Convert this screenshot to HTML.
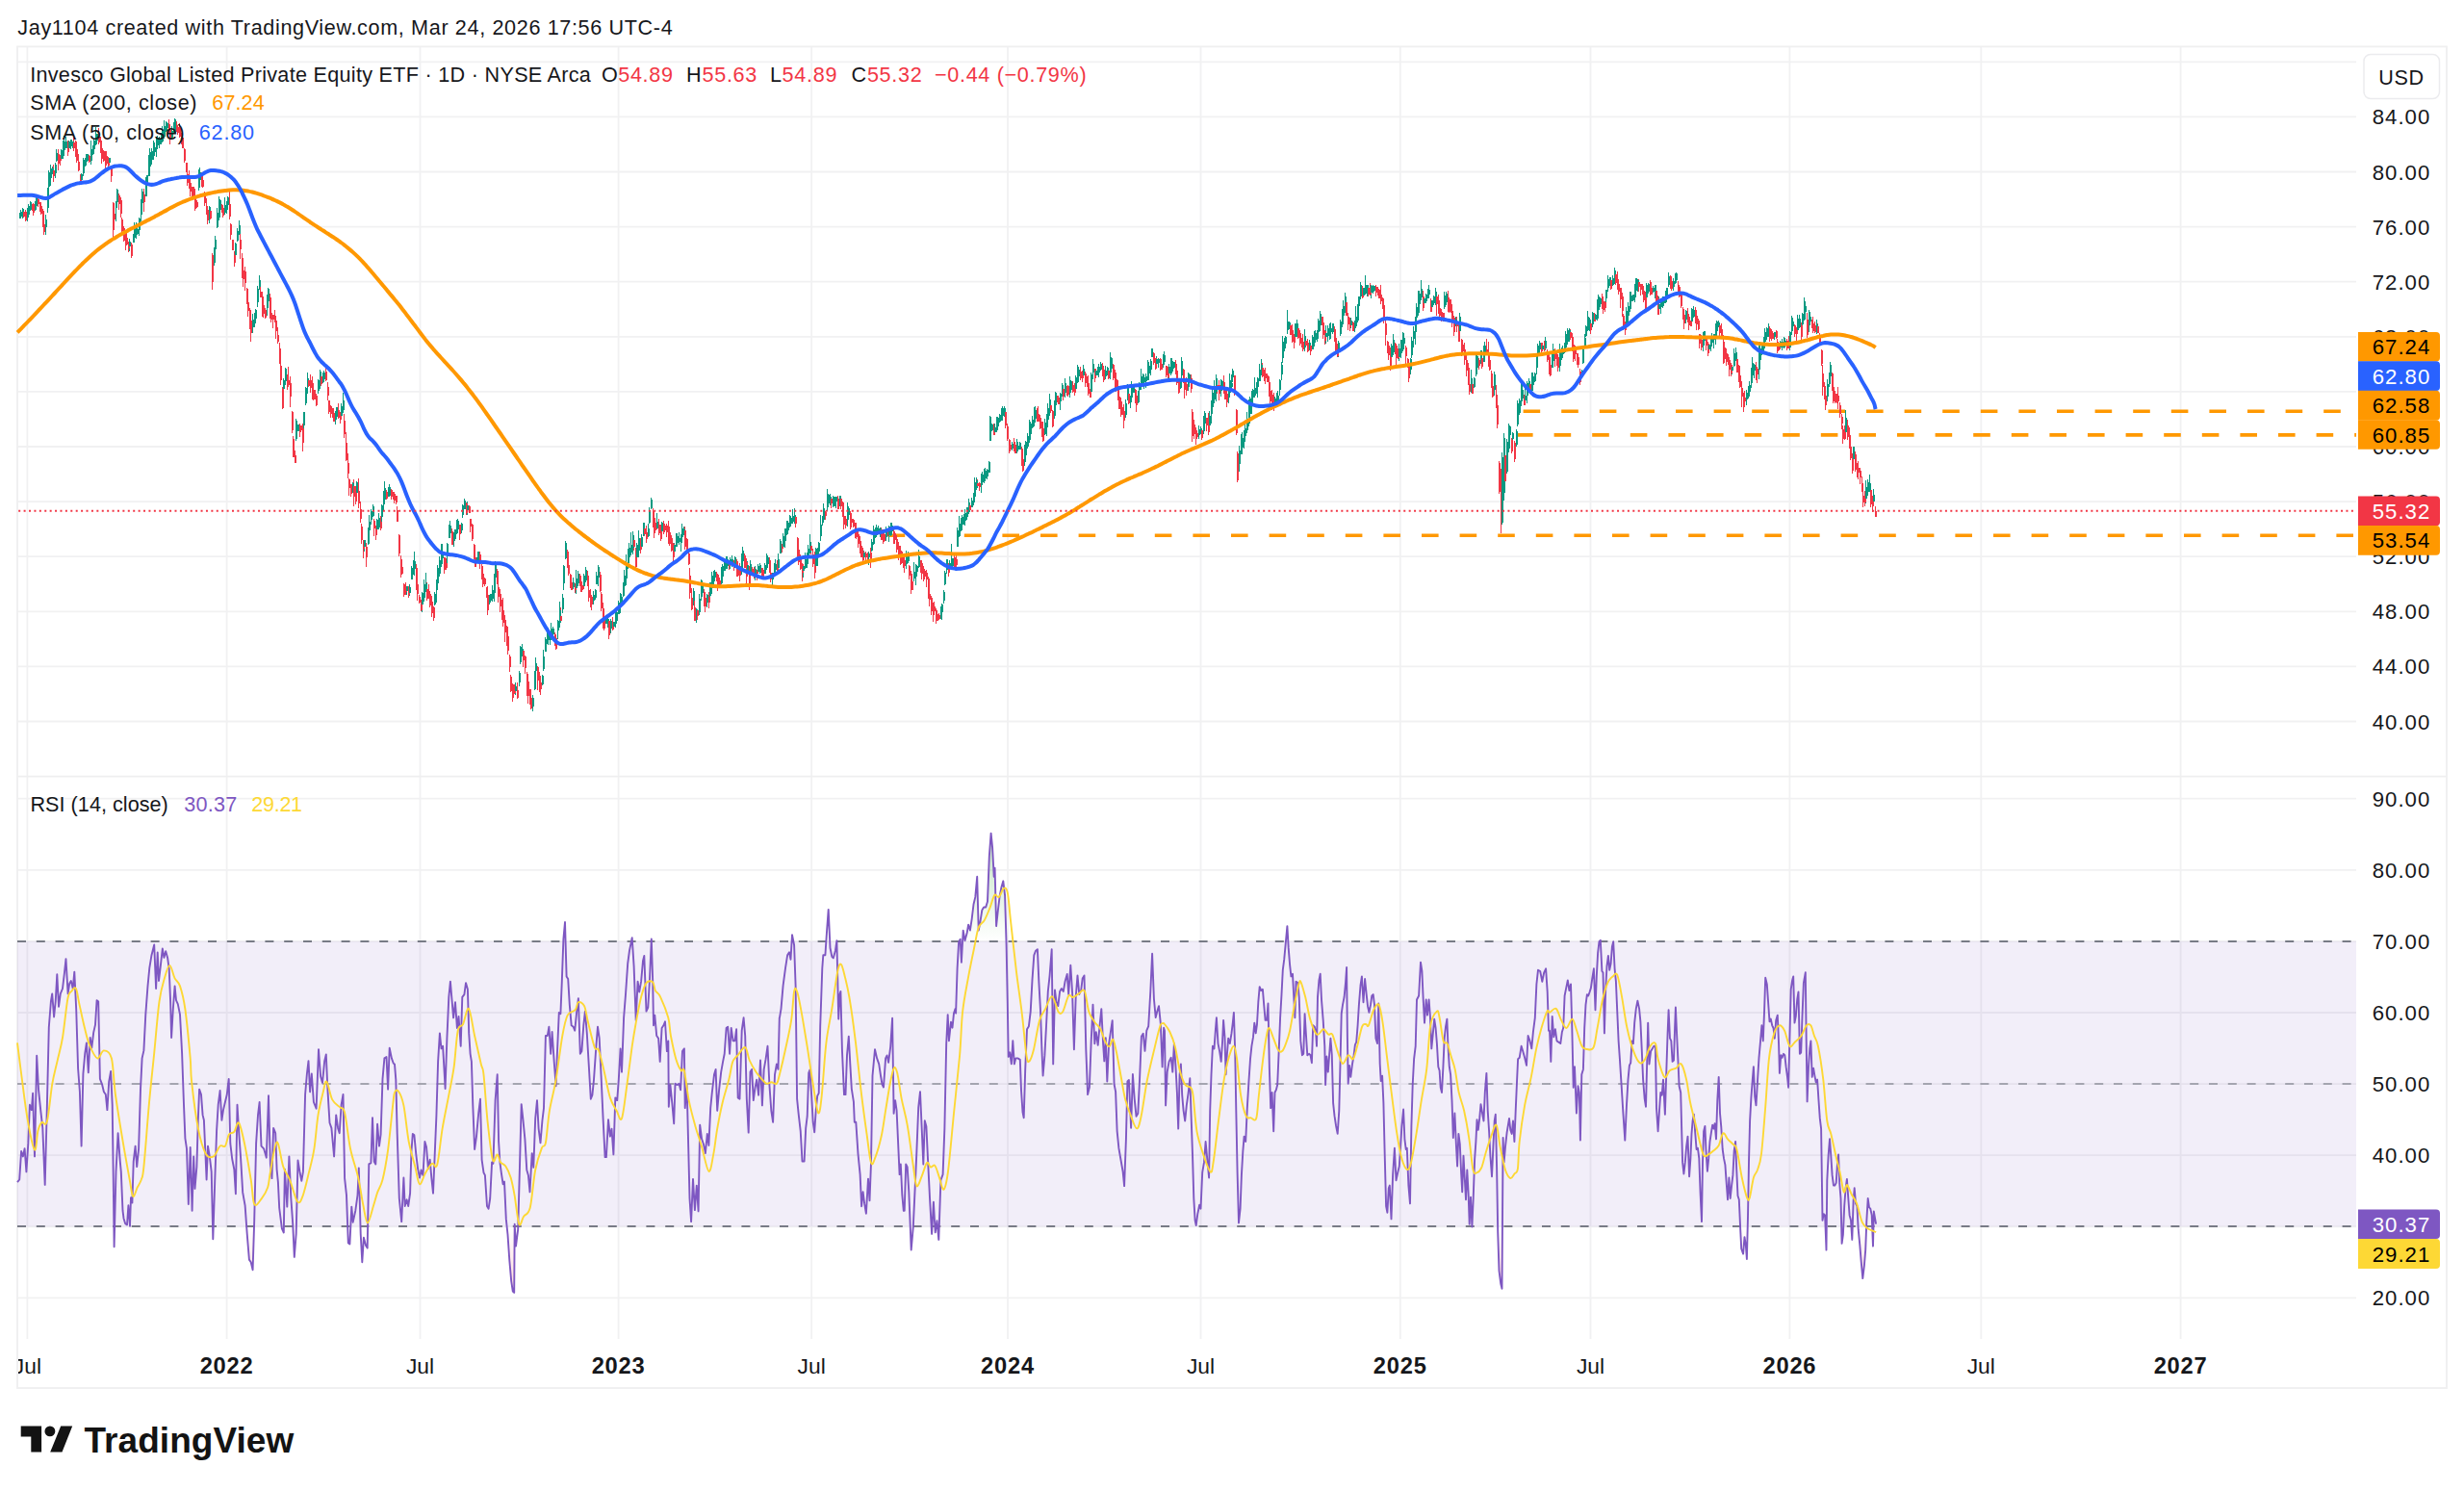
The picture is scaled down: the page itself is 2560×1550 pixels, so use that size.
<!DOCTYPE html>
<html lang="en"><head><meta charset="utf-8"><title>PSP chart</title>
<style>html,body{margin:0;padding:0;background:#fff}body{width:2560px;height:1550px;overflow:hidden}</style></head>
<body>
<svg width="2560" height="1550" viewBox="0 0 2560 1550" style="display:block">
<rect width="2560" height="1550" fill="#fff"/>
<path d="M28.4 48 V1391M235.6 48 V1391M436.5 48 V1391M642.6 48 V1391M843.2 48 V1391M1047 48 V1391M1247.5 48 V1391M1454.8 48 V1391M1652.5 48 V1391M1859.4 48 V1391M2058.3 48 V1391M2265.6 48 V1391M18 749.5 H2448M18 692.4 H2448M18 635.3 H2448M18 578.2 H2448M18 521.1 H2448M18 464 H2448M18 406.9 H2448M18 349.8 H2448M18 292.7 H2448M18 235.6 H2448M18 178.5 H2448M18 121.4 H2448M18 64.3 H2448M18 1348.4 H2448M18 1274.3 H2448M18 1200.2 H2448M18 1126.1 H2448M18 1052 H2448M18 977.9 H2448M18 903.8 H2448M18 829.7 H2448" stroke="#f1f1f2" stroke-width="1.8" fill="none"/>
<path d="M18 806.7 H2542" stroke="#efeff0" stroke-width="1.8" fill="none"/>
<rect x="18" y="48.4" width="2524" height="1393.6" fill="none" stroke="#efeff0" stroke-width="1.8"/>
<rect x="18" y="977.9" width="2430" height="296.4" fill="#7e57c2" fill-opacity="0.1"/>
<path d="M18 978 H2448 M18 1274 H2448" stroke="#787b86" stroke-width="2" stroke-dasharray="9 10.8" fill="none"/>
<path d="M18 1126 H2448" stroke="#787b86" stroke-opacity="0.6" stroke-width="2" stroke-dasharray="9 10.8" fill="none"/>
<text x="2495" y="757.5" text-anchor="middle" font-family="Liberation Sans, Arial, sans-serif" font-size="22.2" letter-spacing="1.0" fill="#16171b">40.00</text>
<text x="2495" y="700.4" text-anchor="middle" font-family="Liberation Sans, Arial, sans-serif" font-size="22.2" letter-spacing="1.0" fill="#16171b">44.00</text>
<text x="2495" y="643.3" text-anchor="middle" font-family="Liberation Sans, Arial, sans-serif" font-size="22.2" letter-spacing="1.0" fill="#16171b">48.00</text>
<text x="2495" y="586.2" text-anchor="middle" font-family="Liberation Sans, Arial, sans-serif" font-size="22.2" letter-spacing="1.0" fill="#16171b">52.00</text>
<text x="2495" y="529.1" text-anchor="middle" font-family="Liberation Sans, Arial, sans-serif" font-size="22.2" letter-spacing="1.0" fill="#16171b">56.00</text>
<text x="2495" y="472" text-anchor="middle" font-family="Liberation Sans, Arial, sans-serif" font-size="22.2" letter-spacing="1.0" fill="#16171b">60.00</text>
<text x="2495" y="414.9" text-anchor="middle" font-family="Liberation Sans, Arial, sans-serif" font-size="22.2" letter-spacing="1.0" fill="#16171b">64.00</text>
<text x="2495" y="357.8" text-anchor="middle" font-family="Liberation Sans, Arial, sans-serif" font-size="22.2" letter-spacing="1.0" fill="#16171b">68.00</text>
<text x="2495" y="300.7" text-anchor="middle" font-family="Liberation Sans, Arial, sans-serif" font-size="22.2" letter-spacing="1.0" fill="#16171b">72.00</text>
<text x="2495" y="243.6" text-anchor="middle" font-family="Liberation Sans, Arial, sans-serif" font-size="22.2" letter-spacing="1.0" fill="#16171b">76.00</text>
<text x="2495" y="186.5" text-anchor="middle" font-family="Liberation Sans, Arial, sans-serif" font-size="22.2" letter-spacing="1.0" fill="#16171b">80.00</text>
<text x="2495" y="129.4" text-anchor="middle" font-family="Liberation Sans, Arial, sans-serif" font-size="22.2" letter-spacing="1.0" fill="#16171b">84.00</text>
<text x="2495" y="1356.4" text-anchor="middle" font-family="Liberation Sans, Arial, sans-serif" font-size="22.2" letter-spacing="1.0" fill="#16171b">20.00</text>
<text x="2495" y="1282.3" text-anchor="middle" font-family="Liberation Sans, Arial, sans-serif" font-size="22.2" letter-spacing="1.0" fill="#16171b">30.00</text>
<text x="2495" y="1208.2" text-anchor="middle" font-family="Liberation Sans, Arial, sans-serif" font-size="22.2" letter-spacing="1.0" fill="#16171b">40.00</text>
<text x="2495" y="1134.1" text-anchor="middle" font-family="Liberation Sans, Arial, sans-serif" font-size="22.2" letter-spacing="1.0" fill="#16171b">50.00</text>
<text x="2495" y="1060" text-anchor="middle" font-family="Liberation Sans, Arial, sans-serif" font-size="22.2" letter-spacing="1.0" fill="#16171b">60.00</text>
<text x="2495" y="985.9" text-anchor="middle" font-family="Liberation Sans, Arial, sans-serif" font-size="22.2" letter-spacing="1.0" fill="#16171b">70.00</text>
<text x="2495" y="911.8" text-anchor="middle" font-family="Liberation Sans, Arial, sans-serif" font-size="22.2" letter-spacing="1.0" fill="#16171b">80.00</text>
<text x="2495" y="837.7" text-anchor="middle" font-family="Liberation Sans, Arial, sans-serif" font-size="22.2" letter-spacing="1.0" fill="#16171b">90.00</text>
<path d="M1582.6 427.2 H2448" stroke="#ff9800" stroke-width="3.6" stroke-dasharray="17.6 22" fill="none"/>
<path d="M1575 451.9 H2448" stroke="#ff9800" stroke-width="3.6" stroke-dasharray="17.6 22" fill="none"/>
<path d="M922.6 556.2 H2448" stroke="#ff9800" stroke-width="3.6" stroke-dasharray="17.6 22" fill="none"/>
<g fill="none" shape-rendering="crispEdges">
<path d="M20.5 221V227M21.5 218V226M23.5 216V227M28.5 216V230M29.5 212V224M31.5 209V219M36.5 209V219M37.5 204V215M47.5 223V244M49.5 195V221M50.5 177V202M52.5 171V193M54.5 173V181M57.5 169V185M58.5 155V168M63.5 155V167M65.5 146V165M66.5 141V158M68.5 142V154M71.5 146V155M73.5 145V155M75.5 147V154M84.5 180V189M86.5 164V183M88.5 164V173M89.5 160V169M91.5 160V167M94.5 146V171M96.5 151V161M97.5 144V156M99.5 132V151M100.5 139V147M113.5 164V172M120.5 209V230M121.5 196V210M134.5 248V261M138.5 243V252M139.5 231V252M141.5 231V248M142.5 235V243M144.5 226V245M146.5 207V230M147.5 196V215M151.5 184V204M152.5 182V193M154.5 161V183M155.5 154V173M157.5 154V171M159.5 146V166M160.5 152V159M162.5 142V163M163.5 141V152M165.5 142V154M167.5 138V150M168.5 131V147M170.5 125V144M172.5 126V137M173.5 128V134M178.5 131V145M180.5 127V139M181.5 123V139M206.5 176V198M207.5 174V190M217.5 214V232M222.5 257V276M223.5 245V267M225.5 216V237M227.5 204V229M228.5 207V219M233.5 205V223M235.5 209V222M236.5 204V217M244.5 252V266M246.5 237V251M248.5 229V244M262.5 326V346M264.5 325V340M265.5 321V333M267.5 297V319M269.5 286V301M277.5 306V328M278.5 299V317M294.5 393V410M296.5 382V400M307.5 435V458M309.5 441V448M315.5 428V450M317.5 402V421M319.5 387V409M330.5 394V409M332.5 384V404M335.5 387V398M336.5 385V396M348.5 427V441M349.5 423V436M354.5 419V436M356.5 408V429M366.5 501V512M370.5 500V513M378.5 561V573M382.5 548V566M383.5 535V555M385.5 529V545M387.5 524V537M391.5 539V552M393.5 533V550M396.5 524V546M398.5 510V531M399.5 500V520M403.5 506V516M404.5 503V516M422.5 609V618M425.5 607V619M427.5 588V602M429.5 582V597M430.5 573V598M438.5 615V636M440.5 602V625M442.5 595V615M451.5 615V629M453.5 602V626M454.5 587V607M456.5 578V599M458.5 565V589M459.5 565V581M464.5 564V587M466.5 545V559M467.5 541V555M471.5 553V568M472.5 550V562M474.5 540V555M475.5 539V553M479.5 543V554M480.5 524V538M482.5 518V529M485.5 521V535M495.5 579V585M496.5 573V585M508.5 618V628M509.5 617V626M511.5 608V625M513.5 596V625M514.5 583V603M535.5 709V722M539.5 697V713M540.5 671V690M542.5 669V682M553.5 722V739M555.5 697V717M556.5 683V703M563.5 701V712M564.5 675V697M566.5 662V677M568.5 651V669M569.5 652V670M571.5 659V670M572.5 647V665M574.5 651V661M579.5 644V664M581.5 625V652M584.5 617V637M585.5 587V613M587.5 562V581M595.5 600V612M598.5 592V617M600.5 593V609M606.5 596V610M608.5 589V605M616.5 614V628M618.5 612V623M619.5 594V607M621.5 587V609M629.5 639V648M631.5 641V652M634.5 643V658M637.5 646V653M639.5 636V652M640.5 633V648M642.5 624V638M644.5 616V637M645.5 617V625M647.5 605V620M648.5 592V616M650.5 576V608M652.5 570V591M653.5 564V579M655.5 553V577M657.5 552V576M661.5 564V582M663.5 551V579M666.5 555V570M668.5 543V557M673.5 544V558M674.5 527V544M676.5 517V529M682.5 533V549M687.5 542V553M700.5 564V576M702.5 554V568M703.5 554V568M705.5 553V566M707.5 555V573M708.5 544V560M710.5 547V556M720.5 611V629M723.5 632V647M726.5 617V639M728.5 602V624M729.5 603V620M734.5 617V631M737.5 605V622M739.5 594V617M741.5 593V611M742.5 592V601M749.5 589V607M750.5 586V599M752.5 580V593M754.5 578V591M755.5 581V591M758.5 579V591M760.5 577V589M763.5 578V590M770.5 575V597M771.5 568V589M776.5 583V595M779.5 582V599M784.5 588V603M787.5 586V596M789.5 585V596M794.5 585V596M796.5 575V592M797.5 577V586M802.5 595V610M804.5 585V599M805.5 581V593M808.5 575V593M810.5 560V575M813.5 554V569M815.5 549V569M817.5 541V556M818.5 541V553M820.5 535V548M821.5 536V547M823.5 529V544M825.5 528V544M834.5 587V600M836.5 574V591M838.5 574V590M839.5 566V585M841.5 555V575M847.5 569V590M849.5 569V588M850.5 563V579M852.5 535V562M854.5 536V546M855.5 523V543M859.5 508V531M860.5 513V527M862.5 513V525M865.5 515V527M867.5 516V526M868.5 516V528M872.5 515V526M880.5 522V547M881.5 526V537M897.5 572V581M902.5 573V587M905.5 560V573M907.5 546V566M909.5 548V559M910.5 545V556M912.5 546V555M914.5 548V558M920.5 547V562M923.5 546V563M925.5 543V557M926.5 544V556M941.5 572V591M943.5 573V585M949.5 584V604M951.5 586V608M952.5 587V599M954.5 571V590M977.5 630V643M978.5 627V644M980.5 613V627M981.5 593V608M983.5 581V596M986.5 582V592M988.5 565V589M990.5 580V588M994.5 548V568M996.5 536V558M998.5 538V552M999.5 535V547M1001.5 534V545M1002.5 529V546M1004.5 527V540M1006.5 518V534M1009.5 517V527M1011.5 512V525M1012.5 496V516M1014.5 496V509M1019.5 492V512M1020.5 490V503M1022.5 487V502M1023.5 486V500M1025.5 487V498M1027.5 479V491M1028.5 432V458M1030.5 440V448M1033.5 440V451M1035.5 433V449M1036.5 433V447M1038.5 430V439M1040.5 424V437M1041.5 422V437M1043.5 422V433M1051.5 459V468M1056.5 456V471M1057.5 459V469M1059.5 459V467M1064.5 462V484M1065.5 458V474M1067.5 450V466M1069.5 436V460M1070.5 438V455M1072.5 432V445M1074.5 423V443M1075.5 422V436M1085.5 435V452M1087.5 430V453M1088.5 419V436M1090.5 409V432M1095.5 416V435M1096.5 407V427M1101.5 408V426M1103.5 398V412M1106.5 393V413M1111.5 391V413M1112.5 396V408M1117.5 390V406M1119.5 379V398M1120.5 381V392M1125.5 379V392M1133.5 387V412M1135.5 373V394M1138.5 385V391M1140.5 381V390M1141.5 378V392M1143.5 376V385M1148.5 380V394M1150.5 381V390M1153.5 366V394M1154.5 371V387M1169.5 415V434M1171.5 399V416M1174.5 411V424M1175.5 396V418M1177.5 402V408M1182.5 406V419M1183.5 397V412M1185.5 383V405M1187.5 388V398M1188.5 389V404M1190.5 388V403M1192.5 374V395M1193.5 376V388M1195.5 373V390M1196.5 362V371M1201.5 370V379M1203.5 372V382M1208.5 368V382M1209.5 365V378M1214.5 378V393M1216.5 372V390M1217.5 372V387M1219.5 376V383M1226.5 394V404M1227.5 371V394M1234.5 387V406M1235.5 388V397M1245.5 442V456M1247.5 443V451M1250.5 432V451M1251.5 427V440M1256.5 427V442M1258.5 416V440M1259.5 403V427M1261.5 395V419M1263.5 389V417M1268.5 394V412M1269.5 395V406M1276.5 403V419M1277.5 388V411M1279.5 389V405M1280.5 383V397M1287.5 463V490M1289.5 451V472M1290.5 449V466M1292.5 447V466M1293.5 438V457M1295.5 428V450M1297.5 415V443M1298.5 412V436M1300.5 406V430M1301.5 404V416M1303.5 392V413M1305.5 397V409M1306.5 392V413M1308.5 378V396M1310.5 373V390M1324.5 412V424M1326.5 408V422M1327.5 406V423M1329.5 394V411M1331.5 376V395M1332.5 349V377M1334.5 351V365M1335.5 349V358M1337.5 322V347M1339.5 334V342M1345.5 336V353M1347.5 332V350M1355.5 342V365M1360.5 353V364M1363.5 348V363M1365.5 344V360M1366.5 343V356M1368.5 343V355M1369.5 331V347M1371.5 323V344M1377.5 338V357M1379.5 338V355M1381.5 336V353M1382.5 335V352M1384.5 336V347M1390.5 354V371M1392.5 332V349M1394.5 321V340M1395.5 312V333M1397.5 304V325M1403.5 330V341M1407.5 333V345M1408.5 318V340M1410.5 316V335M1411.5 308V320M1413.5 293V311M1416.5 299V308M1418.5 286V306M1420.5 296V308M1424.5 296V310M1426.5 296V305M1428.5 297V302M1445.5 357V373M1447.5 347V369M1453.5 357V375M1455.5 353V372M1457.5 345V365M1458.5 346V361M1465.5 372V389M1466.5 350V372M1468.5 339V361M1470.5 329V358M1471.5 315V335M1473.5 302V328M1474.5 302V318M1476.5 291V312M1479.5 308V316M1481.5 305V315M1483.5 300V310M1484.5 296V309M1487.5 312V323M1489.5 307V317M1491.5 299V317M1500.5 303V321M1502.5 303V317M1512.5 329V339M1516.5 325V355M1528.5 384V408M1531.5 392V403M1533.5 367V391M1534.5 369V386M1538.5 364V378M1541.5 359V376M1542.5 355V376M1552.5 386V411M1560.5 470V545M1562.5 450V520M1565.5 456V492M1567.5 440V470M1568.5 442V453M1571.5 449V457M1575.5 446V464M1576.5 416V443M1578.5 414V431M1580.5 396V422M1581.5 396V414M1584.5 401V417M1586.5 396V419M1588.5 393V407M1591.5 387V406M1592.5 387V403M1594.5 387V397M1596.5 370V389M1597.5 357V378M1599.5 354V368M1602.5 358V364M1605.5 350V364M1612.5 366V382M1613.5 357V381M1620.5 357V386M1622.5 361V374M1623.5 359V369M1625.5 356V367M1626.5 344V366M1628.5 341V358M1630.5 341V355M1643.5 384V393M1644.5 360V378M1646.5 347V362M1647.5 338V350M1649.5 323V344M1651.5 330V344M1654.5 324V340M1657.5 326V334M1659.5 311V333M1660.5 306V323M1662.5 309V319M1668.5 301V314M1670.5 286V303M1672.5 288V297M1675.5 286V297M1677.5 278V295M1689.5 319V338M1691.5 314V336M1693.5 303V324M1694.5 303V318M1696.5 306V313M1698.5 295V314M1699.5 289V304M1701.5 290V303M1710.5 294V310M1712.5 294V305M1717.5 297V304M1719.5 296V310M1723.5 308V324M1725.5 310V326M1727.5 308V320M1728.5 308V318M1730.5 302V315M1731.5 299V314M1733.5 283V298M1738.5 289V302M1740.5 284V295M1741.5 283V292M1751.5 322V336M1757.5 320V336M1759.5 318V330M1769.5 345V365M1770.5 344V358M1775.5 357V363M1777.5 351V365M1778.5 346V357M1780.5 347V362M1782.5 336V358M1783.5 333V348M1785.5 333V340M1799.5 379V389M1801.5 362V381M1803.5 361V375M1814.5 405V421M1816.5 401V414M1817.5 396V412M1819.5 382V403M1820.5 371V398M1822.5 378V393M1827.5 359V394M1828.5 355V381M1830.5 356V369M1832.5 350V366M1833.5 341V359M1835.5 340V353M1837.5 336V350M1843.5 345V353M1849.5 354V362M1851.5 352V364M1853.5 350V362M1854.5 352V361M1859.5 344V364M1861.5 328V348M1862.5 334V343M1867.5 327V343M1869.5 327V341M1872.5 325V340M1874.5 309V333M1875.5 315V332M1879.5 322V345M1880.5 324V338M1887.5 332V347M1898.5 394V417M1900.5 387V402M1901.5 376V392M1917.5 426V450M1925.5 464V480M1938.5 499V523M1940.5 498V515M1942.5 493V511M1946.5 508V524" stroke="#089981" stroke-width="1"/>
<path d="M24.5 219V226M26.5 218V230M33.5 212V219M34.5 211V224M39.5 204V215M41.5 210V220M42.5 213V223M44.5 217V236M45.5 232V244M55.5 171V189M60.5 155V177M62.5 161V172M70.5 146V162M76.5 140V157M78.5 146V163M79.5 147V169M81.5 160V178M83.5 181V192M92.5 161V169M102.5 133V150M104.5 142V159M105.5 151V170M107.5 156V168M109.5 157V177M110.5 157V172M112.5 163V177M115.5 174V189M117.5 210V250M118.5 220V229M123.5 201V218M125.5 205V226M126.5 226V244M128.5 235V251M130.5 239V260M131.5 245V255M133.5 251V262M136.5 252V268M149.5 196V220M175.5 124V138M176.5 134V150M183.5 126V137M184.5 130V140M186.5 128V143M188.5 138V150M189.5 141V154M191.5 154V169M193.5 169V179M194.5 178V193M196.5 177V196M197.5 187V204M199.5 194V206M201.5 194V206M202.5 199V219M204.5 208V216M209.5 179V194M210.5 185V195M212.5 199V214M214.5 206V223M215.5 216V233M218.5 216V228M220.5 263V301M230.5 212V221M231.5 215V226M238.5 199V228M239.5 232V249M241.5 249V260M243.5 261V277M249.5 241V269M251.5 263V289M252.5 277V298M254.5 277V302M256.5 299V316M257.5 308V329M259.5 320V342M260.5 328V355M270.5 294V309M272.5 303V329M273.5 308V330M275.5 320V331M280.5 305V331M281.5 320V335M283.5 327V341M285.5 322V335M286.5 333V352M288.5 340V357M290.5 356V378M291.5 373V400M293.5 402V425M298.5 389V405M299.5 381V402M301.5 391V423M303.5 427V450M304.5 453V475M306.5 468V481M311.5 440V454M312.5 442V449M314.5 440V469M320.5 394V402M322.5 389V408M324.5 391V415M325.5 405V416M327.5 405V415M328.5 410V422M333.5 391V401M338.5 381V396M340.5 397V416M341.5 416V430M343.5 421V434M345.5 424V434M346.5 426V438M351.5 419V435M353.5 428V440M357.5 430V455M359.5 449V479M361.5 471V497M362.5 497V515M364.5 503V516M367.5 498V526M369.5 505V524M372.5 497V528M374.5 521V543M375.5 544V565M377.5 561V580M380.5 564V589M388.5 539V557M390.5 546V561M395.5 536V551M401.5 509V519M406.5 508V519M408.5 511V519M409.5 511V523M411.5 515V524M412.5 526V542M414.5 555V578M416.5 577V600M417.5 585V596M419.5 606V620M421.5 605V618M424.5 609V621M432.5 586V613M433.5 600V624M435.5 618V627M437.5 623V635M443.5 605V624M445.5 607V622M446.5 614V631M448.5 619V641M450.5 630V645M461.5 579V596M463.5 580V592M469.5 549V566M477.5 545V561M484.5 522V535M487.5 525V533M488.5 539V553M490.5 544V562M492.5 565V581M493.5 573V589M498.5 573V591M500.5 586V602M501.5 595V610M503.5 600V609M505.5 610V621M506.5 609V639M516.5 591V607M517.5 602V626M519.5 612V636M521.5 623V644M522.5 621V651M524.5 639V667M526.5 650V671M527.5 654V680M529.5 680V698M530.5 701V719M532.5 710V729M534.5 711V721M537.5 709V726M543.5 674V693M545.5 681V700M547.5 698V723M548.5 701V731M550.5 716V732M551.5 719V737M558.5 692V717M560.5 698V719M561.5 708V722M576.5 657V671M577.5 660V675M582.5 631V646M589.5 571V590M590.5 584V598M592.5 596V611M593.5 597V613M597.5 606V616M602.5 596V609M603.5 604V615M605.5 608V613M610.5 593V609M611.5 609V625M613.5 612V631M614.5 620V634M623.5 594V615M624.5 615V635M626.5 626V653M627.5 632V655M632.5 644V664M636.5 641V655M658.5 557V572M660.5 569V591M665.5 559V575M669.5 548V557M671.5 546V564M678.5 528V548M679.5 537V559M681.5 543V551M684.5 539V556M686.5 545V562M689.5 541V555M690.5 544V553M692.5 544V558M694.5 541V565M695.5 550V567M697.5 556V573M699.5 564V583M711.5 547V571M713.5 559V575M715.5 572V587M716.5 590V622M718.5 611V634M721.5 618V645M724.5 634V644M731.5 612V630M732.5 620V636M736.5 615V632M744.5 594V604M745.5 596V614M747.5 600V611M757.5 582V592M762.5 582V593M765.5 581V599M766.5 587V599M768.5 585V604M773.5 575V590M775.5 580V609M778.5 588V613M781.5 589V597M783.5 589V601M786.5 592V603M791.5 590V600M792.5 590V602M799.5 579V595M800.5 593V605M807.5 582V593M812.5 565V574M826.5 536V548M828.5 558V581M829.5 570V587M831.5 576V592M833.5 585V604M842.5 563V576M844.5 570V589M846.5 573V601M857.5 531V540M863.5 518V528M870.5 515V529M873.5 516V529M875.5 521V537M876.5 536V550M878.5 536V549M883.5 531V550M884.5 537V543M886.5 539V548M888.5 543V559M889.5 544V560M891.5 551V569M893.5 557V575M894.5 565V579M896.5 569V585M899.5 573V584M901.5 574V583M904.5 569V590M915.5 548V561M917.5 550V565M918.5 554V562M922.5 549V557M928.5 548V565M930.5 554V561M931.5 558V574M933.5 563V582M935.5 567V587M936.5 572V586M938.5 578V590M939.5 577V595M944.5 587V602M946.5 593V617M947.5 602V613M956.5 582V595M957.5 582V602M959.5 588V604M960.5 591V602M962.5 592V610M964.5 599V622M965.5 613V630M967.5 619V639M969.5 626V646M970.5 625V639M972.5 632V648M973.5 636V645M975.5 637V644M985.5 585V599M991.5 574V591M993.5 577V591M1007.5 524V531M1015.5 498V506M1017.5 501V510M1032.5 440V452M1044.5 425V445M1046.5 440V458M1048.5 456V471M1049.5 457V469M1053.5 455V469M1054.5 459V471M1061.5 464V484M1062.5 470V490M1077.5 424V438M1078.5 422V438M1080.5 431V446M1082.5 438V454M1083.5 443V459M1091.5 418V429M1093.5 426V444M1098.5 411V418M1099.5 411V420M1104.5 402V416M1108.5 401V411M1109.5 400V412M1114.5 396V408M1116.5 398V411M1122.5 381V395M1124.5 385V397M1127.5 386V402M1129.5 391V402M1130.5 390V411M1132.5 404V413M1137.5 383V397M1145.5 377V391M1146.5 380V397M1151.5 383V394M1156.5 378V395M1158.5 384V404M1159.5 389V407M1161.5 395V416M1162.5 404V425M1164.5 413V433M1166.5 423V431M1167.5 420V445M1172.5 404V420M1179.5 404V419M1180.5 409V428M1198.5 366V379M1200.5 372V384M1205.5 372V385M1206.5 375V384M1211.5 380V392M1213.5 381V393M1221.5 374V389M1222.5 383V400M1224.5 393V409M1229.5 383V398M1230.5 389V414M1232.5 392V411M1237.5 389V408M1238.5 425V459M1240.5 436V456M1242.5 444V462M1243.5 449V455M1248.5 445V457M1253.5 434V448M1255.5 429V452M1264.5 399V409M1266.5 395V416M1271.5 390V409M1272.5 398V415M1274.5 404V423M1282.5 390V411M1284.5 425V452M1285.5 469V501M1311.5 377V392M1313.5 384V396M1314.5 382V399M1316.5 388V397M1318.5 391V412M1319.5 404V419M1321.5 405V426M1323.5 408V427M1340.5 338V348M1342.5 337V356M1344.5 347V362M1348.5 340V352M1350.5 343V359M1352.5 351V361M1353.5 347V365M1356.5 353V360M1358.5 352V366M1361.5 356V369M1373.5 329V338M1374.5 334V352M1376.5 343V358M1386.5 339V355M1387.5 351V368M1389.5 357V371M1398.5 314V328M1400.5 325V343M1402.5 330V344M1405.5 334V344M1415.5 297V310M1421.5 296V308M1423.5 294V307M1429.5 296V308M1431.5 298V307M1432.5 301V310M1434.5 296V316M1436.5 309V321M1437.5 316V336M1439.5 330V359M1441.5 354V367M1442.5 356V374M1444.5 361V385M1449.5 356V368M1450.5 359V380M1452.5 362V373M1460.5 359V381M1462.5 372V382M1463.5 373V397M1478.5 302V323M1486.5 310V324M1492.5 306V328M1494.5 306V326M1495.5 318V333M1497.5 321V334M1499.5 325V334M1504.5 302V324M1505.5 309V325M1507.5 311V325M1508.5 319V340M1510.5 328V349M1513.5 329V345M1515.5 337V355M1518.5 352V370M1520.5 358V365M1521.5 356V379M1523.5 368V391M1525.5 377V400M1526.5 393V410M1529.5 396V409M1536.5 372V384M1539.5 369V383M1544.5 352V369M1546.5 355V381M1547.5 373V385M1549.5 385V403M1550.5 397V413M1554.5 400V424M1555.5 417V445M1557.5 479V513M1559.5 487V554M1563.5 471V503M1570.5 455V471M1573.5 458V480M1583.5 410V421M1589.5 398V409M1601.5 356V366M1604.5 354V365M1607.5 363V376M1609.5 367V389M1610.5 372V391M1615.5 362V381M1617.5 367V380M1618.5 368V386M1631.5 342V353M1633.5 346V365M1634.5 357V376M1636.5 359V375M1638.5 367V379M1639.5 367V382M1641.5 383V400M1652.5 335V347M1656.5 325V334M1664.5 305V321M1665.5 308V326M1667.5 313V324M1673.5 288V301M1678.5 284V296M1680.5 282V301M1681.5 291V306M1683.5 299V320M1685.5 304V329M1686.5 326V343M1688.5 334V348M1702.5 290V303M1704.5 295V307M1706.5 295V306M1707.5 301V314M1709.5 303V323M1714.5 291V307M1715.5 293V306M1720.5 302V315M1722.5 307V327M1735.5 286V300M1736.5 291V302M1743.5 292V305M1744.5 297V309M1746.5 306V320M1748.5 319V332M1749.5 323V342M1753.5 320V335M1754.5 327V343M1756.5 333V339M1761.5 319V336M1762.5 322V343M1764.5 331V343M1765.5 347V362M1767.5 348V364M1772.5 349V364M1774.5 355V370M1786.5 336V352M1788.5 336V352M1790.5 348V378M1791.5 358V377M1793.5 362V380M1795.5 368V379M1796.5 371V391M1798.5 377V391M1804.5 372V387M1806.5 379V397M1807.5 388V403M1809.5 396V423M1811.5 408V428M1812.5 406V421M1824.5 376V395M1825.5 381V398M1838.5 339V355M1840.5 342V354M1841.5 346V352M1845.5 343V352M1846.5 352V367M1848.5 356V364M1856.5 352V364M1858.5 349V362M1864.5 337V350M1866.5 340V355M1871.5 335V353M1877.5 325V351M1882.5 332V341M1883.5 329V346M1885.5 334V346M1888.5 336V346M1890.5 346V359M1892.5 363V380M1893.5 379V411M1895.5 397V415M1896.5 401V426M1903.5 387V406M1904.5 399V419M1906.5 406V419M1908.5 409V419M1909.5 402V425M1911.5 418V434M1913.5 430V446M1914.5 442V461M1916.5 442V457M1919.5 436V457M1921.5 444V466M1922.5 455V478M1924.5 471V492M1927.5 469V490M1929.5 481V496M1930.5 479V498M1932.5 486V503M1934.5 495V511M1935.5 509V527M1937.5 510V526M1943.5 505V527M1945.5 515V532M1948.5 526V537" stroke="#f23645" stroke-width="1"/>
<path d="M21 222V227M22 220V225M24 217V224" stroke="#089981" stroke-width="2"/>
<path d="M25 220V225M27 220V229" stroke="#f23645" stroke-width="2"/>
<path d="M29 220V226M30 214V223M32 210V218" stroke="#089981" stroke-width="2"/>
<path d="M34 213V218M35 212V221" stroke="#f23645" stroke-width="2"/>
<path d="M37 212V218M38 206V214" stroke="#089981" stroke-width="2"/>
<path d="M40 207V212M42 210V218M43 214V222M45 219V232M46 233V241" stroke="#f23645" stroke-width="2"/>
<path d="M48 228V236M50 201V216M51 179V194M53 175V185M55 175V180" stroke="#089981" stroke-width="2"/>
<path d="M56 177V183" stroke="#f23645" stroke-width="2"/>
<path d="M58 171V180M59 159V167" stroke="#089981" stroke-width="2"/>
<path d="M61 160V170M63 163V167" stroke="#f23645" stroke-width="2"/>
<path d="M64 156V165M66 150V162M67 147V156M69 147V154" stroke="#089981" stroke-width="2"/>
<path d="M71 149V158" stroke="#f23645" stroke-width="2"/>
<path d="M72 147V154M74 145V152M76 147V151" stroke="#089981" stroke-width="2"/>
<path d="M77 148V154M79 151V159M80 155V167M82 168V177M84 183V190" stroke="#f23645" stroke-width="2"/>
<path d="M85 181V187M87 166V180M89 164V172M90 160V168M92 162V167" stroke="#089981" stroke-width="2"/>
<path d="M93 162V168" stroke="#f23645" stroke-width="2"/>
<path d="M95 155V167M97 152V160M98 146V155M100 141V150M101 139V146" stroke="#089981" stroke-width="2"/>
<path d="M103 142V148M105 146V159M106 154V165M108 157V167M110 161V168M111 162V170M113 164V172" stroke="#f23645" stroke-width="2"/>
<path d="M114 164V169" stroke="#089981" stroke-width="2"/>
<path d="M116 174V183M118 211V239M119 222V228" stroke="#f23645" stroke-width="2"/>
<path d="M121 209V216M122 197V210" stroke="#089981" stroke-width="2"/>
<path d="M124 203V212M126 208V222M127 228V240M129 237V250M131 242V253M132 247V254M134 251V258" stroke="#f23645" stroke-width="2"/>
<path d="M135 251V256" stroke="#089981" stroke-width="2"/>
<path d="M137 254V266" stroke="#f23645" stroke-width="2"/>
<path d="M139 244V252M140 237V247M142 238V244M143 238V243M145 227V239M147 212V223M148 199V211" stroke="#089981" stroke-width="2"/>
<path d="M150 202V210" stroke="#f23645" stroke-width="2"/>
<path d="M152 190V204M153 182V190M155 169V183M156 158V173M158 157V166M160 148V162M161 153V158M163 145V155M164 144V151M166 145V150M168 143V148M169 136V147M171 131V142M173 127V136M174 128V133" stroke="#089981" stroke-width="2"/>
<path d="M176 129V137M177 135V145" stroke="#f23645" stroke-width="2"/>
<path d="M179 136V143M181 130V138M182 124V138" stroke="#089981" stroke-width="2"/>
<path d="M184 130V135M185 132V138M187 133V142M189 139V147M190 143V154M192 155V167M194 169V178M195 181V190M197 184V192M198 190V199M200 194V204M202 196V204M203 204V217M205 210V215" stroke="#f23645" stroke-width="2"/>
<path d="M207 179V195M208 179V187" stroke="#089981" stroke-width="2"/>
<path d="M210 183V190M211 187V194M213 200V211M215 214V222M216 218V229" stroke="#f23645" stroke-width="2"/>
<path d="M218 215V223" stroke="#089981" stroke-width="2"/>
<path d="M219 219V227M221 265V293" stroke="#f23645" stroke-width="2"/>
<path d="M223 262V273M224 249V259M226 221V236M228 211V226M229 208V218" stroke="#089981" stroke-width="2"/>
<path d="M231 213V220M232 216V224" stroke="#f23645" stroke-width="2"/>
<path d="M234 213V221M236 209V218M237 205V213" stroke="#089981" stroke-width="2"/>
<path d="M239 212V225M240 233V244M242 249V260M244 265V273" stroke="#f23645" stroke-width="2"/>
<path d="M245 253V265M247 240V250M249 234V243" stroke="#089981" stroke-width="2"/>
<path d="M250 249V259M252 268V281M253 281V290M255 282V294M257 300V311M258 314V323M260 322V336M261 333V346" stroke="#f23645" stroke-width="2"/>
<path d="M263 332V340M265 326V336M266 322V331M268 300V314M270 291V298" stroke="#089981" stroke-width="2"/>
<path d="M271 303V309M273 310V322M274 317V326M276 322V330" stroke="#f23645" stroke-width="2"/>
<path d="M278 308V320M279 300V313" stroke="#089981" stroke-width="2"/>
<path d="M281 309V323M282 325V332M284 327V332M286 328V333M287 333V344M289 348V355M291 362V377M292 380V395M294 403V424" stroke="#f23645" stroke-width="2"/>
<path d="M295 395V404M297 383V396" stroke="#089981" stroke-width="2"/>
<path d="M299 391V402M300 395V400M302 398V412M304 428V447M305 456V475M307 473V481" stroke="#f23645" stroke-width="2"/>
<path d="M308 437V456M310 441V448" stroke="#089981" stroke-width="2"/>
<path d="M312 442V447M313 442V447M315 445V460" stroke="#f23645" stroke-width="2"/>
<path d="M316 428V442M318 403V419M320 393V401" stroke="#089981" stroke-width="2"/>
<path d="M321 395V401M323 395V403M325 398V410M326 405V415M328 409V415M329 411V421" stroke="#f23645" stroke-width="2"/>
<path d="M331 395V406M333 386V398" stroke="#089981" stroke-width="2"/>
<path d="M334 391V399" stroke="#f23645" stroke-width="2"/>
<path d="M336 391V397M337 387V394" stroke="#089981" stroke-width="2"/>
<path d="M339 386V395M341 402V411M342 416V428M344 422V430M346 424V433M347 429V438" stroke="#f23645" stroke-width="2"/>
<path d="M349 428V435M350 423V433" stroke="#089981" stroke-width="2"/>
<path d="M352 426V434M354 430V436" stroke="#f23645" stroke-width="2"/>
<path d="M355 422V432M357 416V426" stroke="#089981" stroke-width="2"/>
<path d="M358 437V451M360 460V478M362 481V492M363 498V507M365 503V513" stroke="#f23645" stroke-width="2"/>
<path d="M367 502V509" stroke="#089981" stroke-width="2"/>
<path d="M368 505V516M370 510V521" stroke="#f23645" stroke-width="2"/>
<path d="M371 501V512" stroke="#089981" stroke-width="2"/>
<path d="M373 510V523M375 529V539M376 547V561M378 562V570" stroke="#f23645" stroke-width="2"/>
<path d="M379 561V568" stroke="#089981" stroke-width="2"/>
<path d="M381 568V579" stroke="#f23645" stroke-width="2"/>
<path d="M383 555V565M384 542V551M386 531V540M388 526V536" stroke="#089981" stroke-width="2"/>
<path d="M389 541V549M391 547V556" stroke="#f23645" stroke-width="2"/>
<path d="M392 540V550M394 538V548" stroke="#089981" stroke-width="2"/>
<path d="M396 542V549" stroke="#f23645" stroke-width="2"/>
<path d="M397 525V537M399 514V524M400 507V519" stroke="#089981" stroke-width="2"/>
<path d="M402 511V518" stroke="#f23645" stroke-width="2"/>
<path d="M404 511V515M405 506V515" stroke="#089981" stroke-width="2"/>
<path d="M407 509V516M409 512V517M410 513V520M412 515V522M413 530V542M415 556V575M417 581V597M418 589V596M420 607V618M422 610V615" stroke="#f23645" stroke-width="2"/>
<path d="M423 609V614" stroke="#089981" stroke-width="2"/>
<path d="M425 611V618" stroke="#f23645" stroke-width="2"/>
<path d="M426 610V616M428 590V602M430 585V594M431 583V591" stroke="#089981" stroke-width="2"/>
<path d="M433 590V603M434 607V617M436 620V626M438 624V634" stroke="#f23645" stroke-width="2"/>
<path d="M439 616V628M441 607V621M443 606V615" stroke="#089981" stroke-width="2"/>
<path d="M444 612V622M446 615V620M447 617V629M449 625V637M451 631V642" stroke="#f23645" stroke-width="2"/>
<path d="M452 617V628M454 604V613M455 590V606M457 582V596M459 574V586M460 574V580" stroke="#089981" stroke-width="2"/>
<path d="M462 579V592M464 585V590" stroke="#f23645" stroke-width="2"/>
<path d="M465 565V578M467 546V559M468 546V554" stroke="#089981" stroke-width="2"/>
<path d="M470 552V566" stroke="#f23645" stroke-width="2"/>
<path d="M472 557V561M473 550V560M475 546V554M476 541V550" stroke="#089981" stroke-width="2"/>
<path d="M478 545V555" stroke="#f23645" stroke-width="2"/>
<path d="M480 544V551M481 525V535M483 520V529" stroke="#089981" stroke-width="2"/>
<path d="M485 523V533" stroke="#f23645" stroke-width="2"/>
<path d="M486 525V530" stroke="#089981" stroke-width="2"/>
<path d="M488 526V533M489 539V547M491 545V560M493 566V578M494 579V589" stroke="#f23645" stroke-width="2"/>
<path d="M496 580V585M497 573V585" stroke="#089981" stroke-width="2"/>
<path d="M499 576V582M501 588V601M502 596V607M504 601V607M506 610V620M507 618V634" stroke="#f23645" stroke-width="2"/>
<path d="M509 621V626M510 617V624M512 613V622M514 599V616M515 586V600" stroke="#089981" stroke-width="2"/>
<path d="M517 593V605M518 610V620M520 617V630M522 625V637M523 634V647M525 644V657M527 651V668M528 661V676M530 682V693M531 703V718M533 711V725M535 715V720" stroke="#f23645" stroke-width="2"/>
<path d="M536 713V718" stroke="#089981" stroke-width="2"/>
<path d="M538 717V725" stroke="#f23645" stroke-width="2"/>
<path d="M540 699V709M541 672V688M543 674V680" stroke="#089981" stroke-width="2"/>
<path d="M544 676V686M546 682V694M548 700V714M549 708V723M551 716V731M552 725V736" stroke="#f23645" stroke-width="2"/>
<path d="M554 725V734M556 699V716M557 689V697" stroke="#089981" stroke-width="2"/>
<path d="M559 693V707M561 702V716M562 709V716" stroke="#f23645" stroke-width="2"/>
<path d="M564 702V711M565 682V695M567 664V677M569 657V668M570 658V665M572 660V664M573 653V662M575 653V659" stroke="#089981" stroke-width="2"/>
<path d="M577 659V670M578 663V674" stroke="#f23645" stroke-width="2"/>
<path d="M580 645V655M582 634V647" stroke="#089981" stroke-width="2"/>
<path d="M583 640V645" stroke="#f23645" stroke-width="2"/>
<path d="M585 621V633M586 588V606M588 564V580" stroke="#089981" stroke-width="2"/>
<path d="M590 573V584M591 587V596M593 599V610M594 605V613" stroke="#f23645" stroke-width="2"/>
<path d="M596 605V610" stroke="#089981" stroke-width="2"/>
<path d="M598 607V613" stroke="#f23645" stroke-width="2"/>
<path d="M599 601V611M601 596V606" stroke="#089981" stroke-width="2"/>
<path d="M603 598V605M604 604V615M606 608V612" stroke="#f23645" stroke-width="2"/>
<path d="M607 598V609M609 592V603" stroke="#089981" stroke-width="2"/>
<path d="M611 598V609M612 613V621M614 618V629M615 620V628" stroke="#f23645" stroke-width="2"/>
<path d="M617 618V624M619 613V621M620 598V607M622 589V600" stroke="#089981" stroke-width="2"/>
<path d="M624 597V614M625 617V632M627 636V647M628 642V653" stroke="#f23645" stroke-width="2"/>
<path d="M630 642V648M632 643V648" stroke="#089981" stroke-width="2"/>
<path d="M633 645V660" stroke="#f23645" stroke-width="2"/>
<path d="M635 645V653" stroke="#089981" stroke-width="2"/>
<path d="M637 646V654" stroke="#f23645" stroke-width="2"/>
<path d="M638 646V651M640 640V648M641 636V645M643 626V638M645 618V630M646 620V625M648 606V619M649 598V609M651 588V601M653 576V585M654 569V579M656 566V574M658 556V569" stroke="#089981" stroke-width="2"/>
<path d="M659 561V568M661 575V589" stroke="#f23645" stroke-width="2"/>
<path d="M662 566V579M664 559V572" stroke="#089981" stroke-width="2"/>
<path d="M666 565V571" stroke="#f23645" stroke-width="2"/>
<path d="M667 558V568M669 543V556" stroke="#089981" stroke-width="2"/>
<path d="M670 549V555M672 553V560" stroke="#f23645" stroke-width="2"/>
<path d="M674 549V557M675 530V543M677 519V528" stroke="#089981" stroke-width="2"/>
<path d="M679 531V540M680 538V554M682 545V550" stroke="#f23645" stroke-width="2"/>
<path d="M683 542V549" stroke="#089981" stroke-width="2"/>
<path d="M685 545V554M687 546V560" stroke="#f23645" stroke-width="2"/>
<path d="M688 543V552" stroke="#089981" stroke-width="2"/>
<path d="M690 544V551M691 546V551M693 546V553M695 547V559M696 553V565M698 559V572M700 565V579" stroke="#f23645" stroke-width="2"/>
<path d="M701 566V573M703 556V567M704 557V564M706 559V563M708 556V564M709 549V558M711 550V555" stroke="#089981" stroke-width="2"/>
<path d="M712 551V568M714 560V573M716 575V586M717 598V616M719 621V633" stroke="#f23645" stroke-width="2"/>
<path d="M721 614V624" stroke="#089981" stroke-width="2"/>
<path d="M722 631V645" stroke="#f23645" stroke-width="2"/>
<path d="M724 633V639" stroke="#089981" stroke-width="2"/>
<path d="M725 634V640" stroke="#f23645" stroke-width="2"/>
<path d="M727 622V636M729 607V620M730 607V616" stroke="#089981" stroke-width="2"/>
<path d="M732 615V627M733 621V630" stroke="#f23645" stroke-width="2"/>
<path d="M735 618V626" stroke="#089981" stroke-width="2"/>
<path d="M737 620V626" stroke="#f23645" stroke-width="2"/>
<path d="M738 605V619M740 598V611M742 595V604M743 594V600" stroke="#089981" stroke-width="2"/>
<path d="M745 597V602M746 597V611M748 603V610" stroke="#f23645" stroke-width="2"/>
<path d="M750 595V606M751 588V599M753 582V593M755 578V590M756 581V588" stroke="#089981" stroke-width="2"/>
<path d="M758 583V588" stroke="#f23645" stroke-width="2"/>
<path d="M759 581V587M761 581V586" stroke="#089981" stroke-width="2"/>
<path d="M763 583V589" stroke="#f23645" stroke-width="2"/>
<path d="M764 579V586" stroke="#089981" stroke-width="2"/>
<path d="M766 583V594M767 588V598M769 588V598" stroke="#f23645" stroke-width="2"/>
<path d="M771 579V591M772 572V583" stroke="#089981" stroke-width="2"/>
<path d="M774 577V590M776 584V599" stroke="#f23645" stroke-width="2"/>
<path d="M777 587V593" stroke="#089981" stroke-width="2"/>
<path d="M779 591V608" stroke="#f23645" stroke-width="2"/>
<path d="M780 586V598" stroke="#089981" stroke-width="2"/>
<path d="M782 591V596M784 592V598" stroke="#f23645" stroke-width="2"/>
<path d="M785 591V597" stroke="#089981" stroke-width="2"/>
<path d="M787 592V596" stroke="#f23645" stroke-width="2"/>
<path d="M788 588V594M790 587V595" stroke="#089981" stroke-width="2"/>
<path d="M792 590V599M793 592V599" stroke="#f23645" stroke-width="2"/>
<path d="M795 587V596M797 578V590M798 579V586" stroke="#089981" stroke-width="2"/>
<path d="M800 582V594M801 595V602" stroke="#f23645" stroke-width="2"/>
<path d="M803 595V602M805 586V597M806 586V592" stroke="#089981" stroke-width="2"/>
<path d="M808 587V592" stroke="#f23645" stroke-width="2"/>
<path d="M809 581V590M811 562V575" stroke="#089981" stroke-width="2"/>
<path d="M813 566V570" stroke="#f23645" stroke-width="2"/>
<path d="M814 557V568M816 549V562M818 547V555M819 543V551M821 539V547M822 538V544M824 536V542M826 535V541" stroke="#089981" stroke-width="2"/>
<path d="M827 537V544M829 559V580M830 571V584M832 578V591M834 586V595" stroke="#f23645" stroke-width="2"/>
<path d="M835 588V593M837 581V590M839 576V586M840 570V580M842 563V574" stroke="#089981" stroke-width="2"/>
<path d="M843 567V572M845 576V586M847 582V595" stroke="#f23645" stroke-width="2"/>
<path d="M848 570V588M850 571V579M851 564V573M853 545V557M855 536V543M856 528V540" stroke="#089981" stroke-width="2"/>
<path d="M858 532V536" stroke="#f23645" stroke-width="2"/>
<path d="M860 518V527M861 514V523M863 516V522" stroke="#089981" stroke-width="2"/>
<path d="M864 518V523" stroke="#f23645" stroke-width="2"/>
<path d="M866 516V526M868 516V523M869 516V521" stroke="#089981" stroke-width="2"/>
<path d="M871 518V529" stroke="#f23645" stroke-width="2"/>
<path d="M873 515V524" stroke="#089981" stroke-width="2"/>
<path d="M874 518V526M876 522V536M877 536V545M879 539V546" stroke="#f23645" stroke-width="2"/>
<path d="M881 527V540M882 528V535" stroke="#089981" stroke-width="2"/>
<path d="M884 533V548M885 539V543M887 540V547M889 543V554M890 550V558M892 555V565M894 562V572M895 567V579M897 573V582" stroke="#f23645" stroke-width="2"/>
<path d="M898 574V579" stroke="#089981" stroke-width="2"/>
<path d="M900 575V579M902 575V579" stroke="#f23645" stroke-width="2"/>
<path d="M903 575V579" stroke="#089981" stroke-width="2"/>
<path d="M905 574V584" stroke="#f23645" stroke-width="2"/>
<path d="M906 563V572M908 550V565M910 548V558M911 548V556M913 549V554M915 549V555" stroke="#089981" stroke-width="2"/>
<path d="M916 550V561M918 555V563M919 555V562" stroke="#f23645" stroke-width="2"/>
<path d="M921 549V558" stroke="#089981" stroke-width="2"/>
<path d="M923 550V556" stroke="#f23645" stroke-width="2"/>
<path d="M924 547V556M926 543V554M927 546V552" stroke="#089981" stroke-width="2"/>
<path d="M929 552V565M931 556V560M932 560V571M934 567V579M936 572V582M937 573V585M939 579V589M940 582V588" stroke="#f23645" stroke-width="2"/>
<path d="M942 577V586M944 576V583" stroke="#089981" stroke-width="2"/>
<path d="M945 588V598M947 596V610M948 604V613" stroke="#f23645" stroke-width="2"/>
<path d="M950 594V601M952 588V598M953 588V594M955 578V589" stroke="#089981" stroke-width="2"/>
<path d="M957 582V586M958 585V596M960 591V602M961 593V599M963 595V602M965 601V616M966 617V623M968 621V635M970 627V637M971 630V635M973 634V643M974 638V645M976 639V643" stroke="#f23645" stroke-width="2"/>
<path d="M978 633V641M979 628V636M981 615V624M982 595V607M984 581V592" stroke="#089981" stroke-width="2"/>
<path d="M986 586V595" stroke="#f23645" stroke-width="2"/>
<path d="M987 585V591M989 580V589M991 580V586" stroke="#089981" stroke-width="2"/>
<path d="M992 579V589M994 581V587" stroke="#f23645" stroke-width="2"/>
<path d="M995 551V568M997 544V557M999 541V551M1000 537V545M1002 535V543M1003 533V541M1005 527V537M1007 522V532" stroke="#089981" stroke-width="2"/>
<path d="M1008 525V530" stroke="#f23645" stroke-width="2"/>
<path d="M1010 520V527M1012 513V522M1013 501V516M1015 499V507" stroke="#089981" stroke-width="2"/>
<path d="M1016 502V505M1018 502V506" stroke="#f23645" stroke-width="2"/>
<path d="M1020 495V504M1021 493V501M1023 493V498M1024 489V497M1026 488V495M1028 480V491M1029 433V458M1031 441V447" stroke="#089981" stroke-width="2"/>
<path d="M1033 444V452" stroke="#f23645" stroke-width="2"/>
<path d="M1034 444V449M1036 439V446M1037 434V443M1039 431V438M1041 429V436M1042 424V432M1044 424V431" stroke="#089981" stroke-width="2"/>
<path d="M1045 428V442M1047 443V456M1049 459V468M1050 462V467" stroke="#f23645" stroke-width="2"/>
<path d="M1052 461V466" stroke="#089981" stroke-width="2"/>
<path d="M1054 462V468M1055 462V471" stroke="#f23645" stroke-width="2"/>
<path d="M1057 464V468M1058 463V467M1060 460V467" stroke="#089981" stroke-width="2"/>
<path d="M1062 466V482M1063 477V489" stroke="#f23645" stroke-width="2"/>
<path d="M1065 464V480M1066 459V473M1068 453V464M1070 446V457M1071 440V451M1073 436V444M1075 429V439M1076 426V435" stroke="#089981" stroke-width="2"/>
<path d="M1078 427V434M1079 430V438M1081 434V445M1083 438V450M1084 445V458" stroke="#f23645" stroke-width="2"/>
<path d="M1086 439V451M1088 433V444M1089 424V436M1091 415V427" stroke="#089981" stroke-width="2"/>
<path d="M1092 421V427M1094 427V443" stroke="#f23645" stroke-width="2"/>
<path d="M1096 419V432M1097 408V421" stroke="#089981" stroke-width="2"/>
<path d="M1099 413V418M1100 413V420" stroke="#f23645" stroke-width="2"/>
<path d="M1102 409V417M1104 400V411" stroke="#089981" stroke-width="2"/>
<path d="M1105 404V412" stroke="#f23645" stroke-width="2"/>
<path d="M1107 398V408" stroke="#089981" stroke-width="2"/>
<path d="M1109 402V406M1110 401V410" stroke="#f23645" stroke-width="2"/>
<path d="M1112 395V408M1113 396V405" stroke="#089981" stroke-width="2"/>
<path d="M1115 400V407M1117 400V408" stroke="#f23645" stroke-width="2"/>
<path d="M1118 392V404M1120 381V397M1121 384V391" stroke="#089981" stroke-width="2"/>
<path d="M1123 386V393M1125 387V393" stroke="#f23645" stroke-width="2"/>
<path d="M1126 383V390" stroke="#089981" stroke-width="2"/>
<path d="M1128 388V398M1130 392V402M1131 398V409M1133 404V413" stroke="#f23645" stroke-width="2"/>
<path d="M1134 389V407M1136 378V387" stroke="#089981" stroke-width="2"/>
<path d="M1138 383V393" stroke="#f23645" stroke-width="2"/>
<path d="M1139 385V390M1141 383V389M1142 381V387M1144 378V384" stroke="#089981" stroke-width="2"/>
<path d="M1146 380V387M1147 384V395" stroke="#f23645" stroke-width="2"/>
<path d="M1149 385V391M1151 382V389" stroke="#089981" stroke-width="2"/>
<path d="M1152 385V393" stroke="#f23645" stroke-width="2"/>
<path d="M1154 371V386M1155 372V383" stroke="#089981" stroke-width="2"/>
<path d="M1157 379V393M1159 387V399M1160 394V404M1162 401V415M1163 412V425M1165 417V431M1167 424V431M1168 427V437" stroke="#f23645" stroke-width="2"/>
<path d="M1170 419V431M1172 401V414" stroke="#089981" stroke-width="2"/>
<path d="M1173 409V419" stroke="#f23645" stroke-width="2"/>
<path d="M1175 412V417M1176 402V413M1178 402V408" stroke="#089981" stroke-width="2"/>
<path d="M1180 405V415M1181 411V421" stroke="#f23645" stroke-width="2"/>
<path d="M1183 409V418M1184 398V405M1186 391V401M1188 389V398M1189 392V397M1191 391V396M1193 384V395M1194 380V388M1196 375V384M1197 362V371" stroke="#089981" stroke-width="2"/>
<path d="M1199 367V377M1201 372V383" stroke="#f23645" stroke-width="2"/>
<path d="M1202 373V378M1204 373V377" stroke="#089981" stroke-width="2"/>
<path d="M1206 373V382M1207 378V384" stroke="#f23645" stroke-width="2"/>
<path d="M1209 369V379M1210 369V376" stroke="#089981" stroke-width="2"/>
<path d="M1212 380V390M1214 383V392" stroke="#f23645" stroke-width="2"/>
<path d="M1215 381V388M1217 379V388M1218 375V386M1220 376V382" stroke="#089981" stroke-width="2"/>
<path d="M1222 378V386M1223 385V398M1225 394V408" stroke="#f23645" stroke-width="2"/>
<path d="M1227 395V403M1228 375V390" stroke="#089981" stroke-width="2"/>
<path d="M1230 384V397M1231 393V405M1233 399V406" stroke="#f23645" stroke-width="2"/>
<path d="M1235 390V402M1236 389V396" stroke="#089981" stroke-width="2"/>
<path d="M1238 393V404M1239 428V453M1241 441V451M1243 447V456M1244 450V454" stroke="#f23645" stroke-width="2"/>
<path d="M1246 446V452M1248 445V450" stroke="#089981" stroke-width="2"/>
<path d="M1249 447V455" stroke="#f23645" stroke-width="2"/>
<path d="M1251 434V448M1252 429V440" stroke="#089981" stroke-width="2"/>
<path d="M1254 434V442M1256 437V449" stroke="#f23645" stroke-width="2"/>
<path d="M1257 432V442M1259 419V430M1260 408V423M1262 402V415M1264 393V407" stroke="#089981" stroke-width="2"/>
<path d="M1265 400V405M1267 400V409" stroke="#f23645" stroke-width="2"/>
<path d="M1269 397V406M1270 396V402" stroke="#089981" stroke-width="2"/>
<path d="M1272 397V406M1273 404V415M1275 409V418" stroke="#f23645" stroke-width="2"/>
<path d="M1277 405V413M1278 395V408M1280 398V402M1281 385V392" stroke="#089981" stroke-width="2"/>
<path d="M1283 390V407M1285 426V450M1286 471V499" stroke="#f23645" stroke-width="2"/>
<path d="M1288 468V482M1290 459V472M1291 455V465M1293 449V459M1294 445V453M1296 435V447M1298 426V440M1299 414V430M1301 407V421M1302 405V413M1304 403V411M1306 400V408M1307 393V402M1309 384V396M1311 379V389" stroke="#089981" stroke-width="2"/>
<path d="M1312 382V391M1314 387V395M1315 388V393M1317 390V397M1319 397V411M1320 406V417M1322 410V419M1324 414V424" stroke="#f23645" stroke-width="2"/>
<path d="M1325 414V422M1327 412V418M1328 411V417M1330 395V405M1332 379V389M1333 355V372M1335 353V362M1336 350V357M1338 334V343M1340 335V340" stroke="#089981" stroke-width="2"/>
<path d="M1341 338V348M1343 343V355M1345 348V356" stroke="#f23645" stroke-width="2"/>
<path d="M1346 336V350M1348 336V344" stroke="#089981" stroke-width="2"/>
<path d="M1349 341V351M1351 346V357M1353 352V359M1354 355V363" stroke="#f23645" stroke-width="2"/>
<path d="M1356 349V361" stroke="#089981" stroke-width="2"/>
<path d="M1357 354V359M1359 356V365" stroke="#f23645" stroke-width="2"/>
<path d="M1361 356V363" stroke="#089981" stroke-width="2"/>
<path d="M1362 359V365" stroke="#f23645" stroke-width="2"/>
<path d="M1364 350V363M1366 347V356M1367 346V353M1369 345V352M1370 333V345M1372 326V338" stroke="#089981" stroke-width="2"/>
<path d="M1374 329V336M1375 335V348M1377 344V354" stroke="#f23645" stroke-width="2"/>
<path d="M1378 346V350M1380 341V349M1382 340V346M1383 341V345M1385 336V345" stroke="#089981" stroke-width="2"/>
<path d="M1387 342V355M1388 351V364M1390 358V370" stroke="#f23645" stroke-width="2"/>
<path d="M1391 356V366M1393 334V347M1395 323V337M1396 318V328M1398 308V321" stroke="#089981" stroke-width="2"/>
<path d="M1399 314V328M1401 329V337M1403 333V340" stroke="#f23645" stroke-width="2"/>
<path d="M1404 333V338" stroke="#089981" stroke-width="2"/>
<path d="M1406 335V344" stroke="#f23645" stroke-width="2"/>
<path d="M1408 334V341M1409 329V339M1411 319V333M1412 308V318M1414 296V308" stroke="#089981" stroke-width="2"/>
<path d="M1416 299V309" stroke="#f23645" stroke-width="2"/>
<path d="M1417 299V307M1419 296V305M1421 296V303" stroke="#089981" stroke-width="2"/>
<path d="M1422 299V306M1424 299V306" stroke="#f23645" stroke-width="2"/>
<path d="M1425 297V304M1427 297V303M1429 298V302" stroke="#089981" stroke-width="2"/>
<path d="M1430 298V304M1432 300V305M1433 301V310M1435 306V313M1437 310V319M1438 317V331M1440 336V348M1442 355V367M1443 359V369M1445 365V380" stroke="#f23645" stroke-width="2"/>
<path d="M1446 359V371M1448 353V366" stroke="#089981" stroke-width="2"/>
<path d="M1450 357V363M1451 359V372M1453 366V372" stroke="#f23645" stroke-width="2"/>
<path d="M1454 362V371M1456 353V367M1458 347V363M1459 351V357" stroke="#089981" stroke-width="2"/>
<path d="M1461 361V370M1463 374V381M1464 380V393" stroke="#f23645" stroke-width="2"/>
<path d="M1466 373V384M1467 354V369M1469 344V352M1471 332V345M1472 319V330M1474 311V325M1475 305V316M1477 300V309" stroke="#089981" stroke-width="2"/>
<path d="M1479 308V320" stroke="#f23645" stroke-width="2"/>
<path d="M1480 310V315M1482 306V313M1484 300V310M1485 301V306" stroke="#089981" stroke-width="2"/>
<path d="M1487 313V324" stroke="#f23645" stroke-width="2"/>
<path d="M1488 312V319M1490 308V315M1492 303V313" stroke="#089981" stroke-width="2"/>
<path d="M1493 308V316M1495 312V326M1496 320V328M1498 324V333M1500 325V334" stroke="#f23645" stroke-width="2"/>
<path d="M1501 307V319M1503 305V314" stroke="#089981" stroke-width="2"/>
<path d="M1505 309V318M1506 311V324M1508 316V324M1509 323V335M1511 330V345" stroke="#f23645" stroke-width="2"/>
<path d="M1513 332V338" stroke="#089981" stroke-width="2"/>
<path d="M1514 335V339M1516 339V355" stroke="#f23645" stroke-width="2"/>
<path d="M1517 329V344" stroke="#089981" stroke-width="2"/>
<path d="M1519 353V369M1521 359V364M1522 363V374M1524 374V385M1526 382V399M1527 399V407" stroke="#f23645" stroke-width="2"/>
<path d="M1529 393V402" stroke="#089981" stroke-width="2"/>
<path d="M1530 399V409" stroke="#f23645" stroke-width="2"/>
<path d="M1532 393V402M1534 377V389M1535 370V382" stroke="#089981" stroke-width="2"/>
<path d="M1537 374V380" stroke="#f23645" stroke-width="2"/>
<path d="M1539 364V377" stroke="#089981" stroke-width="2"/>
<path d="M1540 372V381" stroke="#f23645" stroke-width="2"/>
<path d="M1542 362V374M1543 359V368" stroke="#089981" stroke-width="2"/>
<path d="M1545 363V368M1547 367V378M1548 374V384M1550 388V400M1551 401V412" stroke="#f23645" stroke-width="2"/>
<path d="M1553 389V405" stroke="#089981" stroke-width="2"/>
<path d="M1555 410V421M1556 421V441M1558 481V511M1560 501V543" stroke="#f23645" stroke-width="2"/>
<path d="M1561 475V543M1563 455V512" stroke="#089981" stroke-width="2"/>
<path d="M1564 473V500" stroke="#f23645" stroke-width="2"/>
<path d="M1566 459V490M1568 444V466M1569 443V452" stroke="#089981" stroke-width="2"/>
<path d="M1571 457V469" stroke="#f23645" stroke-width="2"/>
<path d="M1572 450V456" stroke="#089981" stroke-width="2"/>
<path d="M1574 460V477" stroke="#f23645" stroke-width="2"/>
<path d="M1576 448V462M1577 419V441M1579 416V429M1581 406V417M1582 405V414" stroke="#089981" stroke-width="2"/>
<path d="M1584 411V421" stroke="#f23645" stroke-width="2"/>
<path d="M1585 411V416M1587 398V411M1589 396V403" stroke="#089981" stroke-width="2"/>
<path d="M1590 399V405" stroke="#f23645" stroke-width="2"/>
<path d="M1592 394V406M1593 391V400M1595 388V396M1597 372V382M1598 359V368M1600 356V363" stroke="#089981" stroke-width="2"/>
<path d="M1602 356V365" stroke="#f23645" stroke-width="2"/>
<path d="M1603 359V363" stroke="#089981" stroke-width="2"/>
<path d="M1605 358V363" stroke="#f23645" stroke-width="2"/>
<path d="M1606 354V362" stroke="#089981" stroke-width="2"/>
<path d="M1608 367V374M1610 371V385M1611 379V390" stroke="#f23645" stroke-width="2"/>
<path d="M1613 369V382M1614 363V375" stroke="#089981" stroke-width="2"/>
<path d="M1616 367V373M1618 370V376M1619 371V382" stroke="#f23645" stroke-width="2"/>
<path d="M1621 364V380M1623 363V372M1624 362V368M1626 357V365M1627 347V361M1629 343V355M1631 343V350" stroke="#089981" stroke-width="2"/>
<path d="M1632 345V351M1634 350V363M1635 358V373M1637 363V368M1639 367V376M1640 371V379M1642 386V397" stroke="#f23645" stroke-width="2"/>
<path d="M1644 385V391M1645 363V377M1647 351V360M1648 339V349M1650 329V343M1652 332V338" stroke="#089981" stroke-width="2"/>
<path d="M1653 336V343" stroke="#f23645" stroke-width="2"/>
<path d="M1655 325V337" stroke="#089981" stroke-width="2"/>
<path d="M1657 327V334" stroke="#f23645" stroke-width="2"/>
<path d="M1658 327V332M1660 317V331M1661 308V322M1663 310V316" stroke="#089981" stroke-width="2"/>
<path d="M1665 312V317M1666 313V322M1668 314V320" stroke="#f23645" stroke-width="2"/>
<path d="M1669 301V310M1671 290V299M1673 288V296" stroke="#089981" stroke-width="2"/>
<path d="M1674 291V300" stroke="#f23645" stroke-width="2"/>
<path d="M1676 289V296M1678 281V290" stroke="#089981" stroke-width="2"/>
<path d="M1679 285V294M1681 290V299M1682 295V303M1684 299V311M1686 308V323M1687 328V341M1689 334V343" stroke="#f23645" stroke-width="2"/>
<path d="M1690 323V336M1692 318V328M1694 305V321M1695 307V313M1697 306V312M1699 300V309M1700 289V302M1702 291V298" stroke="#089981" stroke-width="2"/>
<path d="M1703 293V298M1705 295V301M1707 297V305M1708 302V312M1710 305V321" stroke="#f23645" stroke-width="2"/>
<path d="M1711 296V309M1713 295V303" stroke="#089981" stroke-width="2"/>
<path d="M1715 297V306M1716 299V306" stroke="#f23645" stroke-width="2"/>
<path d="M1718 299V303M1720 296V304" stroke="#089981" stroke-width="2"/>
<path d="M1721 302V315M1723 310V327" stroke="#f23645" stroke-width="2"/>
<path d="M1724 316V321M1726 310V319M1728 310V315M1729 310V315M1731 309V313M1732 299V311M1734 287V296" stroke="#089981" stroke-width="2"/>
<path d="M1736 287V298M1737 292V300" stroke="#f23645" stroke-width="2"/>
<path d="M1739 292V298M1741 286V294M1742 284V291" stroke="#089981" stroke-width="2"/>
<path d="M1744 296V304M1745 298V308M1747 306V318M1749 321V330M1750 327V336" stroke="#f23645" stroke-width="2"/>
<path d="M1752 323V332" stroke="#089981" stroke-width="2"/>
<path d="M1754 326V331M1755 329V338M1757 333V339" stroke="#f23645" stroke-width="2"/>
<path d="M1758 321V334M1760 322V329" stroke="#089981" stroke-width="2"/>
<path d="M1762 324V331M1763 328V337M1765 333V342M1766 347V357M1768 353V361" stroke="#f23645" stroke-width="2"/>
<path d="M1770 349V359M1771 344V354" stroke="#089981" stroke-width="2"/>
<path d="M1773 350V359M1775 357V367" stroke="#f23645" stroke-width="2"/>
<path d="M1776 358V363M1778 352V360M1779 349V356M1781 347V353M1783 341V349M1784 334V344M1786 335V339" stroke="#089981" stroke-width="2"/>
<path d="M1787 338V346M1789 342V350M1791 355V366M1792 361V373M1794 367V376M1796 371V378M1797 374V384M1799 379V388" stroke="#f23645" stroke-width="2"/>
<path d="M1800 381V385M1802 367V380M1804 366V373" stroke="#089981" stroke-width="2"/>
<path d="M1805 373V387M1807 380V395M1808 390V402M1810 403V412M1812 408V423M1813 413V417" stroke="#f23645" stroke-width="2"/>
<path d="M1815 408V415M1817 402V412M1818 400V407M1820 385V398M1821 377V390M1823 379V385" stroke="#089981" stroke-width="2"/>
<path d="M1825 381V388M1826 383V389" stroke="#f23645" stroke-width="2"/>
<path d="M1828 370V384M1829 362V374M1831 358V367M1833 351V362M1834 345V355M1836 341V350M1838 341V347" stroke="#089981" stroke-width="2"/>
<path d="M1839 341V352M1841 344V352M1842 346V352" stroke="#f23645" stroke-width="2"/>
<path d="M1844 345V350" stroke="#089981" stroke-width="2"/>
<path d="M1846 344V351M1847 355V365M1849 358V363" stroke="#f23645" stroke-width="2"/>
<path d="M1850 355V361M1852 355V361M1854 351V361M1855 354V359" stroke="#089981" stroke-width="2"/>
<path d="M1857 354V362M1859 356V362" stroke="#f23645" stroke-width="2"/>
<path d="M1860 345V361M1862 330V344M1863 334V339" stroke="#089981" stroke-width="2"/>
<path d="M1865 338V347M1867 341V347" stroke="#f23645" stroke-width="2"/>
<path d="M1868 331V343M1870 331V340" stroke="#089981" stroke-width="2"/>
<path d="M1872 338V350" stroke="#f23645" stroke-width="2"/>
<path d="M1873 326V337M1875 313V329M1876 318V324" stroke="#089981" stroke-width="2"/>
<path d="M1878 332V348" stroke="#f23645" stroke-width="2"/>
<path d="M1880 327V338M1881 329V334" stroke="#089981" stroke-width="2"/>
<path d="M1883 333V340M1884 336V344M1886 338V345" stroke="#f23645" stroke-width="2"/>
<path d="M1888 337V342" stroke="#089981" stroke-width="2"/>
<path d="M1889 339V346M1891 351V358M1893 364V378M1894 388V402M1896 405V414M1897 411V421" stroke="#f23645" stroke-width="2"/>
<path d="M1899 399V412M1901 389V399M1902 379V391" stroke="#089981" stroke-width="2"/>
<path d="M1904 388V402M1905 402V417M1907 409V418M1909 411V417M1910 411V417M1912 421V430M1914 433V440M1915 446V456M1917 448V456" stroke="#f23645" stroke-width="2"/>
<path d="M1918 434V449" stroke="#089981" stroke-width="2"/>
<path d="M1920 442V454M1922 452V465M1923 464V476M1925 473V489" stroke="#f23645" stroke-width="2"/>
<path d="M1926 464V477" stroke="#089981" stroke-width="2"/>
<path d="M1928 472V488M1930 481V494M1931 486V491M1933 489V496M1935 502V511M1936 515V522M1938 515V522" stroke="#f23645" stroke-width="2"/>
<path d="M1939 506V518M1941 501V511M1943 502V511" stroke="#089981" stroke-width="2"/>
<path d="M1944 509V524M1946 516V526" stroke="#f23645" stroke-width="2"/>
<path d="M1947 514V521" stroke="#089981" stroke-width="2"/>
<path d="M1949 531V537" stroke="#f23645" stroke-width="2"/>
</g>
<path d="M18.1 345.4C18.8 344.7 20.8 342.6 22.1 341.3C23.5 339.9 24.8 338.5 26.1 337.2C27.5 335.8 28.8 334.4 30.1 333C31.5 331.6 32.8 330.2 34.1 328.8C35.5 327.4 36.8 326 38.1 324.6C39.5 323.2 40.8 321.7 42.1 320.3C43.5 318.9 44.8 317.5 46.1 316C47.5 314.6 48.8 313.2 50.1 311.8C51.5 310.3 52.8 308.9 54.1 307.5C55.5 306 56.8 304.6 58.1 303.1C59.5 301.7 60.8 300.3 62.1 298.8C63.5 297.4 64.8 295.9 66.1 294.5C67.5 293 68.8 291.6 70.1 290.2C71.5 288.7 72.8 287.3 74.1 285.9C75.5 284.5 76.8 283.1 78.1 281.7C79.5 280.3 80.8 278.9 82.1 277.5C83.5 276.2 84.8 274.8 86.1 273.5C87.5 272.2 88.8 270.9 90.1 269.7C91.5 268.4 92.8 267.2 94.1 266C95.5 264.8 96.8 263.6 98.1 262.5C99.5 261.3 100.8 260.2 102.1 259.2C103.5 258.1 104.8 257.1 106.1 256.1C107.5 255.1 108.8 254.1 110.1 253.2C111.5 252.3 112.8 251.3 114.1 250.5C115.5 249.6 116.8 248.7 118.1 247.9C119.5 247.1 120.8 246.3 122.1 245.5C123.5 244.7 124.8 243.9 126.1 243.2C127.5 242.4 128.8 241.7 130.1 241C131.5 240.3 132.8 239.5 134.1 238.8C135.5 238.1 136.8 237.4 138.1 236.8C139.5 236.1 140.8 235.4 142.1 234.7C143.5 234 144.8 233.4 146.1 232.7C147.5 232 148.8 231.3 150.1 230.6C151.5 229.9 152.8 229.3 154.1 228.6C155.5 227.9 156.8 227.2 158.1 226.5C159.5 225.8 160.8 225 162.1 224.3C163.5 223.6 164.8 222.9 166.1 222.1C167.5 221.4 168.8 220.7 170.1 219.9C171.5 219.2 172.8 218.5 174.1 217.7C175.5 217 176.8 216.3 178.1 215.6C179.5 214.9 180.8 214.2 182.1 213.5C183.5 212.8 184.8 212.2 186.1 211.5C187.5 210.9 188.8 210.3 190.1 209.7C191.5 209.1 192.8 208.6 194.1 208.1C195.5 207.5 196.8 207 198.1 206.5C199.5 206.1 200.8 205.6 202.1 205.2C203.5 204.7 204.8 204.3 206.1 203.9C207.5 203.5 208.8 203.1 210.1 202.8C211.5 202.4 212.8 202 214.1 201.7C215.5 201.4 216.8 201.1 218.1 200.8C219.5 200.5 220.8 200.2 222.1 199.9C223.5 199.6 224.8 199.4 226.1 199.1C227.5 198.9 228.8 198.7 230.1 198.5C231.5 198.3 232.8 198.1 234.1 197.9C235.5 197.8 236.8 197.6 238.1 197.5C239.5 197.4 240.8 197.3 242.1 197.3C243.5 197.3 244.8 197.2 246.1 197.3C247.5 197.3 248.8 197.4 250.1 197.5C251.5 197.6 252.8 197.7 254.1 197.9C255.5 198.1 256.8 198.4 258.1 198.6C259.5 198.9 260.8 199.2 262.1 199.5C263.5 199.9 264.8 200.3 266.1 200.6C267.5 201 268.8 201.5 270.1 201.9C271.5 202.3 272.8 202.8 274.1 203.3C275.5 203.8 276.8 204.3 278.1 204.8C279.5 205.4 280.8 205.9 282.1 206.5C283.5 207 284.8 207.6 286.1 208.2C287.5 208.9 288.8 209.5 290.1 210.2C291.5 210.8 292.8 211.5 294.1 212.3C295.5 213 296.8 213.8 298.1 214.6C299.5 215.4 300.8 216.2 302.1 217C303.5 217.9 304.8 218.7 306.1 219.6C307.5 220.5 308.8 221.4 310.1 222.4C311.5 223.3 312.8 224.2 314.1 225.1C315.5 226.1 316.8 227 318.1 227.9C319.5 228.8 320.8 229.8 322.1 230.7C323.5 231.6 324.8 232.5 326.1 233.4C327.5 234.3 328.8 235.1 330.1 236C331.5 236.9 332.8 237.7 334.1 238.6C335.5 239.5 336.8 240.3 338.1 241.2C339.5 242 340.8 242.9 342.1 243.7C343.5 244.6 344.8 245.5 346.1 246.3C347.5 247.2 348.8 248.1 350.1 249C351.5 250 352.8 250.9 354.1 251.9C355.5 252.8 356.8 253.8 358.1 254.9C359.5 255.9 360.8 257 362.1 258.1C363.5 259.2 364.8 260.3 366.1 261.5C367.5 262.7 368.8 263.9 370.1 265.2C371.5 266.4 372.8 267.8 374.1 269.1C375.5 270.5 376.8 271.9 378.1 273.4C379.5 274.8 380.8 276.3 382.1 277.9C383.5 279.4 384.8 280.9 386.1 282.5C387.5 284.1 388.8 285.6 390.1 287.2C391.5 288.8 392.8 290.4 394.1 292C395.5 293.6 396.8 295.2 398.1 296.8C399.5 298.4 400.8 300 402.1 301.6C403.5 303.2 404.8 304.8 406.1 306.4C407.5 308 408.8 309.6 410.1 311.2C411.5 312.8 412.8 314.4 414.1 316.1C415.5 317.8 416.8 319.5 418.1 321.2C419.5 322.9 420.8 324.6 422.1 326.4C423.5 328.1 424.8 329.9 426.1 331.7C427.5 333.5 428.8 335.3 430.1 337.1C431.5 338.9 432.8 340.7 434.1 342.4C435.5 344.2 436.8 346 438.1 347.7C439.5 349.5 440.8 351.2 442.1 352.9C443.5 354.6 444.8 356.2 446.1 357.9C447.5 359.5 448.8 361 450.1 362.6C451.5 364.1 452.8 365.6 454.1 367.1C455.5 368.6 456.8 370.1 458.1 371.5C459.5 373 460.8 374.4 462.1 375.9C463.5 377.3 464.8 378.7 466.1 380.2C467.5 381.6 468.8 383.1 470.1 384.5C471.5 386 472.8 387.5 474.1 389C475.5 390.6 476.8 392.1 478.1 393.6C479.5 395.2 480.8 396.8 482.1 398.4C483.5 400 484.8 401.7 486.1 403.4C487.5 405.1 488.8 406.8 490.1 408.5C491.5 410.3 492.8 412.1 494.1 413.8C495.5 415.6 496.8 417.5 498.1 419.3C499.5 421.1 500.8 423 502.1 424.8C503.5 426.7 504.8 428.6 506.1 430.5C507.5 432.4 508.8 434.3 510.1 436.2C511.5 438.2 512.8 440.1 514.1 442C515.5 443.9 516.8 445.9 518.1 447.8C519.5 449.7 520.8 451.7 522.1 453.6C523.5 455.6 524.8 457.5 526.1 459.4C527.5 461.4 528.8 463.3 530.1 465.2C531.5 467.2 532.8 469.1 534.1 471C535.5 473 536.8 474.9 538.1 476.9C539.5 478.8 540.8 480.7 542.1 482.7C543.5 484.6 544.8 486.5 546.1 488.4C547.5 490.4 548.8 492.3 550.1 494.2C551.5 496.1 552.8 498.1 554.1 500C555.5 501.9 556.8 503.8 558.1 505.6C559.5 507.5 560.8 509.4 562.1 511.2C563.5 513 564.8 514.8 566.1 516.5C567.5 518.3 568.8 520 570.1 521.7C571.5 523.4 572.8 525 574.1 526.6C575.5 528.1 576.8 529.7 578.1 531.1C579.5 532.6 580.8 534 582.1 535.3C583.5 536.7 584.8 538 586.1 539.3C587.5 540.5 588.8 541.7 590.1 542.9C591.5 544.1 592.8 545.2 594.1 546.4C595.5 547.5 596.8 548.6 598.1 549.7C599.5 550.8 600.8 551.8 602.1 552.9C603.5 553.9 604.8 555 606.1 556C607.5 557 608.8 558 610.1 559C611.5 560 612.8 561 614.1 562C615.5 562.9 616.8 563.9 618.1 564.8C619.5 565.8 620.8 566.7 622.1 567.6C623.5 568.6 624.8 569.5 626.1 570.4C627.5 571.3 628.8 572.2 630.1 573C631.5 573.9 632.8 574.8 634.1 575.7C635.5 576.5 636.8 577.4 638.1 578.3C639.5 579.1 640.8 580 642.1 580.8C643.5 581.6 644.8 582.5 646.1 583.3C647.5 584.1 648.8 584.9 650.1 585.7C651.5 586.5 652.8 587.3 654.1 588C655.5 588.7 656.8 589.4 658.1 590.1C659.5 590.8 660.8 591.5 662.1 592.1C663.5 592.7 664.8 593.3 666.1 593.9C667.5 594.4 668.8 595 670.1 595.5C671.5 596 672.8 596.4 674.1 596.8C675.5 597.3 676.8 597.7 678.1 598.1C679.5 598.4 680.8 598.8 682.1 599.1C683.5 599.4 684.8 599.7 686.1 600C687.5 600.2 688.8 600.5 690.1 600.7C691.5 600.9 692.8 601.1 694.1 601.3C695.5 601.5 696.8 601.6 698.1 601.8C699.5 602 700.8 602.1 702.1 602.3C703.5 602.4 704.8 602.6 706.1 602.8C707.5 602.9 708.8 603.1 710.1 603.3C711.5 603.5 712.8 603.7 714.1 603.9C715.5 604.1 716.8 604.4 718.1 604.6C719.5 604.9 720.8 605.2 722.1 605.4C723.5 605.7 724.8 606 726.1 606.3C727.5 606.5 728.8 606.8 730.1 607.1C731.5 607.3 732.8 607.6 734.1 607.8C735.5 608.1 736.8 608.3 738.1 608.5C739.5 608.6 740.8 608.8 742.1 608.9C743.5 609 744.8 609.1 746.1 609.2C747.5 609.2 748.8 609.3 750.1 609.3C751.5 609.3 752.8 609.2 754.1 609.2C755.5 609.1 756.8 609.1 758.1 609C759.5 608.9 760.8 608.8 762.1 608.7C763.5 608.6 764.8 608.5 766.1 608.4C767.5 608.4 768.8 608.3 770.1 608.2C771.5 608.1 772.8 608 774.1 608C775.5 607.9 776.8 607.9 778.1 607.9C779.5 607.9 780.8 607.9 782.1 607.9C783.5 607.9 784.8 607.9 786.1 608C787.5 608.1 788.8 608.1 790.1 608.2C791.5 608.3 792.8 608.4 794.1 608.6C795.5 608.7 796.8 608.8 798.1 609C799.5 609.1 800.8 609.2 802.1 609.3C803.5 609.5 804.8 609.6 806.1 609.7C807.5 609.8 808.8 609.9 810.1 609.9C811.5 610 812.8 610 814.1 610C815.5 610.1 816.8 610.1 818.1 610C819.5 610 820.8 609.9 822.1 609.9C823.5 609.8 824.8 609.7 826.1 609.6C827.5 609.5 828.8 609.3 830.1 609.2C831.5 609 832.8 608.9 834.1 608.7C835.5 608.5 836.8 608.3 838.1 608C839.5 607.8 840.8 607.5 842.1 607.2C843.5 606.9 844.8 606.6 846.1 606.2C847.5 605.9 848.8 605.5 850.1 605C851.5 604.6 852.8 604.1 854.1 603.6C855.5 603.1 856.8 602.5 858.1 602C859.5 601.4 860.8 600.8 862.1 600.1C863.5 599.5 864.8 598.8 866.1 598.1C867.5 597.5 868.8 596.8 870.1 596.1C871.5 595.4 872.8 594.7 874.1 594C875.5 593.4 876.8 592.7 878.1 592C879.5 591.4 880.8 590.8 882.1 590.2C883.5 589.5 884.8 589 886.1 588.4C887.5 587.9 888.8 587.3 890.1 586.9C891.5 586.4 892.8 585.9 894.1 585.5C895.5 585.1 896.8 584.7 898.1 584.3C899.5 583.9 900.8 583.6 902.1 583.3C903.5 582.9 904.8 582.6 906.1 582.3C907.5 582 908.8 581.8 910.1 581.5C911.5 581.2 912.8 581 914.1 580.8C915.5 580.5 916.8 580.3 918.1 580.1C919.5 579.9 920.8 579.6 922.1 579.4C923.5 579.2 924.8 579 926.1 578.8C927.5 578.6 928.8 578.4 930.1 578.2C931.5 578 932.8 577.8 934.1 577.7C935.5 577.5 936.8 577.3 938.1 577.1C939.5 576.9 940.8 576.7 942.1 576.6C943.5 576.4 944.8 576.2 946.1 576C947.5 575.9 948.8 575.7 950.1 575.5C951.5 575.4 952.8 575.2 954.1 575.1C955.5 574.9 956.8 574.8 958.1 574.7C959.5 574.6 960.8 574.5 962.1 574.4C963.5 574.4 964.8 574.3 966.1 574.3C967.5 574.3 968.8 574.3 970.1 574.3C971.5 574.3 972.8 574.4 974.1 574.4C975.5 574.5 976.8 574.5 978.1 574.6C979.5 574.7 980.8 574.8 982.1 574.9C983.5 575 984.8 575 986.1 575.1C987.5 575.2 988.8 575.3 990.1 575.4C991.5 575.4 992.8 575.5 994.1 575.5C995.5 575.6 996.8 575.6 998.1 575.6C999.5 575.6 1000.8 575.5 1002.1 575.5C1003.5 575.4 1004.8 575.3 1006.1 575.2C1007.5 575.1 1008.8 574.9 1010.1 574.8C1011.5 574.6 1012.8 574.4 1014.1 574.2C1015.5 574 1016.8 573.7 1018.1 573.4C1019.5 573.2 1020.8 572.9 1022.1 572.6C1023.5 572.2 1024.8 571.9 1026.1 571.5C1027.5 571.2 1028.8 570.8 1030.1 570.4C1031.5 570 1032.8 569.5 1034.1 569.1C1035.5 568.6 1036.8 568.2 1038.1 567.7C1039.5 567.2 1040.8 566.7 1042.1 566.2C1043.5 565.7 1044.8 565.1 1046.1 564.6C1047.5 564.1 1048.8 563.5 1050.1 562.9C1051.5 562.4 1052.8 561.8 1054.1 561.2C1055.5 560.6 1056.8 560 1058.1 559.4C1059.5 558.8 1060.8 558.2 1062.1 557.6C1063.5 557 1064.8 556.3 1066.1 555.7C1067.5 555.1 1068.8 554.5 1070.1 553.8C1071.5 553.2 1072.8 552.6 1074.1 551.9C1075.5 551.3 1076.8 550.6 1078.1 550C1079.5 549.4 1080.8 548.7 1082.1 548.1C1083.5 547.4 1084.8 546.8 1086.1 546.1C1087.5 545.5 1088.8 544.8 1090.1 544.1C1091.5 543.5 1092.8 542.8 1094.1 542.1C1095.5 541.5 1096.8 540.8 1098.1 540.1C1099.5 539.4 1100.8 538.6 1102.1 537.9C1103.5 537.2 1104.8 536.4 1106.1 535.7C1107.5 534.9 1108.8 534.2 1110.1 533.4C1111.5 532.6 1112.8 531.8 1114.1 531C1115.5 530.2 1116.8 529.4 1118.1 528.6C1119.5 527.8 1120.8 526.9 1122.1 526.1C1123.5 525.3 1124.8 524.4 1126.1 523.6C1127.5 522.7 1128.8 521.9 1130.1 521.1C1131.5 520.2 1132.8 519.4 1134.1 518.5C1135.5 517.7 1136.8 516.9 1138.1 516.1C1139.5 515.2 1140.8 514.4 1142.1 513.6C1143.5 512.8 1144.8 512 1146.1 511.2C1147.5 510.4 1148.8 509.6 1150.1 508.9C1151.5 508.1 1152.8 507.4 1154.1 506.7C1155.5 505.9 1156.8 505.2 1158.1 504.5C1159.5 503.8 1160.8 503.1 1162.1 502.5C1163.5 501.8 1164.8 501.2 1166.1 500.5C1167.5 499.9 1168.8 499.3 1170.1 498.7C1171.5 498.1 1172.8 497.5 1174.1 496.9C1175.5 496.3 1176.8 495.8 1178.1 495.2C1179.5 494.6 1180.8 494 1182.1 493.5C1183.5 492.9 1184.8 492.3 1186.1 491.8C1187.5 491.2 1188.8 490.6 1190.1 490C1191.5 489.4 1192.8 488.8 1194.1 488.2C1195.5 487.6 1196.8 486.9 1198.1 486.3C1199.5 485.7 1200.8 485 1202.1 484.4C1203.5 483.7 1204.8 483 1206.1 482.4C1207.5 481.7 1208.8 481 1210.1 480.3C1211.5 479.6 1212.8 479 1214.1 478.3C1215.5 477.6 1216.8 476.9 1218.1 476.2C1219.5 475.5 1220.8 474.8 1222.1 474.2C1223.5 473.5 1224.8 472.8 1226.1 472.2C1227.5 471.5 1228.8 470.9 1230.1 470.3C1231.5 469.7 1232.8 469.1 1234.1 468.5C1235.5 467.9 1236.8 467.3 1238.1 466.7C1239.5 466.1 1240.8 465.6 1242.1 465C1243.5 464.5 1244.8 463.9 1246.1 463.4C1247.5 462.8 1248.8 462.2 1250.1 461.7C1251.5 461.1 1252.8 460.5 1254.1 459.9C1255.5 459.3 1256.8 458.7 1258.1 458.1C1259.5 457.5 1260.8 456.8 1262.1 456.2C1263.5 455.5 1264.8 454.9 1266.1 454.2C1267.5 453.5 1268.8 452.8 1270.1 452.1C1271.5 451.4 1272.8 450.6 1274.1 449.9C1275.5 449.2 1276.8 448.4 1278.1 447.7C1279.5 446.9 1280.8 446.2 1282.1 445.4C1283.5 444.6 1284.8 443.9 1286.1 443.1C1287.5 442.3 1288.8 441.6 1290.1 440.8C1291.5 440 1292.8 439.2 1294.1 438.4C1295.5 437.7 1296.8 436.9 1298.1 436.1C1299.5 435.3 1300.8 434.6 1302.1 433.8C1303.5 433 1304.8 432.3 1306.1 431.5C1307.5 430.8 1308.8 430.1 1310.1 429.4C1311.5 428.7 1312.8 428 1314.1 427.3C1315.5 426.6 1316.8 425.9 1318.1 425.2C1319.5 424.6 1320.8 423.9 1322.1 423.3C1323.5 422.6 1324.8 422 1326.1 421.4C1327.5 420.8 1328.8 420.2 1330.1 419.6C1331.5 419 1332.8 418.4 1334.1 417.8C1335.5 417.2 1336.8 416.6 1338.1 416C1339.5 415.4 1340.8 414.8 1342.1 414.3C1343.5 413.7 1344.8 413.2 1346.1 412.7C1347.5 412.1 1348.8 411.6 1350.1 411.1C1351.5 410.6 1352.8 410.1 1354.1 409.7C1355.5 409.2 1356.8 408.7 1358.1 408.3C1359.5 407.8 1360.8 407.4 1362.1 407C1363.5 406.5 1364.8 406.1 1366.1 405.7C1367.5 405.2 1368.8 404.8 1370.1 404.3C1371.5 403.9 1372.8 403.5 1374.1 403C1375.5 402.6 1376.8 402.1 1378.1 401.7C1379.5 401.2 1380.8 400.8 1382.1 400.3C1383.5 399.8 1384.8 399.4 1386.1 398.9C1387.5 398.4 1388.8 398 1390.1 397.5C1391.5 397 1392.8 396.5 1394.1 396.1C1395.5 395.6 1396.8 395.1 1398.1 394.7C1399.5 394.2 1400.8 393.7 1402.1 393.3C1403.5 392.8 1404.8 392.3 1406.1 391.9C1407.5 391.4 1408.8 390.9 1410.1 390.5C1411.5 390 1412.8 389.6 1414.1 389.1C1415.5 388.7 1416.8 388.3 1418.1 387.9C1419.5 387.5 1420.8 387.1 1422.1 386.7C1423.5 386.3 1424.8 385.9 1426.1 385.6C1427.5 385.2 1428.8 384.9 1430.1 384.6C1431.5 384.3 1432.8 384 1434.1 383.7C1435.5 383.5 1436.8 383.2 1438.1 383C1439.5 382.7 1440.8 382.5 1442.1 382.3C1443.5 382.1 1444.8 381.9 1446.1 381.7C1447.5 381.5 1448.8 381.3 1450.1 381.1C1451.5 380.9 1452.8 380.7 1454.1 380.5C1455.5 380.3 1456.8 380.1 1458.1 379.9C1459.5 379.7 1460.8 379.5 1462.1 379.3C1463.5 379 1464.8 378.8 1466.1 378.6C1467.5 378.3 1468.8 378 1470.1 377.8C1471.5 377.5 1472.8 377.2 1474.1 376.9C1475.5 376.6 1476.8 376.3 1478.1 375.9C1479.5 375.6 1480.8 375.3 1482.1 374.9C1483.5 374.6 1484.8 374.2 1486.1 373.9C1487.5 373.5 1488.8 373.2 1490.1 372.8C1491.5 372.5 1492.8 372.1 1494.1 371.8C1495.5 371.4 1496.8 371.1 1498.1 370.8C1499.5 370.5 1500.8 370.2 1502.1 369.9C1503.5 369.6 1504.8 369.4 1506.1 369.1C1507.5 368.9 1508.8 368.7 1510.1 368.5C1511.5 368.3 1512.8 368.2 1514.1 368C1515.5 367.9 1516.8 367.8 1518.1 367.7C1519.5 367.6 1520.8 367.5 1522.1 367.5C1523.5 367.4 1524.8 367.4 1526.1 367.3C1527.5 367.3 1528.8 367.3 1530.1 367.3C1531.5 367.3 1532.8 367.3 1534.1 367.3C1535.5 367.3 1536.8 367.3 1538.1 367.3C1539.5 367.4 1540.8 367.4 1542.1 367.4C1543.5 367.5 1544.8 367.5 1546.1 367.6C1547.5 367.7 1548.8 367.8 1550.1 367.8C1551.5 367.9 1552.8 368 1554.1 368.1C1555.5 368.2 1556.8 368.4 1558.1 368.5C1559.5 368.6 1560.8 368.7 1562.1 368.8C1563.5 368.9 1564.8 369 1566.1 369.1C1567.5 369.2 1568.8 369.3 1570.1 369.4C1571.5 369.4 1572.8 369.5 1574.1 369.5C1575.5 369.6 1576.8 369.6 1578.1 369.6C1579.5 369.6 1580.8 369.6 1582.1 369.6C1583.5 369.6 1584.8 369.5 1586.1 369.5C1587.5 369.4 1588.8 369.3 1590.1 369.2C1591.5 369.1 1592.8 369 1594.1 368.9C1595.5 368.8 1596.8 368.6 1598.1 368.5C1599.5 368.3 1600.8 368.1 1602.1 367.9C1603.5 367.7 1604.8 367.5 1606.1 367.3C1607.5 367.1 1608.8 366.9 1610.1 366.6C1611.5 366.4 1612.8 366.2 1614.1 365.9C1615.5 365.7 1616.8 365.4 1618.1 365.2C1619.5 364.9 1620.8 364.7 1622.1 364.4C1623.5 364.2 1624.8 364 1626.1 363.7C1627.5 363.5 1628.8 363.3 1630.1 363.1C1631.5 362.8 1632.8 362.6 1634.1 362.4C1635.5 362.2 1636.8 362 1638.1 361.8C1639.5 361.6 1640.8 361.4 1642.1 361.2C1643.5 361.1 1644.8 360.9 1646.1 360.7C1647.5 360.5 1648.8 360.3 1650.1 360.2C1651.5 360 1652.8 359.8 1654.1 359.6C1655.5 359.5 1656.8 359.3 1658.1 359.1C1659.5 358.9 1660.8 358.7 1662.1 358.5C1663.5 358.3 1664.8 358.1 1666.1 358C1667.5 357.8 1668.8 357.6 1670.1 357.4C1671.5 357.2 1672.8 357 1674.1 356.8C1675.5 356.6 1676.8 356.4 1678.1 356.2C1679.5 356 1680.8 355.8 1682.1 355.6C1683.5 355.4 1684.8 355.2 1686.1 355C1687.5 354.8 1688.8 354.6 1690.1 354.4C1691.5 354.3 1692.8 354.1 1694.1 353.9C1695.5 353.7 1696.8 353.6 1698.1 353.4C1699.5 353.2 1700.8 353.1 1702.1 352.9C1703.5 352.7 1704.8 352.6 1706.1 352.4C1707.5 352.2 1708.8 352.1 1710.1 351.9C1711.5 351.8 1712.8 351.6 1714.1 351.5C1715.5 351.3 1716.8 351.2 1718.1 351.1C1719.5 351 1720.8 350.8 1722.1 350.7C1723.5 350.6 1724.8 350.5 1726.1 350.4C1727.5 350.4 1728.8 350.3 1730.1 350.2C1731.5 350.1 1732.8 350.1 1734.1 350.1C1735.5 350 1736.8 350 1738.1 350C1739.5 350 1740.8 349.9 1742.1 350C1743.5 350 1744.8 350 1746.1 350C1747.5 350 1748.8 350 1750.1 350.1C1751.5 350.1 1752.8 350.1 1754.1 350.2C1755.5 350.2 1756.8 350.2 1758.1 350.3C1759.5 350.3 1760.8 350.3 1762.1 350.4C1763.5 350.4 1764.8 350.4 1766.1 350.4C1767.5 350.4 1768.8 350.4 1770.1 350.4C1771.5 350.4 1772.8 350.4 1774.1 350.4C1775.5 350.4 1776.8 350.4 1778.1 350.4C1779.5 350.4 1780.8 350.4 1782.1 350.4C1783.5 350.4 1784.8 350.5 1786.1 350.5C1787.5 350.5 1788.8 350.6 1790.1 350.7C1791.5 350.8 1792.8 350.9 1794.1 351C1795.5 351.2 1796.8 351.4 1798.1 351.5C1799.5 351.7 1800.8 351.9 1802.1 352.2C1803.5 352.4 1804.8 352.7 1806.1 352.9C1807.5 353.2 1808.8 353.5 1810.1 353.8C1811.5 354.1 1812.8 354.3 1814.1 354.6C1815.5 354.9 1816.8 355.2 1818.1 355.4C1819.5 355.7 1820.8 355.9 1822.1 356.2C1823.5 356.4 1824.8 356.6 1826.1 356.8C1827.5 357 1828.8 357.2 1830.1 357.3C1831.5 357.4 1832.8 357.6 1834.1 357.7C1835.5 357.8 1836.8 357.8 1838.1 357.9C1839.5 357.9 1840.8 358 1842.1 358C1843.5 358 1844.8 358 1846.1 358C1847.5 357.9 1848.8 357.9 1850.1 357.8C1851.5 357.8 1852.8 357.7 1854.1 357.6C1855.5 357.5 1856.8 357.3 1858.1 357.2C1859.5 357 1860.8 356.9 1862.1 356.7C1863.5 356.5 1864.8 356.3 1866.1 356C1867.5 355.8 1868.8 355.5 1870.1 355.2C1871.5 354.9 1872.8 354.6 1874.1 354.2C1875.5 353.9 1876.8 353.5 1878.1 353.2C1879.5 352.8 1880.8 352.4 1882.1 352C1883.5 351.6 1884.8 351.3 1886.1 350.9C1887.5 350.5 1888.8 350.1 1890.1 349.8C1891.5 349.5 1892.8 349.1 1894.1 348.9C1895.5 348.6 1896.8 348.3 1898.1 348.1C1899.5 347.9 1900.8 347.7 1902.1 347.6C1903.5 347.5 1904.8 347.4 1906.1 347.4C1907.5 347.4 1908.8 347.4 1910.1 347.5C1911.5 347.6 1912.8 347.7 1914.1 347.9C1915.5 348.1 1916.8 348.4 1918.1 348.7C1919.5 348.9 1920.8 349.3 1922.1 349.7C1923.5 350 1924.8 350.5 1926.1 350.9C1927.5 351.4 1928.8 351.8 1930.1 352.4C1931.5 352.9 1932.8 353.4 1934.1 353.9C1935.5 354.5 1936.8 355.1 1938.1 355.7C1939.5 356.2 1940.8 356.8 1942.1 357.4C1943.5 358.1 1945 358.7 1946.1 359.3C1947.2 359.9 1948.2 360.8 1948.6 361.1" stroke="#ff9800" stroke-width="4" fill="none" stroke-linejoin="round" stroke-linecap="butt"/>
<path d="M18.1 202.9C18.6 202.9 20.1 202.9 21.1 202.9C22.1 202.9 23.1 202.9 24.1 202.8C25.1 202.8 26.1 202.8 27.1 202.8C28.1 202.8 29.1 202.7 30.1 202.7C31.1 202.7 32.1 202.7 33.1 202.8C34.1 202.9 35.1 203 36.1 203.2C37.1 203.4 38.1 203.7 39.1 204C40.1 204.2 41.1 204.6 42.1 204.9C43.1 205.2 44.1 205.6 45.1 205.8C46.1 205.9 47.1 206 48.1 205.9C49.1 205.8 50.1 205.5 51.1 205.1C52.1 204.6 53.1 203.9 54.1 203.3C55.1 202.7 56.1 202 57.1 201.4C58.1 200.8 59.1 200.2 60.1 199.7C61.1 199.1 62.1 198.5 63.1 198C64.1 197.5 65.1 196.9 66.1 196.4C67.1 195.9 68.1 195.4 69.1 194.9C70.1 194.4 71.1 193.9 72.1 193.4C73.1 192.9 74.1 192.5 75.1 192.2C76.1 191.8 77.1 191.4 78.1 191.2C79.1 190.9 80.1 190.6 81.1 190.4C82.1 190.2 83.1 190.1 84.1 189.9C85.1 189.8 86.1 189.7 87.1 189.6C88.1 189.5 89.1 189.5 90.1 189.3C91.1 189.2 92.1 188.9 93.1 188.6C94.1 188.2 95.1 187.9 96.1 187.3C97.1 186.8 98.1 186 99.1 185.3C100.1 184.5 101.1 183.7 102.1 182.9C103.1 182.1 104.1 181.1 105.1 180.3C106.1 179.5 107.1 178.7 108.1 178C109.1 177.3 110.1 176.6 111.1 176C112.1 175.4 113.1 174.8 114.1 174.4C115.1 173.9 116.1 173.6 117.1 173.3C118.1 173 119.1 172.7 120.1 172.6C121.1 172.4 122.1 172.3 123.1 172.3C124.1 172.2 125.1 172.1 126.1 172.2C127.1 172.3 128.1 172.6 129.1 172.9C130.1 173.3 131.1 173.7 132.1 174.4C133.1 175.1 134.1 176.1 135.1 177C136.1 178 137.1 179 138.1 180C139.1 181 140.1 182.1 141.1 183C142.1 184 143.1 184.8 144.1 185.6C145.1 186.4 146.1 187.1 147.1 187.8C148.1 188.5 149.1 189.2 150.1 189.7C151.1 190.2 152.1 190.7 153.1 191C154.1 191.4 155.1 191.6 156.1 191.8C157.1 191.9 158.1 191.9 159.1 191.8C160.1 191.7 161.1 191.4 162.1 191.1C163.1 190.8 164.1 190.4 165.1 190C166.1 189.6 167.1 189.1 168.1 188.7C169.1 188.3 170.1 188 171.1 187.7C172.1 187.4 173.1 187.1 174.1 186.8C175.1 186.6 176.1 186.4 177.1 186.2C178.1 185.9 179.1 185.8 180.1 185.6C181.1 185.4 182.1 185.1 183.1 185C184.1 184.8 185.1 184.5 186.1 184.4C187.1 184.2 188.1 184.1 189.1 184C190.1 183.9 191.1 183.9 192.1 183.9C193.1 183.8 194.1 183.9 195.1 183.9C196.1 183.9 197.1 183.9 198.1 184C199.1 184 200.1 184.2 201.1 184.1C202.1 184.1 203.1 184 204.1 183.8C205.1 183.6 206.1 183.3 207.1 182.8C208.1 182.3 209.1 181.7 210.1 181.1C211.1 180.5 212.1 179.9 213.1 179.3C214.1 178.8 215.1 178.2 216.1 177.8C217.1 177.4 218.1 177.2 219.1 177C220.1 176.9 221.1 176.9 222.1 176.9C223.1 176.9 224.1 177 225.1 177.2C226.1 177.3 227.1 177.5 228.1 177.7C229.1 178 230.1 178.2 231.1 178.5C232.1 178.9 233.1 179.4 234.1 179.9C235.1 180.4 236.1 180.9 237.1 181.6C238.1 182.3 239.1 183.1 240.1 184C241.1 184.9 242.1 185.7 243.1 186.8C244.1 188 245.1 189.3 246.1 190.8C247.1 192.2 248.1 193.8 249.1 195.6C250.1 197.4 251.1 199.5 252.1 201.5C253.1 203.6 254.1 205.6 255.1 207.9C256.1 210.1 257.1 212.5 258.1 215C259.1 217.5 260.1 220.4 261.1 223C262.1 225.7 263.1 228.3 264.1 230.8C265.1 233.3 266.1 235.7 267.1 237.9C268.1 240 269.1 241.8 270.1 243.7C271.1 245.7 272.1 247.6 273.1 249.5C274.1 251.4 275.1 253.3 276.1 255.2C277.1 257.1 278.1 259 279.1 260.9C280.1 262.8 281.1 264.6 282.1 266.5C283.1 268.4 284.1 270.3 285.1 272.2C286.1 274.1 287.1 276 288.1 277.9C289.1 279.8 290.1 281.7 291.1 283.6C292.1 285.5 293.1 287.4 294.1 289.2C295.1 291.1 296.1 293 297.1 294.9C298.1 296.8 299.1 298.6 300.1 300.6C301.1 302.6 302.1 304.7 303.1 306.9C304.1 309.2 305.1 311.5 306.1 314.2C307.1 316.9 308.1 320 309.1 323.1C310.1 326.1 311.1 329.4 312.1 332.4C313.1 335.4 314.1 338.6 315.1 341.2C316.1 343.9 317.1 346.3 318.1 348.4C319.1 350.6 320.1 352.3 321.1 354.2C322.1 356.2 323.1 358.3 324.1 360.2C325.1 362.2 326.1 364.1 327.1 366C328.1 367.8 329.1 369.7 330.1 371.2C331.1 372.7 332.1 373.7 333.1 374.8C334.1 375.9 335.1 376.9 336.1 377.8C337.1 378.8 338.1 379.7 339.1 380.6C340.1 381.6 341.1 382.5 342.1 383.5C343.1 384.5 344.1 385.6 345.1 386.8C346.1 388 347.1 389.3 348.1 390.6C349.1 391.9 350.1 393.4 351.1 394.7C352.1 396.1 353.1 397.2 354.1 398.7C355.1 400.2 356.1 401.9 357.1 403.8C358.1 405.6 359.1 407.8 360.1 410C361.1 412.2 362.1 414.8 363.1 417C364.1 419.2 365.1 421.3 366.1 423.1C367.1 424.9 368.1 426.4 369.1 428C370.1 429.7 371.1 431.3 372.1 433C373.1 434.8 374.1 436.7 375.1 438.7C376.1 440.8 377.1 443.3 378.1 445.4C379.1 447.4 380.1 449.5 381.1 451.1C382.1 452.8 383.1 454.1 384.1 455.2C385.1 456.3 386.1 456.8 387.1 457.8C388.1 458.8 389.1 460.1 390.1 461.3C391.1 462.6 392.1 463.9 393.1 465.3C394.1 466.7 395.1 468.3 396.1 469.6C397.1 470.9 398.1 471.8 399.1 473C400.1 474.1 401.1 475.2 402.1 476.5C403.1 477.7 404.1 479.2 405.1 480.6C406.1 482 407.1 483.3 408.1 484.7C409.1 486.1 410.1 487.6 411.1 489.1C412.1 490.7 413.1 492.2 414.1 494.1C415.1 495.9 416.1 498.1 417.1 500.4C418.1 502.8 419.1 505.4 420.1 508C421.1 510.6 422.1 513.5 423.1 516C424.1 518.5 425.1 520.9 426.1 523.2C427.1 525.4 428.1 527.4 429.1 529.4C430.1 531.3 431.1 532.9 432.1 534.9C433.1 536.8 434.1 538.8 435.1 541C436.1 543.1 437.1 545.7 438.1 547.8C439.1 550 440.1 552.1 441.1 554C442.1 555.9 443.1 557.7 444.1 559.2C445.1 560.7 446.1 561.8 447.1 563.1C448.1 564.3 449.1 565.6 450.1 566.8C451.1 568 452.1 569.3 453.1 570.2C454.1 571.2 455.1 572.1 456.1 572.8C457.1 573.5 458.1 574 459.1 574.4C460.1 574.8 461.1 575 462.1 575.2C463.1 575.4 464.1 575.6 465.1 575.8C466.1 576 467.1 576.1 468.1 576.2C469.1 576.3 470.1 576.4 471.1 576.5C472.1 576.6 473.1 576.8 474.1 576.9C475.1 577.1 476.1 577.3 477.1 577.6C478.1 577.8 479.1 578.1 480.1 578.4C481.1 578.7 482.1 579 483.1 579.4C484.1 579.8 485.1 580.2 486.1 580.6C487.1 581 488.1 581.6 489.1 582C490.1 582.4 491.1 582.8 492.1 583.1C493.1 583.4 494.1 583.6 495.1 583.7C496.1 583.9 497.1 583.8 498.1 583.9C499.1 583.9 500.1 583.8 501.1 583.9C502.1 583.9 503.1 584 504.1 584.1C505.1 584.2 506.1 584.3 507.1 584.4C508.1 584.6 509.1 584.8 510.1 585C511.1 585.1 512.1 585.2 513.1 585.2C514.1 585.3 515.1 585.3 516.1 585.3C517.1 585.3 518.1 585.2 519.1 585.3C520.1 585.4 521.1 585.5 522.1 585.7C523.1 585.9 524.1 586.3 525.1 586.6C526.1 587 527.1 587.5 528.1 588.1C529.1 588.7 530.1 589.3 531.1 590.3C532.1 591.3 533.1 592.8 534.1 594.2C535.1 595.6 536.1 597.2 537.1 598.7C538.1 600.3 539.1 601.9 540.1 603.3C541.1 604.8 542.1 605.9 543.1 607.3C544.1 608.7 545.1 609.9 546.1 611.6C547.1 613.3 548.1 615.5 549.1 617.6C550.1 619.7 551.1 621.9 552.1 624C553.1 626.2 554.1 628.5 555.1 630.5C556.1 632.5 557.1 634.1 558.1 635.9C559.1 637.7 560.1 639.5 561.1 641.3C562.1 643.1 563.1 645 564.1 646.7C565.1 648.5 566.1 650.2 567.1 651.9C568.1 653.5 569.1 655.2 570.1 656.7C571.1 658.2 572.1 659.6 573.1 661C574.1 662.4 575.1 663.8 576.1 664.9C577.1 666 578.1 666.9 579.1 667.6C580.1 668.3 581.1 668.8 582.1 669C583.1 669.2 584.1 669 585.1 668.9C586.1 668.8 587.1 668.4 588.1 668.2C589.1 668 590.1 667.7 591.1 667.5C592.1 667.4 593.1 667.4 594.1 667.3C595.1 667.2 596.1 667.3 597.1 667.2C598.1 667.1 599.1 666.9 600.1 666.6C601.1 666.4 602.1 666 603.1 665.5C604.1 665 605.1 664.4 606.1 663.7C607.1 663 608.1 662.2 609.1 661.4C610.1 660.5 611.1 659.5 612.1 658.5C613.1 657.5 614.1 656.3 615.1 655.2C616.1 654 617.1 652.8 618.1 651.7C619.1 650.6 620.1 649.4 621.1 648.4C622.1 647.4 623.1 646.5 624.1 645.6C625.1 644.8 626.1 644 627.1 643.2C628.1 642.5 629.1 641.8 630.1 641C631.1 640.3 632.1 639.6 633.1 638.9C634.1 638.1 635.1 637.4 636.1 636.6C637.1 635.8 638.1 635.1 639.1 634.2C640.1 633.4 641.1 632.5 642.1 631.6C643.1 630.7 644.1 629.8 645.1 628.8C646.1 627.9 647.1 626.8 648.1 625.8C649.1 624.7 650.1 623.7 651.1 622.5C652.1 621.4 653.1 620.2 654.1 619.1C655.1 617.9 656.1 616.7 657.1 615.6C658.1 614.5 659.1 613.3 660.1 612.3C661.1 611.4 662.1 610.6 663.1 609.9C664.1 609.3 665.1 608.8 666.1 608.4C667.1 608 668.1 607.8 669.1 607.4C670.1 607 671.1 606.7 672.1 606.1C673.1 605.6 674.1 605 675.1 604.3C676.1 603.6 677.1 602.7 678.1 602C679.1 601.2 680.1 600.3 681.1 599.5C682.1 598.7 683.1 598 684.1 597.2C685.1 596.5 686.1 595.8 687.1 595.1C688.1 594.3 689.1 593.5 690.1 592.7C691.1 591.9 692.1 591 693.1 590.2C694.1 589.3 695.1 588.4 696.1 587.6C697.1 586.8 698.1 586.1 699.1 585.4C700.1 584.7 701.1 584.1 702.1 583.5C703.1 582.8 704.1 582.1 705.1 581.3C706.1 580.5 707.1 579.7 708.1 578.7C709.1 577.8 710.1 576.5 711.1 575.5C712.1 574.6 713.1 573.7 714.1 572.9C715.1 572.2 716.1 571.5 717.1 571.1C718.1 570.7 719.1 570.5 720.1 570.4C721.1 570.2 722.1 570.2 723.1 570.2C724.1 570.3 725.1 570.4 726.1 570.6C727.1 570.8 728.1 571.1 729.1 571.4C730.1 571.7 731.1 572.1 732.1 572.5C733.1 572.9 734.1 573.3 735.1 573.7C736.1 574.1 737.1 574.5 738.1 574.9C739.1 575.3 740.1 575.7 741.1 576.1C742.1 576.5 743.1 577 744.1 577.5C745.1 578 746.1 578.5 747.1 579.1C748.1 579.7 749.1 580.3 750.1 580.8C751.1 581.4 752.1 581.9 753.1 582.4C754.1 582.9 755.1 583.2 756.1 583.7C757.1 584.1 758.1 584.6 759.1 585.1C760.1 585.6 761.1 586.1 762.1 586.6C763.1 587.2 764.1 587.8 765.1 588.4C766.1 589 767.1 589.5 768.1 590.1C769.1 590.6 770.1 591.2 771.1 591.7C772.1 592.2 773.1 592.7 774.1 593.1C775.1 593.6 776.1 594.1 777.1 594.5C778.1 594.9 779.1 595.4 780.1 595.8C781.1 596.2 782.1 596.6 783.1 597C784.1 597.4 785.1 597.8 786.1 598.2C787.1 598.6 788.1 599.1 789.1 599.4C790.1 599.7 791.1 600 792.1 600.2C793.1 600.4 794.1 600.5 795.1 600.5C796.1 600.4 797.1 600.2 798.1 599.9C799.1 599.7 800.1 599.3 801.1 598.9C802.1 598.5 803.1 597.9 804.1 597.4C805.1 596.8 806.1 596.3 807.1 595.6C808.1 595 809.1 594.3 810.1 593.6C811.1 592.8 812.1 592.1 813.1 591.3C814.1 590.5 815.1 589.7 816.1 588.9C817.1 588.1 818.1 587.4 819.1 586.6C820.1 585.8 821.1 585.1 822.1 584.4C823.1 583.6 824.1 582.9 825.1 582.3C826.1 581.7 827.1 581.2 828.1 580.7C829.1 580.3 830.1 580 831.1 579.7C832.1 579.5 833.1 579.3 834.1 579.1C835.1 579 836.1 578.9 837.1 578.8C838.1 578.7 839.1 578.6 840.1 578.6C841.1 578.5 842.1 578.6 843.1 578.5C844.1 578.5 845.1 578.5 846.1 578.4C847.1 578.3 848.1 578.2 849.1 578C850.1 577.7 851.1 577.4 852.1 577C853.1 576.6 854.1 576.1 855.1 575.5C856.1 574.8 857.1 574.1 858.1 573.3C859.1 572.6 860.1 571.7 861.1 570.9C862.1 570 863.1 569.1 864.1 568.3C865.1 567.4 866.1 566.5 867.1 565.6C868.1 564.8 869.1 564 870.1 563.2C871.1 562.5 872.1 561.8 873.1 561.2C874.1 560.5 875.1 560 876.1 559.3C877.1 558.7 878.1 558.1 879.1 557.4C880.1 556.7 881.1 556.1 882.1 555.4C883.1 554.7 884.1 553.9 885.1 553.2C886.1 552.6 887.1 551.9 888.1 551.5C889.1 551 890.1 550.6 891.1 550.4C892.1 550.2 893.1 550.2 894.1 550.3C895.1 550.4 896.1 550.6 897.1 550.8C898.1 551.1 899.1 551.4 900.1 551.7C901.1 552.1 902.1 552.6 903.1 552.9C904.1 553.3 905.1 553.6 906.1 553.8C907.1 554 908.1 554.1 909.1 554.1C910.1 554 911.1 553.8 912.1 553.6C913.1 553.5 914.1 553.2 915.1 552.9C916.1 552.6 917.1 552.4 918.1 552.1C919.1 551.7 920.1 551.4 921.1 551.1C922.1 550.7 923.1 550.3 924.1 549.9C925.1 549.6 926.1 549.2 927.1 548.9C928.1 548.6 929.1 548.3 930.1 548.2C931.1 548.1 932.1 548.1 933.1 548.3C934.1 548.6 935.1 548.9 936.1 549.4C937.1 550 938.1 550.7 939.1 551.5C940.1 552.3 941.1 553.1 942.1 554C943.1 554.8 944.1 555.8 945.1 556.7C946.1 557.5 947.1 558.5 948.1 559.4C949.1 560.3 950.1 561.2 951.1 562.1C952.1 562.9 953.1 563.8 954.1 564.6C955.1 565.4 956.1 566.2 957.1 566.9C958.1 567.6 959.1 568.2 960.1 568.9C961.1 569.6 962.1 570.2 963.1 571.1C964.1 571.9 965.1 572.8 966.1 573.7C967.1 574.7 968.1 575.8 969.1 576.8C970.1 577.8 971.1 578.9 972.1 579.8C973.1 580.8 974.1 581.6 975.1 582.5C976.1 583.3 977.1 584 978.1 584.8C979.1 585.5 980.1 586.1 981.1 586.7C982.1 587.3 983.1 587.8 984.1 588.3C985.1 588.8 986.1 589.3 987.1 589.6C988.1 590 989.1 590.2 990.1 590.4C991.1 590.6 992.1 590.8 993.1 590.9C994.1 590.9 995.1 590.9 996.1 590.8C997.1 590.8 998.1 590.7 999.1 590.6C1000.1 590.4 1001.1 590.2 1002.1 590C1003.1 589.8 1004.1 589.6 1005.1 589.3C1006.1 589.1 1007.1 588.8 1008.1 588.4C1009.1 588 1010.1 587.6 1011.1 587C1012.1 586.4 1013.1 585.5 1014.1 584.6C1015.1 583.6 1016.1 582.5 1017.1 581.4C1018.1 580.2 1019.1 578.9 1020.1 577.7C1021.1 576.5 1022.1 575.3 1023.1 574.1C1024.1 572.9 1025.1 572 1026.1 570.5C1027.1 569.1 1028.1 567.2 1029.1 565.3C1030.1 563.5 1031.1 561.5 1032.1 559.5C1033.1 557.5 1034.1 555.3 1035.1 553.4C1036.1 551.5 1037.1 549.9 1038.1 548.1C1039.1 546.3 1040.1 544.4 1041.1 542.5C1042.1 540.5 1043.1 538.4 1044.1 536.4C1045.1 534.4 1046.1 532.2 1047.1 530.2C1048.1 528.1 1049.1 526.2 1050.1 524.1C1051.1 522 1052.1 519.8 1053.1 517.6C1054.1 515.3 1055.1 512.9 1056.1 510.6C1057.1 508.3 1058.1 505.9 1059.1 503.8C1060.1 501.7 1061.1 499.7 1062.1 497.9C1063.1 496 1064.1 494.5 1065.1 492.8C1066.1 491.2 1067.1 489.6 1068.1 488C1069.1 486.4 1070.1 484.9 1071.1 483.3C1072.1 481.8 1073.1 480.4 1074.1 479C1075.1 477.5 1076.1 476.1 1077.1 474.6C1078.1 473.2 1079.1 471.8 1080.1 470.4C1081.1 469 1082.1 467.6 1083.1 466.4C1084.1 465.1 1085.1 463.9 1086.1 462.8C1087.1 461.7 1088.1 460.7 1089.1 459.7C1090.1 458.8 1091.1 457.8 1092.1 456.9C1093.1 456 1094.1 455 1095.1 454.1C1096.1 453.1 1097.1 452 1098.1 451C1099.1 449.9 1100.1 448.8 1101.1 447.7C1102.1 446.6 1103.1 445.5 1104.1 444.5C1105.1 443.6 1106.1 442.6 1107.1 441.8C1108.1 440.9 1109.1 440.1 1110.1 439.4C1111.1 438.7 1112.1 438.1 1113.1 437.5C1114.1 436.9 1115.1 436.4 1116.1 435.9C1117.1 435.4 1118.1 434.9 1119.1 434.5C1120.1 434 1121.1 433.7 1122.1 433.2C1123.1 432.8 1124.1 432.4 1125.1 431.8C1126.1 431.1 1127.1 430.2 1128.1 429.3C1129.1 428.5 1130.1 427.5 1131.1 426.6C1132.1 425.6 1133.1 424.5 1134.1 423.6C1135.1 422.7 1136.1 422 1137.1 421.1C1138.1 420.3 1139.1 419.5 1140.1 418.6C1141.1 417.7 1142.1 416.6 1143.1 415.7C1144.1 414.7 1145.1 413.8 1146.1 412.8C1147.1 411.9 1148.1 411 1149.1 410.2C1150.1 409.4 1151.1 408.8 1152.1 408.1C1153.1 407.5 1154.1 406.8 1155.1 406.3C1156.1 405.7 1157.1 405.3 1158.1 404.8C1159.1 404.4 1160.1 403.9 1161.1 403.6C1162.1 403.2 1163.1 403 1164.1 402.7C1165.1 402.5 1166.1 402.3 1167.1 402.1C1168.1 401.9 1169.1 401.8 1170.1 401.7C1171.1 401.5 1172.1 401.4 1173.1 401.3C1174.1 401.2 1175.1 401 1176.1 400.9C1177.1 400.8 1178.1 400.7 1179.1 400.6C1180.1 400.5 1181.1 400.4 1182.1 400.3C1183.1 400.2 1184.1 400.2 1185.1 400.1C1186.1 400 1187.1 399.8 1188.1 399.7C1189.1 399.5 1190.1 399.4 1191.1 399.2C1192.1 399 1193.1 398.8 1194.1 398.6C1195.1 398.4 1196.1 398.2 1197.1 398C1198.1 397.8 1199.1 397.6 1200.1 397.4C1201.1 397.2 1202.1 397 1203.1 396.8C1204.1 396.6 1205.1 396.4 1206.1 396.3C1207.1 396.1 1208.1 395.9 1209.1 395.7C1210.1 395.6 1211.1 395.4 1212.1 395.2C1213.1 395.1 1214.1 395 1215.1 394.9C1216.1 394.8 1217.1 394.7 1218.1 394.7C1219.1 394.7 1220.1 394.7 1221.1 394.7C1222.1 394.7 1223.1 394.7 1224.1 394.7C1225.1 394.7 1226.1 394.7 1227.1 394.8C1228.1 394.8 1229.1 394.8 1230.1 394.9C1231.1 394.9 1232.1 395 1233.1 395.1C1234.1 395.2 1235.1 395.4 1236.1 395.6C1237.1 395.9 1238.1 396.3 1239.1 396.7C1240.1 397 1241.1 397.5 1242.1 397.9C1243.1 398.3 1244.1 398.7 1245.1 399.1C1246.1 399.4 1247.1 399.6 1248.1 399.9C1249.1 400.2 1250.1 400.5 1251.1 400.8C1252.1 401.1 1253.1 401.4 1254.1 401.7C1255.1 402 1256.1 402.3 1257.1 402.5C1258.1 402.7 1259.1 402.8 1260.1 402.9C1261.1 403 1262.1 402.9 1263.1 402.9C1264.1 403 1265.1 402.9 1266.1 402.9C1267.1 403 1268.1 403 1269.1 403.1C1270.1 403.2 1271.1 403.3 1272.1 403.5C1273.1 403.6 1274.1 403.8 1275.1 404C1276.1 404.3 1277.1 404.5 1278.1 404.8C1279.1 405.1 1280.1 405.3 1281.1 405.8C1282.1 406.3 1283.1 407 1284.1 407.8C1285.1 408.5 1286.1 409.5 1287.1 410.4C1288.1 411.3 1289.1 412.5 1290.1 413.4C1291.1 414.3 1292.1 415 1293.1 415.8C1294.1 416.6 1295.1 417.3 1296.1 417.9C1297.1 418.5 1298.1 419 1299.1 419.5C1300.1 420 1301.1 420.4 1302.1 420.7C1303.1 421 1304.1 421.3 1305.1 421.5C1306.1 421.7 1307.1 421.9 1308.1 422C1309.1 422.1 1310.1 422.1 1311.1 422.1C1312.1 422.1 1313.1 421.9 1314.1 421.8C1315.1 421.7 1316.1 421.6 1317.1 421.5C1318.1 421.3 1319.1 421.2 1320.1 421C1321.1 420.7 1322.1 420.5 1323.1 420.2C1324.1 419.8 1325.1 419.5 1326.1 419.1C1327.1 418.6 1328.1 418.1 1329.1 417.4C1330.1 416.7 1331.1 416 1332.1 415.1C1333.1 414.2 1334.1 413.1 1335.1 412.2C1336.1 411.2 1337.1 410.2 1338.1 409.3C1339.1 408.4 1340.1 407.6 1341.1 406.8C1342.1 406 1343.1 405.4 1344.1 404.7C1345.1 404 1346.1 403.3 1347.1 402.6C1348.1 401.9 1349.1 401.2 1350.1 400.5C1351.1 399.8 1352.1 399.2 1353.1 398.6C1354.1 398 1355.1 397.4 1356.1 396.9C1357.1 396.3 1358.1 395.9 1359.1 395.3C1360.1 394.8 1361.1 394.4 1362.1 393.8C1363.1 393.1 1364.1 392.6 1365.1 391.5C1366.1 390.5 1367.1 388.9 1368.1 387.5C1369.1 386 1370.1 384.3 1371.1 382.7C1372.1 381.2 1373.1 379.4 1374.1 378C1375.1 376.7 1376.1 375.8 1377.1 374.8C1378.1 373.7 1379.1 372.7 1380.1 371.8C1381.1 371 1382.1 370.2 1383.1 369.4C1384.1 368.7 1385.1 368 1386.1 367.4C1387.1 366.7 1388.1 366.2 1389.1 365.7C1390.1 365.1 1391.1 364.6 1392.1 364C1393.1 363.4 1394.1 362.8 1395.1 362.2C1396.1 361.5 1397.1 360.9 1398.1 360.2C1399.1 359.5 1400.1 358.8 1401.1 358C1402.1 357.2 1403.1 356.4 1404.1 355.5C1405.1 354.5 1406.1 353.5 1407.1 352.6C1408.1 351.6 1409.1 350.7 1410.1 349.8C1411.1 348.9 1412.1 348 1413.1 347.2C1414.1 346.3 1415.1 345.6 1416.1 344.8C1417.1 344.1 1418.1 343.4 1419.1 342.7C1420.1 342 1421.1 341.4 1422.1 340.7C1423.1 340.1 1424.1 339.5 1425.1 338.9C1426.1 338.3 1427.1 337.7 1428.1 337C1429.1 336.3 1430.1 335.5 1431.1 334.8C1432.1 334.1 1433.1 333.4 1434.1 332.9C1435.1 332.3 1436.1 331.7 1437.1 331.4C1438.1 331.1 1439.1 331 1440.1 330.9C1441.1 330.8 1442.1 330.9 1443.1 330.9C1444.1 331 1445.1 331.2 1446.1 331.4C1447.1 331.6 1448.1 331.9 1449.1 332.1C1450.1 332.3 1451.1 332.5 1452.1 332.8C1453.1 333 1454.1 333.3 1455.1 333.5C1456.1 333.8 1457.1 334.1 1458.1 334.3C1459.1 334.6 1460.1 334.8 1461.1 335.1C1462.1 335.3 1463.1 335.6 1464.1 335.8C1465.1 335.9 1466.1 336 1467.1 336C1468.1 336 1469.1 335.9 1470.1 335.7C1471.1 335.5 1472.1 335.1 1473.1 334.9C1474.1 334.6 1475.1 334.3 1476.1 334C1477.1 333.8 1478.1 333.5 1479.1 333.2C1480.1 333 1481.1 332.7 1482.1 332.5C1483.1 332.3 1484.1 332 1485.1 331.8C1486.1 331.6 1487.1 331.3 1488.1 331.2C1489.1 331 1490.1 330.9 1491.1 330.8C1492.1 330.8 1493.1 330.8 1494.1 330.8C1495.1 330.9 1496.1 331.1 1497.1 331.3C1498.1 331.4 1499.1 331.6 1500.1 331.8C1501.1 332 1502.1 332.1 1503.1 332.4C1504.1 332.6 1505.1 332.8 1506.1 333C1507.1 333.2 1508.1 333.5 1509.1 333.7C1510.1 334 1511.1 334.3 1512.1 334.6C1513.1 334.9 1514.1 335.2 1515.1 335.5C1516.1 335.7 1517.1 336 1518.1 336.2C1519.1 336.5 1520.1 336.7 1521.1 336.9C1522.1 337.2 1523.1 337.4 1524.1 337.7C1525.1 338 1526.1 338.4 1527.1 338.8C1528.1 339.2 1529.1 339.6 1530.1 340C1531.1 340.4 1532.1 340.8 1533.1 341.1C1534.1 341.4 1535.1 341.6 1536.1 341.8C1537.1 342 1538.1 342.2 1539.1 342.2C1540.1 342.3 1541.1 342.2 1542.1 342.3C1543.1 342.3 1544.1 342.3 1545.1 342.4C1546.1 342.5 1547.1 342.6 1548.1 343C1549.1 343.4 1550.1 344 1551.1 344.7C1552.1 345.5 1553.1 346.1 1554.1 347.4C1555.1 348.6 1556.1 350.2 1557.1 352.2C1558.1 354.2 1559.1 356.9 1560.1 359.4C1561.1 361.8 1562.1 364.6 1563.1 367C1564.1 369.3 1565.1 371.6 1566.1 373.6C1567.1 375.5 1568.1 377 1569.1 378.7C1570.1 380.4 1571.1 382.1 1572.1 383.8C1573.1 385.4 1574.1 387.1 1575.1 388.6C1576.1 390.1 1577.1 391.6 1578.1 392.9C1579.1 394.3 1580.1 395.6 1581.1 396.8C1582.1 398.1 1583.1 399.2 1584.1 400.4C1585.1 401.5 1586.1 402.7 1587.1 403.8C1588.1 405 1589.1 406.2 1590.1 407.2C1591.1 408.2 1592.1 409.2 1593.1 410C1594.1 410.7 1595.1 411.2 1596.1 411.6C1597.1 412 1598.1 412.2 1599.1 412.3C1600.1 412.4 1601.1 412.3 1602.1 412.1C1603.1 412 1604.1 411.8 1605.1 411.5C1606.1 411.2 1607.1 410.8 1608.1 410.4C1609.1 410 1610.1 409.6 1611.1 409.3C1612.1 409.1 1613.1 408.8 1614.1 408.7C1615.1 408.6 1616.1 408.5 1617.1 408.5C1618.1 408.5 1619.1 408.6 1620.1 408.6C1621.1 408.6 1622.1 408.6 1623.1 408.5C1624.1 408.4 1625.1 408.3 1626.1 408.1C1627.1 407.8 1628.1 407.5 1629.1 407C1630.1 406.5 1631.1 406.1 1632.1 405.3C1633.1 404.5 1634.1 403.5 1635.1 402.4C1636.1 401.2 1637.1 399.9 1638.1 398.4C1639.1 397 1640.1 395.3 1641.1 393.7C1642.1 392.2 1643.1 390.6 1644.1 389.1C1645.1 387.6 1646.1 386.2 1647.1 384.8C1648.1 383.4 1649.1 382 1650.1 380.7C1651.1 379.3 1652.1 377.8 1653.1 376.5C1654.1 375.1 1655.1 373.7 1656.1 372.4C1657.1 371.1 1658.1 369.9 1659.1 368.7C1660.1 367.5 1661.1 366.3 1662.1 365.2C1663.1 364.1 1664.1 363 1665.1 361.8C1666.1 360.7 1667.1 359.6 1668.1 358.4C1669.1 357.1 1670.1 355.7 1671.1 354.4C1672.1 353 1673.1 351.7 1674.1 350.5C1675.1 349.2 1676.1 347.8 1677.1 346.8C1678.1 345.7 1679.1 345 1680.1 344.3C1681.1 343.5 1682.1 342.9 1683.1 342.3C1684.1 341.7 1685.1 341.3 1686.1 340.7C1687.1 340.1 1688.1 339.5 1689.1 338.8C1690.1 338.1 1691.1 337.4 1692.1 336.6C1693.1 335.8 1694.1 335 1695.1 334.1C1696.1 333.3 1697.1 332.5 1698.1 331.6C1699.1 330.7 1700.1 329.8 1701.1 328.9C1702.1 328.1 1703.1 327.3 1704.1 326.5C1705.1 325.7 1706.1 325 1707.1 324.4C1708.1 323.7 1709.1 323.2 1710.1 322.5C1711.1 321.9 1712.1 321.2 1713.1 320.5C1714.1 319.8 1715.1 319.1 1716.1 318.4C1717.1 317.7 1718.1 316.9 1719.1 316.1C1720.1 315.4 1721.1 314.8 1722.1 314.1C1723.1 313.5 1724.1 312.9 1725.1 312.4C1726.1 311.8 1727.1 311.4 1728.1 310.9C1729.1 310.4 1730.1 309.9 1731.1 309.4C1732.1 308.9 1733.1 308.4 1734.1 307.9C1735.1 307.4 1736.1 306.9 1737.1 306.5C1738.1 306.1 1739.1 305.7 1740.1 305.4C1741.1 305.1 1742.1 304.8 1743.1 304.7C1744.1 304.5 1745.1 304.4 1746.1 304.4C1747.1 304.4 1748.1 304.5 1749.1 304.7C1750.1 304.9 1751.1 305.3 1752.1 305.7C1753.1 306.1 1754.1 306.7 1755.1 307.2C1756.1 307.6 1757.1 308.1 1758.1 308.6C1759.1 309.1 1760.1 309.5 1761.1 309.9C1762.1 310.3 1763.1 310.7 1764.1 311.1C1765.1 311.5 1766.1 312 1767.1 312.4C1768.1 312.8 1769.1 313.2 1770.1 313.7C1771.1 314.1 1772.1 314.6 1773.1 315.1C1774.1 315.6 1775.1 316.1 1776.1 316.7C1777.1 317.2 1778.1 317.8 1779.1 318.4C1780.1 319 1781.1 319.7 1782.1 320.3C1783.1 321 1784.1 321.6 1785.1 322.3C1786.1 323 1787.1 323.7 1788.1 324.5C1789.1 325.2 1790.1 326 1791.1 326.8C1792.1 327.6 1793.1 328.5 1794.1 329.4C1795.1 330.2 1796.1 331.1 1797.1 332C1798.1 332.9 1799.1 333.8 1800.1 334.7C1801.1 335.7 1802.1 336.6 1803.1 337.6C1804.1 338.5 1805.1 339.5 1806.1 340.5C1807.1 341.5 1808.1 342.5 1809.1 343.7C1810.1 344.8 1811.1 346 1812.1 347.3C1813.1 348.6 1814.1 350 1815.1 351.3C1816.1 352.6 1817.1 354 1818.1 355.3C1819.1 356.5 1820.1 357.7 1821.1 358.8C1822.1 359.9 1823.1 360.9 1824.1 361.8C1825.1 362.6 1826.1 363.3 1827.1 364C1828.1 364.6 1829.1 365.1 1830.1 365.5C1831.1 366 1832.1 366.2 1833.1 366.5C1834.1 366.8 1835.1 367.1 1836.1 367.4C1837.1 367.7 1838.1 367.9 1839.1 368.2C1840.1 368.4 1841.1 368.6 1842.1 368.9C1843.1 369.1 1844.1 369.2 1845.1 369.4C1846.1 369.6 1847.1 369.7 1848.1 369.8C1849.1 370 1850.1 370.1 1851.1 370.2C1852.1 370.3 1853.1 370.3 1854.1 370.4C1855.1 370.4 1856.1 370.4 1857.1 370.4C1858.1 370.4 1859.1 370.4 1860.1 370.3C1861.1 370.3 1862.1 370.2 1863.1 370.1C1864.1 370 1865.1 369.8 1866.1 369.6C1867.1 369.4 1868.1 369.1 1869.1 368.8C1870.1 368.5 1871.1 368.1 1872.1 367.7C1873.1 367.3 1874.1 366.9 1875.1 366.3C1876.1 365.8 1877.1 365.2 1878.1 364.7C1879.1 364.1 1880.1 363.5 1881.1 362.8C1882.1 362.2 1883.1 361.6 1884.1 361C1885.1 360.4 1886.1 359.8 1887.1 359.2C1888.1 358.7 1889.1 358.1 1890.1 357.7C1891.1 357.2 1892.1 356.9 1893.1 356.6C1894.1 356.4 1895.1 356.2 1896.1 356.1C1897.1 356.1 1898.1 356.1 1899.1 356.2C1900.1 356.3 1901.1 356.5 1902.1 356.7C1903.1 356.9 1904.1 357.1 1905.1 357.4C1906.1 357.7 1907.1 358.1 1908.1 358.6C1909.1 359.1 1910.1 359.6 1911.1 360.5C1912.1 361.3 1913.1 362.4 1914.1 363.7C1915.1 364.9 1916.1 366.3 1917.1 367.8C1918.1 369.2 1919.1 370.9 1920.1 372.4C1921.1 373.9 1922.1 375.3 1923.1 376.7C1924.1 378.2 1925.1 379.4 1926.1 381C1927.1 382.5 1928.1 384.2 1929.1 385.9C1930.1 387.6 1931.1 389.4 1932.1 391.2C1933.1 393 1934.1 395.1 1935.1 396.9C1936.1 398.7 1937.1 400.3 1938.1 402C1939.1 403.8 1940.1 405.4 1941.1 407.2C1942.1 409.1 1943.1 411.1 1944.1 413.1C1945.1 415 1946.4 417 1947.1 419C1947.9 421 1948.3 424.1 1948.6 425.1" stroke="#2962ff" stroke-width="4" fill="none" stroke-linejoin="round" stroke-linecap="butt"/>
<path d="M19.2 530.8 H2448" stroke="#f23645" stroke-width="2" stroke-dasharray="2 3.41" fill="none"/>
<defs><linearGradient id="gOB" gradientUnits="userSpaceOnUse" x1="0" y1="755.5" x2="0" y2="977.9"><stop offset="0" stop-color="#4caf50" stop-opacity="0.7"/><stop offset="1" stop-color="#4caf50" stop-opacity="0"/></linearGradient>
<linearGradient id="gOS" gradientUnits="userSpaceOnUse" x1="0" y1="1274.3" x2="0" y2="1496.6"><stop offset="0" stop-color="#ff5252" stop-opacity="0"/><stop offset="1" stop-color="#ff5252" stop-opacity="0.7"/></linearGradient>
<clipPath id="cOB"><rect x="18" y="806.7" width="2430" height="171.2"/></clipPath><clipPath id="cOS"><rect x="18" y="1274.3" width="2430" height="116.7"/></clipPath><clipPath id="cL"><rect x="19" y="1391" width="2430" height="50"/></clipPath></defs>
<path d="M18 977.9 L18 1228.2 L20.2 1225.5 L22.1 1196 L23.9 1201.4 L25.6 1193.3 L27.4 1217.4 L29.3 1187.9 L30.9 1147.7 L32.8 1153.1 L34.1 1135.7 L36 1201.4 L38.2 1096.8 L40 1131.6 L42.2 1153.1 L44.3 1171.9 L46.7 1230.9 L48.9 1147.7 L50.8 1067.3 L52.9 1040.5 L54.2 1032.4 L56.1 1056.5 L57.7 1040.5 L59.3 1012.3 L61 1045.8 L62.8 1032.4 L65 1027 L66.9 1011 L68.5 996.2 L70.6 1032.4 L72.2 1021.7 L73.8 1019 L75.7 1027 L77.3 1009.6 L79.2 1048.5 L81.1 1110.2 L82.9 1134.3 L84.6 1190.6 L86.4 1115.5 L88.3 1094.1 L89.9 1083.4 L91.8 1114.2 L93.7 1078 L95.3 1088.7 L97.2 1072.6 L99 1064.6 L100.6 1039.1 L102.2 1040.5 L103.9 1120.9 L106 1126.3 L107.9 1134.3 L109.8 1137 L111.4 1153.1 L113.2 1123.6 L115.1 1112.9 L116.7 1147.7 L117.8 1228.2 L118.6 1295.2 L120.5 1217.4 L122.6 1177.2 L124.8 1206.7 L125.8 1217.4 L127.5 1257.7 L128.5 1265.7 L130.1 1271.1 L132 1272.4 L133.4 1252.3 L135 1273.8 L136 1244.3 L137.4 1249.6 L138.7 1206.7 L140.6 1190.6 L142.2 1212.1 L144.1 1193.3 L146 1131.6 L147.6 1099.4 L149.4 1091.4 L151.3 1053.9 L153.5 1024.4 L155.3 1005.6 L157.5 992.2 L160.2 981.5 L162.1 1027 L163.7 989.5 L165 1019 L166.9 1002.9 L168.8 985.5 L170.4 994.9 L172.2 988.2 L174.1 994.9 L175.7 1006.9 L177.1 1040.5 L178.1 1078 L179.8 1048.5 L181.6 1024.4 L183 1039.1 L184.8 1043.1 L187 1053.9 L189.1 1094.1 L191 1147.7 L192.4 1182.6 L194 1193.3 L195.8 1251 L197.7 1192 L199.6 1257.7 L201.2 1201.4 L202.5 1234.9 L204.4 1212.1 L205.8 1163.8 L207.1 1131.6 L209 1137 L210.6 1158.4 L211.9 1163.8 L213.3 1196 L214.6 1225.5 L216 1190.6 L217.8 1201.4 L219.7 1217.4 L221.3 1287.2 L223.2 1228.2 L225.1 1174.5 L226.7 1147.7 L228.6 1133 L230.4 1163.8 L232 1153.1 L233.9 1145 L235.8 1137 L237.7 1120.9 L239.3 1187.9 L241.2 1204 L243.3 1214.8 L244.9 1240.2 L246.5 1147.7 L248.1 1174.5 L250 1201.4 L252.2 1238.9 L254.6 1252.3 L256.7 1281.8 L258.9 1308.6 L260.7 1311.3 L262.6 1319.3 L264.2 1268.4 L266.1 1187.9 L268 1158.4 L269.6 1145 L271.5 1190.6 L274.1 1193.3 L276.8 1202.7 L279 1138.3 L280.9 1209.4 L282.5 1224.1 L284.1 1171.9 L286.2 1177.2 L287.6 1214.8 L288.9 1228.2 L290.2 1255 L292.9 1276.4 L294.8 1280.5 L295.9 1214.8 L298.3 1253.6 L300.4 1201.4 L302.3 1244.3 L304.2 1271.1 L305.8 1305.9 L307.7 1281.8 L309.5 1205.4 L311.7 1218.8 L313.3 1226.8 L314.9 1217.4 L317.1 1137 L318.9 1115.5 L320.5 1102.1 L322.1 1134.3 L323.8 1115.5 L325.9 1145 L328.6 1151.7 L331 1090.1 L333.1 1118.2 L335 1124.9 L337.2 1102.1 L338.8 1095.4 L340.4 1131.6 L342.5 1166.5 L344.4 1171.9 L347.1 1201.4 L349.2 1158.4 L351.1 1171.9 L352.7 1177.2 L354.6 1147.7 L356.5 1137 L358.1 1224.1 L360 1241.6 L361.8 1291.2 L363.4 1292.5 L365.3 1253.6 L366.7 1269.7 L369.3 1257.7 L371.5 1241.6 L372.8 1213.4 L374.7 1281.8 L376.3 1311.3 L377.9 1285.8 L380.1 1293.9 L381.7 1296.6 L383.3 1209.4 L385.4 1208.1 L387 1161.1 L388.7 1206.7 L390.3 1209.4 L392.1 1167.8 L394 1190.6 L395.6 1178.6 L397.5 1120.9 L399.4 1099.4 L401.5 1098.1 L403.1 1131.6 L404.7 1088.7 L406.9 1099.4 L408.8 1104.8 L410 1105.5 L411.3 1121.6 L412.7 1177.9 L414.8 1245 L417.2 1269.1 L419.4 1223.5 L420.7 1253 L422.6 1246.3 L424.2 1253 L426.1 1239.6 L427.4 1196.7 L428.8 1177.9 L430.4 1179.3 L432.3 1199.4 L434.1 1214.1 L436 1223.5 L437.6 1215.5 L439.5 1220.9 L441.4 1186 L443 1191.4 L444.9 1214.1 L446.7 1204.8 L448.3 1223.5 L450 1239.6 L451.6 1202.1 L453.4 1159.2 L455.1 1102.9 L456.9 1073.4 L458.5 1089.4 L460.1 1086.8 L462.6 1131 L464.4 1078.7 L466.3 1035.8 L467.9 1019.7 L469.5 1038.5 L471.1 1057.3 L473 1041.2 L474.9 1068 L476.5 1055.9 L478.7 1086.8 L480.3 1035.8 L482.4 1033.1 L484 1021.1 L485.9 1027.8 L487.2 1073.4 L488.6 1094.8 L489.9 1102.9 L491.3 1148.4 L493.1 1194 L495 1180.6 L497.2 1156.5 L499 1141.7 L500.6 1204.8 L502.5 1218.2 L503.9 1220.9 L506 1253 L507.6 1255.7 L509.2 1245 L511.1 1207.4 L512.4 1208.8 L514.6 1143.1 L516.7 1116.3 L518.1 1186 L519.4 1207.4 L520.8 1218.2 L522.6 1230.2 L524 1227.6 L525.8 1266.4 L527.5 1282.5 L529.3 1309.3 L531.2 1330.8 L532.8 1341.5 L534.2 1342.9 L534.7 1271.8 L536 1294.6 L538.2 1277.2 L540.1 1207.4 L541.7 1147.1 L543.3 1161.9 L545.4 1183.3 L547.3 1215.5 L548.9 1220.9 L550.5 1238.3 L552.7 1198.1 L554.3 1212.8 L556.2 1161.9 L558 1143.1 L559.6 1172.6 L561.5 1187.3 L563.4 1164.5 L565 1151.1 L566.9 1076 L568.8 1076 L570.4 1066.7 L572.2 1094.8 L573.6 1072 L575.7 1102.9 L577.6 1128.3 L578.9 1094.8 L580.8 1051.9 L582.4 1053.2 L583.8 1019.7 L585.4 975.5 L587 958 L588.6 1014.4 L590.2 1017 L591.8 1043.9 L593.7 1065.3 L595.6 1066.7 L597.2 1070.7 L599.1 1051.9 L600.9 1037.2 L602.8 1094.8 L604.4 1092.1 L606.3 1065.3 L607.9 1050.6 L609.8 1073.4 L611.7 1105.5 L613.8 1141.7 L615.4 1137.7 L617 1121.6 L619.2 1089.4 L621 1066.7 L622.7 1078.7 L624.5 1116.3 L626.7 1164.5 L628.6 1202.1 L629.9 1202.1 L632 1163.2 L633.9 1180.6 L635.5 1172.6 L637.4 1199.4 L639.3 1140.4 L641.2 1143.1 L642.8 1121.6 L644.6 1089.4 L646 1113.6 L648.1 1057.3 L650 1033.1 L652.2 1001 L654 987.5 L656.7 974.1 L658.6 1003.6 L660.7 1059.9 L662.6 1019.7 L664.2 1030.5 L666.1 1019.7 L668 998.3 L669.3 992.9 L671.5 1050.6 L673.3 1046.5 L675 1017 L676.8 975.5 L678.2 1019.7 L679 1065.3 L680.3 1054.6 L682.2 1076 L684.1 1078.7 L685.7 1102.9 L687.6 1068 L689.4 1065.3 L691 1061.3 L692.9 1092.1 L694.3 1081.4 L694.8 1149.8 L696.4 1127 L698.3 1145.8 L700.2 1167.2 L701.5 1125.7 L703.6 1127 L705.5 1125.7 L707.1 1132.4 L709 1092.1 L710.9 1089.4 L711.7 1151.1 L713.6 1127 L715.2 1191.4 L716.5 1245 L718.1 1269.1 L720 1224.9 L721.9 1257.1 L723.8 1231.6 L725.6 1258.4 L727.2 1168.6 L729.1 1183.3 L731 1188.7 L732.9 1198.1 L734.8 1177.9 L736.4 1190 L738.2 1151.1 L739.8 1135 L742 1116.3 L743.6 1110.9 L745.2 1153.8 L747.1 1132.4 L749.2 1113.6 L751.1 1102.9 L752.7 1094.8 L754.6 1068 L756.2 1066.7 L758.1 1094.8 L759.7 1068 L761.6 1081.4 L763.4 1081.4 L765.1 1069.3 L766.7 1140.4 L768.5 1141.7 L770.7 1070.7 L772.6 1057.3 L774.2 1076 L775.8 1141.7 L777.7 1176.6 L779.5 1113.6 L781.1 1110.9 L782.8 1143.1 L784.6 1129.7 L786.2 1121.6 L788.1 1137.7 L790 1101.5 L791.9 1148.4 L793.7 1110.9 L795.6 1100.2 L797.5 1086.8 L799.4 1127 L801.3 1153.8 L803.1 1165.9 L805 1116.3 L806.9 1105.5 L808.5 1110.9 L809.8 1057.3 L810 1057.1 L811.5 1048.1 L813.6 1023.9 L816 1005.8 L818.1 992.3 L820 989.3 L821.5 996.8 L823 971.2 L825.1 981.7 L826.6 1023.9 L828.1 1141.6 L829.6 1156.7 L831.7 1174.8 L833.5 1206.5 L835.6 1206.5 L837.2 1171.8 L838.7 1159.7 L840.2 1114.5 L841.4 1111.4 L843.2 1138.6 L844.7 1165.7 L846.2 1176.3 L847.7 1153.7 L849.2 1138.6 L850.7 1135.6 L852.2 1066.2 L854.3 1005.8 L855.3 992.3 L857.4 992.3 L858.9 969.6 L860.7 944.9 L862.5 984.7 L864.3 993.8 L865.8 995.3 L867.9 987.7 L869.4 977.2 L871.2 1058.6 L872.5 1033 L873.4 1030 L874.9 1090.3 L877 1137.1 L878.5 1137.1 L880 1096.4 L881.8 1076.7 L883.3 1105.4 L884.8 1131.1 L886.9 1144.6 L887.8 1165.7 L889.3 1165.7 L891.5 1198.9 L893.6 1220.1 L895.1 1253.2 L896.6 1238.2 L898.1 1250.2 L899.9 1260.8 L902 1224.6 L903.5 1247.2 L905 1208 L906.5 1117.5 L909 1090.3 L911.1 1099.4 L913.2 1105.4 L915 1117.5 L916.5 1126.5 L918 1129.5 L920.1 1099.4 L921.6 1096.4 L923.1 1103.9 L925.2 1087.3 L927.1 1057.7 L928.6 1156.7 L930.1 1143.1 L931.6 1153.7 L933.1 1186.9 L934.6 1220.1 L935.8 1209.5 L937.3 1241.2 L938.8 1257.8 L939.7 1257.8 L941.2 1209.5 L942.7 1212.5 L944.3 1238.2 L946.7 1298.5 L948.8 1274.4 L950.9 1229.1 L952.4 1195.9 L954.2 1150.7 L956 1134.1 L957.8 1174.8 L959.3 1209.5 L960.8 1164.2 L962.4 1170.3 L963.9 1201.9 L966 1244.2 L968.1 1281.9 L969.9 1248.7 L971.7 1280.4 L973.5 1268.3 L975.3 1287.9 L977.4 1226.1 L979.6 1220.1 L981.4 1171.8 L983.2 1084.3 L984.7 1054.1 L985.9 1081.3 L988 1061.7 L989.5 1067.7 L991 1052.6 L992.5 1048.1 L993.1 1052.6 L994.6 1005.8 L996.1 978.7 L997.7 975.7 L998.9 999.8 L1000.7 966.6 L1002.5 977.2 L1004.6 969.6 L1006.1 960.6 L1007.9 966.6 L1009.7 954.6 L1011.5 939.5 L1013.3 931.9 L1015.2 910.8 L1016.7 966.6 L1018.2 959.1 L1020.3 945.5 L1022.1 942.5 L1024.2 942.5 L1026 936.5 L1027.8 889.7 L1029.6 865.6 L1031.1 880.6 L1032.7 910.8 L1033.6 901.8 L1035.1 962.1 L1036.9 945.5 L1038.7 930.4 L1040.5 921.4 L1042.3 915.3 L1044.1 930.4 L1045.6 981.7 L1046.8 1042.1 L1047.7 1097.9 L1049.2 1093.3 L1050.8 1105.4 L1052.3 1081.3 L1053.8 1105.4 L1055.3 1099.4 L1057.4 1099.4 L1059.8 1100.9 L1061 1132.6 L1062.5 1155.2 L1063.7 1161.2 L1065.2 1111.4 L1067 1069.2 L1068.9 1066.2 L1070.7 1051.1 L1072.5 1017.9 L1074.3 992.3 L1076.1 987.7 L1077.9 986.2 L1079.4 1020.9 L1080.9 1048.1 L1082.4 1090.3 L1083.6 1117.5 L1085.4 1096.4 L1087 1066.2 L1088.8 1030 L1090.6 1013.4 L1092.7 986.2 L1094.2 1105.4 L1096 1028.5 L1097.5 1040.5 L1099.3 1045.1 L1101.1 1030 L1102.9 1027 L1104.8 1030 L1106.6 1019.4 L1108.7 1011.9 L1110.2 1033 L1112.3 1002.8 L1114.1 1031.5 L1115.9 1090.3 L1117.7 1036 L1119.5 1013.4 L1121.3 1033 L1123.2 1028.5 L1124.7 1016.4 L1126.5 1013.4 L1128.3 1090.3 L1130.1 1137.1 L1131.9 1129.5 L1133.7 1081.3 L1135.5 1043.6 L1137.3 1084.3 L1138.8 1072.2 L1140.7 1085.8 L1142.5 1066.2 L1144.3 1048.1 L1146.1 1084.3 L1147.3 1102.4 L1148.8 1078.3 L1150.3 1123.5 L1152.1 1084.3 L1153.9 1072.2 L1155.7 1060.2 L1157.6 1126.5 L1159.1 1134.1 L1160.6 1174.8 L1162.4 1192.9 L1164.5 1205 L1166.6 1217 L1168.1 1232.1 L1169.9 1183.8 L1171.4 1123.5 L1172.9 1122 L1175.1 1171.8 L1176.9 1116 L1178.7 1141.6 L1180.5 1159.7 L1182.3 1156.7 L1184.1 1120.5 L1185.9 1076.7 L1187.7 1073.7 L1189.5 1091.8 L1191.3 1070.7 L1193.2 1066.2 L1195.3 1030 L1197.1 990.8 L1198.9 1037.5 L1200.7 1057.1 L1202.2 1051.1 L1204 1045.1 L1205.8 1063.2 L1207.6 1108.4 L1209.1 1067.7 L1210 1070.7 L1211.1 1148.4 L1212.7 1113.6 L1214.6 1102.9 L1216.7 1098.8 L1218.3 1113.6 L1219.9 1084.1 L1221.5 1108.2 L1222.9 1135 L1224.2 1172.6 L1225.6 1116.3 L1226.9 1105.5 L1228.2 1137.7 L1229.6 1153.8 L1231.2 1164.5 L1232.8 1148.4 L1234.7 1135 L1236.3 1120.3 L1237.6 1159.2 L1239 1199.4 L1240.3 1245 L1241.6 1267.8 L1242.7 1273.1 L1244.3 1261.1 L1246.2 1251.7 L1247.5 1255.7 L1249.2 1218.2 L1251 1207.4 L1252.6 1186 L1254.2 1203.4 L1256.1 1223.5 L1257.2 1153.8 L1258.5 1116.3 L1259.9 1086.8 L1261.5 1089.4 L1262.8 1070.7 L1263.9 1057.3 L1265.5 1084.1 L1267.1 1092.1 L1268.7 1102.9 L1270.1 1081.4 L1271.1 1059.9 L1272.5 1077.4 L1273.6 1116.3 L1274.9 1094.8 L1276.2 1078.7 L1277.8 1084.1 L1279.5 1073.4 L1280.8 1062.6 L1281.9 1051.9 L1283.2 1092.1 L1284.3 1153.8 L1285.6 1218.2 L1287 1270.5 L1288.6 1255.7 L1289.9 1220.9 L1291.3 1196.7 L1292.6 1180.6 L1294.2 1186 L1295.8 1151.1 L1297.4 1124.3 L1299 1100.2 L1300.4 1086.8 L1302 1077.4 L1303.3 1062.6 L1304.7 1073.4 L1306 1064 L1307.3 1041.2 L1308.7 1025.1 L1310.3 1029.1 L1311.9 1027.8 L1313.2 1043.9 L1314.6 1059.9 L1316.2 1059.9 L1317.5 1042.5 L1318.9 1110.9 L1320.2 1151.1 L1321.6 1135 L1323.2 1175.3 L1324.5 1135 L1325.8 1132.4 L1327.2 1127 L1328.8 1089.4 L1330.1 1057.3 L1331.5 1033.1 L1332.8 1007.7 L1334.2 996.9 L1335.8 979.5 L1337.4 962.1 L1338.7 984.9 L1340.1 1002.3 L1341.4 1014.4 L1343 1011.7 L1344.1 1033.1 L1345.4 1057.3 L1346.5 1019.7 L1348.4 1021.1 L1349.7 1035.8 L1351.3 1081.4 L1352.9 1096.2 L1354.3 1094.8 L1355.6 1053.2 L1357 1076 L1358.3 1096.2 L1360.2 1094.8 L1361.5 1096.2 L1362.9 1104.2 L1364.2 1065.3 L1365.8 1066.7 L1367.1 1072 L1368 1086.8 L1369 1035.8 L1370.4 1018.4 L1371.7 1011.7 L1373 1038.5 L1374.7 1059.9 L1376.3 1086.8 L1377.1 1127 L1378.4 1097.5 L1379.8 1113.6 L1381.1 1096.2 L1382.4 1078.7 L1383.8 1096.2 L1385.1 1145.8 L1386.5 1159.2 L1388.1 1169.9 L1389.7 1177.9 L1391.3 1153.8 L1392.6 1100.2 L1393.7 1053.2 L1395 1043.9 L1396.6 1035.8 L1398 1021.1 L1399.1 1005 L1399.9 1078.7 L1400.7 1125.7 L1402 1106.9 L1403.3 1118.9 L1405 1105.5 L1406.6 1096.2 L1407.9 1085.4 L1409.2 1082.7 L1410.6 1065.3 L1411.9 1043.9 L1413.5 1023.7 L1414.9 1014.4 L1416.5 1041.2 L1418.1 1017 L1419.7 1033.1 L1421 1045.2 L1422.4 1051.9 L1424 1043.9 L1425.3 1034.5 L1426.7 1033.1 L1428 1043.9 L1429.4 1078.7 L1431 1084.1 L1432.3 1042.5 L1433.7 1105.5 L1434.7 1123 L1436.1 1117.6 L1437.4 1145.8 L1438.7 1199.4 L1440.1 1253 L1441.4 1259.7 L1442.8 1234.3 L1443.8 1231.6 L1445.5 1266.4 L1447.1 1220.9 L1448.9 1192.7 L1450.5 1226.2 L1452.2 1218.2 L1453.8 1211.5 L1455.1 1191.4 L1456.4 1169.9 L1458.1 1152.5 L1459.4 1183.3 L1460.7 1194 L1461.8 1192.7 L1463.4 1231.6 L1465 1250.3 L1466.4 1169.9 L1467.7 1127 L1469.1 1100.2 L1470.7 1086.8 L1472 1038.5 L1474.1 1034.5 L1476 999.6 L1477.4 1009 L1478.7 1038.5 L1480 1062.6 L1481.7 1038.5 L1483 1054.6 L1484.6 1038.5 L1485.9 1055.9 L1487.3 1089.4 L1488.6 1076 L1490.2 1058.6 L1491.6 1068 L1492.9 1084.1 L1494.3 1108.2 L1495.6 1112.2 L1496.7 1129.7 L1498 1135 L1499.4 1108.2 L1500.7 1078.7 L1502 1066.7 L1503.4 1058.6 L1504.4 1085.4 L1505.8 1108.2 L1507.1 1116.3 L1508.5 1143.1 L1509.8 1182 L1511.4 1156.5 L1513 1191.4 L1514.1 1211.5 L1515.4 1177.9 L1516.8 1188.7 L1518.1 1218.2 L1519.2 1238.3 L1520.5 1200.7 L1521.9 1226.2 L1523 1246.3 L1524.3 1215.5 L1525.6 1239.6 L1526.7 1271.8 L1528 1243.6 L1529.4 1274.5 L1530.7 1245 L1532.1 1204.8 L1533.4 1186 L1534.5 1163.2 L1535.8 1173.9 L1537.2 1161.9 L1538.5 1147.1 L1540.1 1156.5 L1541.5 1164.5 L1542.8 1135 L1544.4 1114.9 L1545.7 1153.8 L1547.1 1175.3 L1548.4 1200.7 L1550 1222.2 L1551.4 1191.4 L1552.7 1164.5 L1553.8 1157.8 L1555.1 1212.8 L1556.2 1279.8 L1557.5 1320.1 L1559.2 1333.5 L1560.5 1338.8 L1561 1266.4 L1561.6 1182 L1562.6 1207.4 L1564 1191.4 L1565.6 1176.6 L1566.9 1168.6 L1568 1161.9 L1569.3 1173.9 L1570.7 1177.9 L1572 1164.5 L1573.4 1186 L1574.7 1153.8 L1576 1124.3 L1577.1 1100.2 L1578.7 1098.8 L1580.6 1086.8 L1582.2 1092.1 L1584.1 1098.8 L1586 1106.9 L1587.6 1076 L1589.5 1081.4 L1591.3 1089.4 L1592.9 1072 L1594.8 1057.3 L1596.4 1022.4 L1598 1007.7 L1600.2 1009 L1602.3 1019.7 L1604.2 1010.3 L1606.1 1006.3 L1607.7 1030.5 L1609 1070.7 L1610 1070.7 L1611.3 1102.9 L1612.7 1055.9 L1614.3 1077.4 L1615.9 1069.3 L1617.5 1081.4 L1619.4 1082.7 L1621.3 1084.1 L1622.9 1072 L1624.2 1068 L1625.6 1034.5 L1627.2 1026.4 L1628.8 1018.4 L1630.4 1029.1 L1632 1022.4 L1633.3 1068 L1634.7 1129.7 L1636 1108.2 L1637.9 1156.5 L1639.5 1128.3 L1640.8 1135 L1641.9 1184.6 L1643.3 1116.3 L1644.9 1110.9 L1646.2 1068 L1647.5 1043.9 L1648.9 1033.1 L1650.2 1034.5 L1651.6 1030.5 L1652.9 1026.4 L1654.2 1017 L1655.9 1006.3 L1657.5 1049.2 L1658.8 1014.4 L1660.1 990.2 L1661.5 978.2 L1662.8 976.8 L1664.4 1009 L1665.5 1010.3 L1666.9 1073.4 L1668.2 1027.8 L1669.5 1003.6 L1670.9 992.9 L1672.2 1007.7 L1673.6 1001 L1674.9 983.5 L1676.2 978.2 L1677.6 1006.3 L1678.9 1019.7 L1680.3 1051.9 L1681.6 1081.4 L1682.9 1100.2 L1684.6 1127 L1686.4 1156.5 L1688.3 1184.6 L1689.9 1149.8 L1691.5 1121.6 L1692.9 1106.9 L1694.2 1104.2 L1695.5 1081.4 L1696.9 1084.1 L1698.2 1062.6 L1699.8 1047.9 L1701.4 1039.8 L1703.1 1047.9 L1704.4 1061.3 L1705.7 1089.4 L1707.1 1121.6 L1708.7 1141.7 L1710 1149.8 L1711.4 1096.2 L1712.2 1062.6 L1713.5 1105.5 L1715.1 1092.1 L1716.7 1089.4 L1718.3 1086.8 L1719.9 1086.8 L1721 1151.1 L1722.6 1175.3 L1724 1153.8 L1725.3 1135 L1726.7 1137.7 L1728 1121.6 L1729.9 1157.8 L1731.2 1116.3 L1732.6 1073.4 L1733.6 1049.2 L1735 1078.7 L1736.3 1081.4 L1737.6 1102.9 L1739 1101.5 L1740.1 1068 L1740.9 1046.5 L1742.2 1076 L1743.5 1102.9 L1744.6 1128.3 L1746.2 1135 L1747.3 1177.9 L1748.1 1207.4 L1749.4 1219.5 L1750.8 1207.4 L1752.1 1191.4 L1753.5 1180.6 L1755.1 1222.2 L1756.4 1203.4 L1757.5 1177.9 L1758.6 1164.5 L1759.9 1157.8 L1761.2 1176.6 L1762.6 1194 L1763.9 1192.7 L1765.3 1203.4 L1766.6 1239.6 L1768 1269.1 L1769 1207.4 L1770.1 1175.3 L1771.4 1169.9 L1772.5 1195.4 L1773.9 1216.8 L1775.2 1203.4 L1776.5 1186 L1777.9 1176.6 L1779.2 1168.6 L1780.6 1172.6 L1781.6 1167.2 L1783 1183.3 L1784.3 1143.1 L1785.7 1118.9 L1787 1156.5 L1788.3 1171.2 L1789.7 1194 L1791 1203.4 L1792.4 1210.1 L1793.7 1228.9 L1795 1246.3 L1796.4 1223.5 L1797.7 1245 L1799.1 1231.6 L1800.4 1220.9 L1801.7 1195.4 L1803.1 1186 L1804.2 1214.1 L1805.5 1242.3 L1806.8 1246.3 L1808.2 1277.2 L1809.2 1297.3 L1811.1 1302.6 L1812.5 1285.2 L1813.8 1293.3 L1814.9 1308 L1816 1263.8 L1817 1207.4 L1818.1 1164.5 L1819.4 1140.4 L1820.8 1121.6 L1821.9 1108.2 L1823.2 1139.1 L1824.5 1148.4 L1826.1 1121.6 L1827.5 1098.8 L1828.8 1084.1 L1830.4 1065.3 L1831.8 1081.4 L1833.1 1049.2 L1834.2 1015.7 L1835.8 1022.4 L1837.1 1041.2 L1838.5 1061.3 L1839.8 1058.6 L1841.2 1065.3 L1842.5 1068 L1843.8 1078.7 L1845.2 1059.9 L1846.8 1054.6 L1848.1 1085.4 L1848.9 1114.9 L1850.3 1096.2 L1851.6 1098.8 L1853 1094.8 L1854.3 1096.2 L1855.6 1108.2 L1857 1118.9 L1858.1 1129.7 L1859.4 1078.7 L1860.7 1027.8 L1862.1 1018.4 L1863.2 1014.4 L1864.5 1062.6 L1865.8 1055.9 L1867.2 1038.5 L1868.5 1030.5 L1869.9 1094.8 L1871.2 1093.5 L1872.5 1055.9 L1873.9 1021.1 L1875.8 1010.3 L1876.8 1089.4 L1877.6 1144.4 L1879 1108.2 L1880.3 1089.4 L1881.4 1081.4 L1882.7 1118.9 L1884.1 1109.6 L1885.4 1117.6 L1886.7 1124.3 L1888.1 1121.6 L1889.4 1141.7 L1890.8 1161.9 L1892.1 1172.6 L1893.5 1267.8 L1894.8 1261.1 L1896.1 1262.4 L1897.5 1298.6 L1898.3 1226.2 L1899.6 1200.7 L1901 1183.3 L1902.3 1200.7 L1903.6 1220.9 L1905 1231.6 L1906.3 1231.6 L1907.7 1228.9 L1909 1208.8 L1910.1 1199.4 L1911.2 1228.9 L1912.5 1245 L1913.6 1291.9 L1914.9 1282.5 L1916.2 1253 L1917.6 1234.3 L1918.9 1224.9 L1920.3 1245 L1921.6 1262.4 L1923 1267.8 L1924.3 1287.9 L1925.6 1247.7 L1926.7 1234.3 L1928 1250.3 L1929.4 1253 L1930.7 1277.2 L1932.3 1293.3 L1933.7 1310.7 L1935.3 1328.1 L1936.9 1314.7 L1938.2 1298.6 L1939.3 1269.1 L1940.7 1245 L1942 1254.4 L1943.3 1255.7 L1944.7 1262.4 L1946 1294.6 L1946.8 1258.4 L1949.1 1271.6 L1949.1 977.9 Z" fill="url(#gOB)" clip-path="url(#cOB)"/>
<path d="M18 1274.3 L18 1228.2 L20.2 1225.5 L22.1 1196 L23.9 1201.4 L25.6 1193.3 L27.4 1217.4 L29.3 1187.9 L30.9 1147.7 L32.8 1153.1 L34.1 1135.7 L36 1201.4 L38.2 1096.8 L40 1131.6 L42.2 1153.1 L44.3 1171.9 L46.7 1230.9 L48.9 1147.7 L50.8 1067.3 L52.9 1040.5 L54.2 1032.4 L56.1 1056.5 L57.7 1040.5 L59.3 1012.3 L61 1045.8 L62.8 1032.4 L65 1027 L66.9 1011 L68.5 996.2 L70.6 1032.4 L72.2 1021.7 L73.8 1019 L75.7 1027 L77.3 1009.6 L79.2 1048.5 L81.1 1110.2 L82.9 1134.3 L84.6 1190.6 L86.4 1115.5 L88.3 1094.1 L89.9 1083.4 L91.8 1114.2 L93.7 1078 L95.3 1088.7 L97.2 1072.6 L99 1064.6 L100.6 1039.1 L102.2 1040.5 L103.9 1120.9 L106 1126.3 L107.9 1134.3 L109.8 1137 L111.4 1153.1 L113.2 1123.6 L115.1 1112.9 L116.7 1147.7 L117.8 1228.2 L118.6 1295.2 L120.5 1217.4 L122.6 1177.2 L124.8 1206.7 L125.8 1217.4 L127.5 1257.7 L128.5 1265.7 L130.1 1271.1 L132 1272.4 L133.4 1252.3 L135 1273.8 L136 1244.3 L137.4 1249.6 L138.7 1206.7 L140.6 1190.6 L142.2 1212.1 L144.1 1193.3 L146 1131.6 L147.6 1099.4 L149.4 1091.4 L151.3 1053.9 L153.5 1024.4 L155.3 1005.6 L157.5 992.2 L160.2 981.5 L162.1 1027 L163.7 989.5 L165 1019 L166.9 1002.9 L168.8 985.5 L170.4 994.9 L172.2 988.2 L174.1 994.9 L175.7 1006.9 L177.1 1040.5 L178.1 1078 L179.8 1048.5 L181.6 1024.4 L183 1039.1 L184.8 1043.1 L187 1053.9 L189.1 1094.1 L191 1147.7 L192.4 1182.6 L194 1193.3 L195.8 1251 L197.7 1192 L199.6 1257.7 L201.2 1201.4 L202.5 1234.9 L204.4 1212.1 L205.8 1163.8 L207.1 1131.6 L209 1137 L210.6 1158.4 L211.9 1163.8 L213.3 1196 L214.6 1225.5 L216 1190.6 L217.8 1201.4 L219.7 1217.4 L221.3 1287.2 L223.2 1228.2 L225.1 1174.5 L226.7 1147.7 L228.6 1133 L230.4 1163.8 L232 1153.1 L233.9 1145 L235.8 1137 L237.7 1120.9 L239.3 1187.9 L241.2 1204 L243.3 1214.8 L244.9 1240.2 L246.5 1147.7 L248.1 1174.5 L250 1201.4 L252.2 1238.9 L254.6 1252.3 L256.7 1281.8 L258.9 1308.6 L260.7 1311.3 L262.6 1319.3 L264.2 1268.4 L266.1 1187.9 L268 1158.4 L269.6 1145 L271.5 1190.6 L274.1 1193.3 L276.8 1202.7 L279 1138.3 L280.9 1209.4 L282.5 1224.1 L284.1 1171.9 L286.2 1177.2 L287.6 1214.8 L288.9 1228.2 L290.2 1255 L292.9 1276.4 L294.8 1280.5 L295.9 1214.8 L298.3 1253.6 L300.4 1201.4 L302.3 1244.3 L304.2 1271.1 L305.8 1305.9 L307.7 1281.8 L309.5 1205.4 L311.7 1218.8 L313.3 1226.8 L314.9 1217.4 L317.1 1137 L318.9 1115.5 L320.5 1102.1 L322.1 1134.3 L323.8 1115.5 L325.9 1145 L328.6 1151.7 L331 1090.1 L333.1 1118.2 L335 1124.9 L337.2 1102.1 L338.8 1095.4 L340.4 1131.6 L342.5 1166.5 L344.4 1171.9 L347.1 1201.4 L349.2 1158.4 L351.1 1171.9 L352.7 1177.2 L354.6 1147.7 L356.5 1137 L358.1 1224.1 L360 1241.6 L361.8 1291.2 L363.4 1292.5 L365.3 1253.6 L366.7 1269.7 L369.3 1257.7 L371.5 1241.6 L372.8 1213.4 L374.7 1281.8 L376.3 1311.3 L377.9 1285.8 L380.1 1293.9 L381.7 1296.6 L383.3 1209.4 L385.4 1208.1 L387 1161.1 L388.7 1206.7 L390.3 1209.4 L392.1 1167.8 L394 1190.6 L395.6 1178.6 L397.5 1120.9 L399.4 1099.4 L401.5 1098.1 L403.1 1131.6 L404.7 1088.7 L406.9 1099.4 L408.8 1104.8 L410 1105.5 L411.3 1121.6 L412.7 1177.9 L414.8 1245 L417.2 1269.1 L419.4 1223.5 L420.7 1253 L422.6 1246.3 L424.2 1253 L426.1 1239.6 L427.4 1196.7 L428.8 1177.9 L430.4 1179.3 L432.3 1199.4 L434.1 1214.1 L436 1223.5 L437.6 1215.5 L439.5 1220.9 L441.4 1186 L443 1191.4 L444.9 1214.1 L446.7 1204.8 L448.3 1223.5 L450 1239.6 L451.6 1202.1 L453.4 1159.2 L455.1 1102.9 L456.9 1073.4 L458.5 1089.4 L460.1 1086.8 L462.6 1131 L464.4 1078.7 L466.3 1035.8 L467.9 1019.7 L469.5 1038.5 L471.1 1057.3 L473 1041.2 L474.9 1068 L476.5 1055.9 L478.7 1086.8 L480.3 1035.8 L482.4 1033.1 L484 1021.1 L485.9 1027.8 L487.2 1073.4 L488.6 1094.8 L489.9 1102.9 L491.3 1148.4 L493.1 1194 L495 1180.6 L497.2 1156.5 L499 1141.7 L500.6 1204.8 L502.5 1218.2 L503.9 1220.9 L506 1253 L507.6 1255.7 L509.2 1245 L511.1 1207.4 L512.4 1208.8 L514.6 1143.1 L516.7 1116.3 L518.1 1186 L519.4 1207.4 L520.8 1218.2 L522.6 1230.2 L524 1227.6 L525.8 1266.4 L527.5 1282.5 L529.3 1309.3 L531.2 1330.8 L532.8 1341.5 L534.2 1342.9 L534.7 1271.8 L536 1294.6 L538.2 1277.2 L540.1 1207.4 L541.7 1147.1 L543.3 1161.9 L545.4 1183.3 L547.3 1215.5 L548.9 1220.9 L550.5 1238.3 L552.7 1198.1 L554.3 1212.8 L556.2 1161.9 L558 1143.1 L559.6 1172.6 L561.5 1187.3 L563.4 1164.5 L565 1151.1 L566.9 1076 L568.8 1076 L570.4 1066.7 L572.2 1094.8 L573.6 1072 L575.7 1102.9 L577.6 1128.3 L578.9 1094.8 L580.8 1051.9 L582.4 1053.2 L583.8 1019.7 L585.4 975.5 L587 958 L588.6 1014.4 L590.2 1017 L591.8 1043.9 L593.7 1065.3 L595.6 1066.7 L597.2 1070.7 L599.1 1051.9 L600.9 1037.2 L602.8 1094.8 L604.4 1092.1 L606.3 1065.3 L607.9 1050.6 L609.8 1073.4 L611.7 1105.5 L613.8 1141.7 L615.4 1137.7 L617 1121.6 L619.2 1089.4 L621 1066.7 L622.7 1078.7 L624.5 1116.3 L626.7 1164.5 L628.6 1202.1 L629.9 1202.1 L632 1163.2 L633.9 1180.6 L635.5 1172.6 L637.4 1199.4 L639.3 1140.4 L641.2 1143.1 L642.8 1121.6 L644.6 1089.4 L646 1113.6 L648.1 1057.3 L650 1033.1 L652.2 1001 L654 987.5 L656.7 974.1 L658.6 1003.6 L660.7 1059.9 L662.6 1019.7 L664.2 1030.5 L666.1 1019.7 L668 998.3 L669.3 992.9 L671.5 1050.6 L673.3 1046.5 L675 1017 L676.8 975.5 L678.2 1019.7 L679 1065.3 L680.3 1054.6 L682.2 1076 L684.1 1078.7 L685.7 1102.9 L687.6 1068 L689.4 1065.3 L691 1061.3 L692.9 1092.1 L694.3 1081.4 L694.8 1149.8 L696.4 1127 L698.3 1145.8 L700.2 1167.2 L701.5 1125.7 L703.6 1127 L705.5 1125.7 L707.1 1132.4 L709 1092.1 L710.9 1089.4 L711.7 1151.1 L713.6 1127 L715.2 1191.4 L716.5 1245 L718.1 1269.1 L720 1224.9 L721.9 1257.1 L723.8 1231.6 L725.6 1258.4 L727.2 1168.6 L729.1 1183.3 L731 1188.7 L732.9 1198.1 L734.8 1177.9 L736.4 1190 L738.2 1151.1 L739.8 1135 L742 1116.3 L743.6 1110.9 L745.2 1153.8 L747.1 1132.4 L749.2 1113.6 L751.1 1102.9 L752.7 1094.8 L754.6 1068 L756.2 1066.7 L758.1 1094.8 L759.7 1068 L761.6 1081.4 L763.4 1081.4 L765.1 1069.3 L766.7 1140.4 L768.5 1141.7 L770.7 1070.7 L772.6 1057.3 L774.2 1076 L775.8 1141.7 L777.7 1176.6 L779.5 1113.6 L781.1 1110.9 L782.8 1143.1 L784.6 1129.7 L786.2 1121.6 L788.1 1137.7 L790 1101.5 L791.9 1148.4 L793.7 1110.9 L795.6 1100.2 L797.5 1086.8 L799.4 1127 L801.3 1153.8 L803.1 1165.9 L805 1116.3 L806.9 1105.5 L808.5 1110.9 L809.8 1057.3 L810 1057.1 L811.5 1048.1 L813.6 1023.9 L816 1005.8 L818.1 992.3 L820 989.3 L821.5 996.8 L823 971.2 L825.1 981.7 L826.6 1023.9 L828.1 1141.6 L829.6 1156.7 L831.7 1174.8 L833.5 1206.5 L835.6 1206.5 L837.2 1171.8 L838.7 1159.7 L840.2 1114.5 L841.4 1111.4 L843.2 1138.6 L844.7 1165.7 L846.2 1176.3 L847.7 1153.7 L849.2 1138.6 L850.7 1135.6 L852.2 1066.2 L854.3 1005.8 L855.3 992.3 L857.4 992.3 L858.9 969.6 L860.7 944.9 L862.5 984.7 L864.3 993.8 L865.8 995.3 L867.9 987.7 L869.4 977.2 L871.2 1058.6 L872.5 1033 L873.4 1030 L874.9 1090.3 L877 1137.1 L878.5 1137.1 L880 1096.4 L881.8 1076.7 L883.3 1105.4 L884.8 1131.1 L886.9 1144.6 L887.8 1165.7 L889.3 1165.7 L891.5 1198.9 L893.6 1220.1 L895.1 1253.2 L896.6 1238.2 L898.1 1250.2 L899.9 1260.8 L902 1224.6 L903.5 1247.2 L905 1208 L906.5 1117.5 L909 1090.3 L911.1 1099.4 L913.2 1105.4 L915 1117.5 L916.5 1126.5 L918 1129.5 L920.1 1099.4 L921.6 1096.4 L923.1 1103.9 L925.2 1087.3 L927.1 1057.7 L928.6 1156.7 L930.1 1143.1 L931.6 1153.7 L933.1 1186.9 L934.6 1220.1 L935.8 1209.5 L937.3 1241.2 L938.8 1257.8 L939.7 1257.8 L941.2 1209.5 L942.7 1212.5 L944.3 1238.2 L946.7 1298.5 L948.8 1274.4 L950.9 1229.1 L952.4 1195.9 L954.2 1150.7 L956 1134.1 L957.8 1174.8 L959.3 1209.5 L960.8 1164.2 L962.4 1170.3 L963.9 1201.9 L966 1244.2 L968.1 1281.9 L969.9 1248.7 L971.7 1280.4 L973.5 1268.3 L975.3 1287.9 L977.4 1226.1 L979.6 1220.1 L981.4 1171.8 L983.2 1084.3 L984.7 1054.1 L985.9 1081.3 L988 1061.7 L989.5 1067.7 L991 1052.6 L992.5 1048.1 L993.1 1052.6 L994.6 1005.8 L996.1 978.7 L997.7 975.7 L998.9 999.8 L1000.7 966.6 L1002.5 977.2 L1004.6 969.6 L1006.1 960.6 L1007.9 966.6 L1009.7 954.6 L1011.5 939.5 L1013.3 931.9 L1015.2 910.8 L1016.7 966.6 L1018.2 959.1 L1020.3 945.5 L1022.1 942.5 L1024.2 942.5 L1026 936.5 L1027.8 889.7 L1029.6 865.6 L1031.1 880.6 L1032.7 910.8 L1033.6 901.8 L1035.1 962.1 L1036.9 945.5 L1038.7 930.4 L1040.5 921.4 L1042.3 915.3 L1044.1 930.4 L1045.6 981.7 L1046.8 1042.1 L1047.7 1097.9 L1049.2 1093.3 L1050.8 1105.4 L1052.3 1081.3 L1053.8 1105.4 L1055.3 1099.4 L1057.4 1099.4 L1059.8 1100.9 L1061 1132.6 L1062.5 1155.2 L1063.7 1161.2 L1065.2 1111.4 L1067 1069.2 L1068.9 1066.2 L1070.7 1051.1 L1072.5 1017.9 L1074.3 992.3 L1076.1 987.7 L1077.9 986.2 L1079.4 1020.9 L1080.9 1048.1 L1082.4 1090.3 L1083.6 1117.5 L1085.4 1096.4 L1087 1066.2 L1088.8 1030 L1090.6 1013.4 L1092.7 986.2 L1094.2 1105.4 L1096 1028.5 L1097.5 1040.5 L1099.3 1045.1 L1101.1 1030 L1102.9 1027 L1104.8 1030 L1106.6 1019.4 L1108.7 1011.9 L1110.2 1033 L1112.3 1002.8 L1114.1 1031.5 L1115.9 1090.3 L1117.7 1036 L1119.5 1013.4 L1121.3 1033 L1123.2 1028.5 L1124.7 1016.4 L1126.5 1013.4 L1128.3 1090.3 L1130.1 1137.1 L1131.9 1129.5 L1133.7 1081.3 L1135.5 1043.6 L1137.3 1084.3 L1138.8 1072.2 L1140.7 1085.8 L1142.5 1066.2 L1144.3 1048.1 L1146.1 1084.3 L1147.3 1102.4 L1148.8 1078.3 L1150.3 1123.5 L1152.1 1084.3 L1153.9 1072.2 L1155.7 1060.2 L1157.6 1126.5 L1159.1 1134.1 L1160.6 1174.8 L1162.4 1192.9 L1164.5 1205 L1166.6 1217 L1168.1 1232.1 L1169.9 1183.8 L1171.4 1123.5 L1172.9 1122 L1175.1 1171.8 L1176.9 1116 L1178.7 1141.6 L1180.5 1159.7 L1182.3 1156.7 L1184.1 1120.5 L1185.9 1076.7 L1187.7 1073.7 L1189.5 1091.8 L1191.3 1070.7 L1193.2 1066.2 L1195.3 1030 L1197.1 990.8 L1198.9 1037.5 L1200.7 1057.1 L1202.2 1051.1 L1204 1045.1 L1205.8 1063.2 L1207.6 1108.4 L1209.1 1067.7 L1210 1070.7 L1211.1 1148.4 L1212.7 1113.6 L1214.6 1102.9 L1216.7 1098.8 L1218.3 1113.6 L1219.9 1084.1 L1221.5 1108.2 L1222.9 1135 L1224.2 1172.6 L1225.6 1116.3 L1226.9 1105.5 L1228.2 1137.7 L1229.6 1153.8 L1231.2 1164.5 L1232.8 1148.4 L1234.7 1135 L1236.3 1120.3 L1237.6 1159.2 L1239 1199.4 L1240.3 1245 L1241.6 1267.8 L1242.7 1273.1 L1244.3 1261.1 L1246.2 1251.7 L1247.5 1255.7 L1249.2 1218.2 L1251 1207.4 L1252.6 1186 L1254.2 1203.4 L1256.1 1223.5 L1257.2 1153.8 L1258.5 1116.3 L1259.9 1086.8 L1261.5 1089.4 L1262.8 1070.7 L1263.9 1057.3 L1265.5 1084.1 L1267.1 1092.1 L1268.7 1102.9 L1270.1 1081.4 L1271.1 1059.9 L1272.5 1077.4 L1273.6 1116.3 L1274.9 1094.8 L1276.2 1078.7 L1277.8 1084.1 L1279.5 1073.4 L1280.8 1062.6 L1281.9 1051.9 L1283.2 1092.1 L1284.3 1153.8 L1285.6 1218.2 L1287 1270.5 L1288.6 1255.7 L1289.9 1220.9 L1291.3 1196.7 L1292.6 1180.6 L1294.2 1186 L1295.8 1151.1 L1297.4 1124.3 L1299 1100.2 L1300.4 1086.8 L1302 1077.4 L1303.3 1062.6 L1304.7 1073.4 L1306 1064 L1307.3 1041.2 L1308.7 1025.1 L1310.3 1029.1 L1311.9 1027.8 L1313.2 1043.9 L1314.6 1059.9 L1316.2 1059.9 L1317.5 1042.5 L1318.9 1110.9 L1320.2 1151.1 L1321.6 1135 L1323.2 1175.3 L1324.5 1135 L1325.8 1132.4 L1327.2 1127 L1328.8 1089.4 L1330.1 1057.3 L1331.5 1033.1 L1332.8 1007.7 L1334.2 996.9 L1335.8 979.5 L1337.4 962.1 L1338.7 984.9 L1340.1 1002.3 L1341.4 1014.4 L1343 1011.7 L1344.1 1033.1 L1345.4 1057.3 L1346.5 1019.7 L1348.4 1021.1 L1349.7 1035.8 L1351.3 1081.4 L1352.9 1096.2 L1354.3 1094.8 L1355.6 1053.2 L1357 1076 L1358.3 1096.2 L1360.2 1094.8 L1361.5 1096.2 L1362.9 1104.2 L1364.2 1065.3 L1365.8 1066.7 L1367.1 1072 L1368 1086.8 L1369 1035.8 L1370.4 1018.4 L1371.7 1011.7 L1373 1038.5 L1374.7 1059.9 L1376.3 1086.8 L1377.1 1127 L1378.4 1097.5 L1379.8 1113.6 L1381.1 1096.2 L1382.4 1078.7 L1383.8 1096.2 L1385.1 1145.8 L1386.5 1159.2 L1388.1 1169.9 L1389.7 1177.9 L1391.3 1153.8 L1392.6 1100.2 L1393.7 1053.2 L1395 1043.9 L1396.6 1035.8 L1398 1021.1 L1399.1 1005 L1399.9 1078.7 L1400.7 1125.7 L1402 1106.9 L1403.3 1118.9 L1405 1105.5 L1406.6 1096.2 L1407.9 1085.4 L1409.2 1082.7 L1410.6 1065.3 L1411.9 1043.9 L1413.5 1023.7 L1414.9 1014.4 L1416.5 1041.2 L1418.1 1017 L1419.7 1033.1 L1421 1045.2 L1422.4 1051.9 L1424 1043.9 L1425.3 1034.5 L1426.7 1033.1 L1428 1043.9 L1429.4 1078.7 L1431 1084.1 L1432.3 1042.5 L1433.7 1105.5 L1434.7 1123 L1436.1 1117.6 L1437.4 1145.8 L1438.7 1199.4 L1440.1 1253 L1441.4 1259.7 L1442.8 1234.3 L1443.8 1231.6 L1445.5 1266.4 L1447.1 1220.9 L1448.9 1192.7 L1450.5 1226.2 L1452.2 1218.2 L1453.8 1211.5 L1455.1 1191.4 L1456.4 1169.9 L1458.1 1152.5 L1459.4 1183.3 L1460.7 1194 L1461.8 1192.7 L1463.4 1231.6 L1465 1250.3 L1466.4 1169.9 L1467.7 1127 L1469.1 1100.2 L1470.7 1086.8 L1472 1038.5 L1474.1 1034.5 L1476 999.6 L1477.4 1009 L1478.7 1038.5 L1480 1062.6 L1481.7 1038.5 L1483 1054.6 L1484.6 1038.5 L1485.9 1055.9 L1487.3 1089.4 L1488.6 1076 L1490.2 1058.6 L1491.6 1068 L1492.9 1084.1 L1494.3 1108.2 L1495.6 1112.2 L1496.7 1129.7 L1498 1135 L1499.4 1108.2 L1500.7 1078.7 L1502 1066.7 L1503.4 1058.6 L1504.4 1085.4 L1505.8 1108.2 L1507.1 1116.3 L1508.5 1143.1 L1509.8 1182 L1511.4 1156.5 L1513 1191.4 L1514.1 1211.5 L1515.4 1177.9 L1516.8 1188.7 L1518.1 1218.2 L1519.2 1238.3 L1520.5 1200.7 L1521.9 1226.2 L1523 1246.3 L1524.3 1215.5 L1525.6 1239.6 L1526.7 1271.8 L1528 1243.6 L1529.4 1274.5 L1530.7 1245 L1532.1 1204.8 L1533.4 1186 L1534.5 1163.2 L1535.8 1173.9 L1537.2 1161.9 L1538.5 1147.1 L1540.1 1156.5 L1541.5 1164.5 L1542.8 1135 L1544.4 1114.9 L1545.7 1153.8 L1547.1 1175.3 L1548.4 1200.7 L1550 1222.2 L1551.4 1191.4 L1552.7 1164.5 L1553.8 1157.8 L1555.1 1212.8 L1556.2 1279.8 L1557.5 1320.1 L1559.2 1333.5 L1560.5 1338.8 L1561 1266.4 L1561.6 1182 L1562.6 1207.4 L1564 1191.4 L1565.6 1176.6 L1566.9 1168.6 L1568 1161.9 L1569.3 1173.9 L1570.7 1177.9 L1572 1164.5 L1573.4 1186 L1574.7 1153.8 L1576 1124.3 L1577.1 1100.2 L1578.7 1098.8 L1580.6 1086.8 L1582.2 1092.1 L1584.1 1098.8 L1586 1106.9 L1587.6 1076 L1589.5 1081.4 L1591.3 1089.4 L1592.9 1072 L1594.8 1057.3 L1596.4 1022.4 L1598 1007.7 L1600.2 1009 L1602.3 1019.7 L1604.2 1010.3 L1606.1 1006.3 L1607.7 1030.5 L1609 1070.7 L1610 1070.7 L1611.3 1102.9 L1612.7 1055.9 L1614.3 1077.4 L1615.9 1069.3 L1617.5 1081.4 L1619.4 1082.7 L1621.3 1084.1 L1622.9 1072 L1624.2 1068 L1625.6 1034.5 L1627.2 1026.4 L1628.8 1018.4 L1630.4 1029.1 L1632 1022.4 L1633.3 1068 L1634.7 1129.7 L1636 1108.2 L1637.9 1156.5 L1639.5 1128.3 L1640.8 1135 L1641.9 1184.6 L1643.3 1116.3 L1644.9 1110.9 L1646.2 1068 L1647.5 1043.9 L1648.9 1033.1 L1650.2 1034.5 L1651.6 1030.5 L1652.9 1026.4 L1654.2 1017 L1655.9 1006.3 L1657.5 1049.2 L1658.8 1014.4 L1660.1 990.2 L1661.5 978.2 L1662.8 976.8 L1664.4 1009 L1665.5 1010.3 L1666.9 1073.4 L1668.2 1027.8 L1669.5 1003.6 L1670.9 992.9 L1672.2 1007.7 L1673.6 1001 L1674.9 983.5 L1676.2 978.2 L1677.6 1006.3 L1678.9 1019.7 L1680.3 1051.9 L1681.6 1081.4 L1682.9 1100.2 L1684.6 1127 L1686.4 1156.5 L1688.3 1184.6 L1689.9 1149.8 L1691.5 1121.6 L1692.9 1106.9 L1694.2 1104.2 L1695.5 1081.4 L1696.9 1084.1 L1698.2 1062.6 L1699.8 1047.9 L1701.4 1039.8 L1703.1 1047.9 L1704.4 1061.3 L1705.7 1089.4 L1707.1 1121.6 L1708.7 1141.7 L1710 1149.8 L1711.4 1096.2 L1712.2 1062.6 L1713.5 1105.5 L1715.1 1092.1 L1716.7 1089.4 L1718.3 1086.8 L1719.9 1086.8 L1721 1151.1 L1722.6 1175.3 L1724 1153.8 L1725.3 1135 L1726.7 1137.7 L1728 1121.6 L1729.9 1157.8 L1731.2 1116.3 L1732.6 1073.4 L1733.6 1049.2 L1735 1078.7 L1736.3 1081.4 L1737.6 1102.9 L1739 1101.5 L1740.1 1068 L1740.9 1046.5 L1742.2 1076 L1743.5 1102.9 L1744.6 1128.3 L1746.2 1135 L1747.3 1177.9 L1748.1 1207.4 L1749.4 1219.5 L1750.8 1207.4 L1752.1 1191.4 L1753.5 1180.6 L1755.1 1222.2 L1756.4 1203.4 L1757.5 1177.9 L1758.6 1164.5 L1759.9 1157.8 L1761.2 1176.6 L1762.6 1194 L1763.9 1192.7 L1765.3 1203.4 L1766.6 1239.6 L1768 1269.1 L1769 1207.4 L1770.1 1175.3 L1771.4 1169.9 L1772.5 1195.4 L1773.9 1216.8 L1775.2 1203.4 L1776.5 1186 L1777.9 1176.6 L1779.2 1168.6 L1780.6 1172.6 L1781.6 1167.2 L1783 1183.3 L1784.3 1143.1 L1785.7 1118.9 L1787 1156.5 L1788.3 1171.2 L1789.7 1194 L1791 1203.4 L1792.4 1210.1 L1793.7 1228.9 L1795 1246.3 L1796.4 1223.5 L1797.7 1245 L1799.1 1231.6 L1800.4 1220.9 L1801.7 1195.4 L1803.1 1186 L1804.2 1214.1 L1805.5 1242.3 L1806.8 1246.3 L1808.2 1277.2 L1809.2 1297.3 L1811.1 1302.6 L1812.5 1285.2 L1813.8 1293.3 L1814.9 1308 L1816 1263.8 L1817 1207.4 L1818.1 1164.5 L1819.4 1140.4 L1820.8 1121.6 L1821.9 1108.2 L1823.2 1139.1 L1824.5 1148.4 L1826.1 1121.6 L1827.5 1098.8 L1828.8 1084.1 L1830.4 1065.3 L1831.8 1081.4 L1833.1 1049.2 L1834.2 1015.7 L1835.8 1022.4 L1837.1 1041.2 L1838.5 1061.3 L1839.8 1058.6 L1841.2 1065.3 L1842.5 1068 L1843.8 1078.7 L1845.2 1059.9 L1846.8 1054.6 L1848.1 1085.4 L1848.9 1114.9 L1850.3 1096.2 L1851.6 1098.8 L1853 1094.8 L1854.3 1096.2 L1855.6 1108.2 L1857 1118.9 L1858.1 1129.7 L1859.4 1078.7 L1860.7 1027.8 L1862.1 1018.4 L1863.2 1014.4 L1864.5 1062.6 L1865.8 1055.9 L1867.2 1038.5 L1868.5 1030.5 L1869.9 1094.8 L1871.2 1093.5 L1872.5 1055.9 L1873.9 1021.1 L1875.8 1010.3 L1876.8 1089.4 L1877.6 1144.4 L1879 1108.2 L1880.3 1089.4 L1881.4 1081.4 L1882.7 1118.9 L1884.1 1109.6 L1885.4 1117.6 L1886.7 1124.3 L1888.1 1121.6 L1889.4 1141.7 L1890.8 1161.9 L1892.1 1172.6 L1893.5 1267.8 L1894.8 1261.1 L1896.1 1262.4 L1897.5 1298.6 L1898.3 1226.2 L1899.6 1200.7 L1901 1183.3 L1902.3 1200.7 L1903.6 1220.9 L1905 1231.6 L1906.3 1231.6 L1907.7 1228.9 L1909 1208.8 L1910.1 1199.4 L1911.2 1228.9 L1912.5 1245 L1913.6 1291.9 L1914.9 1282.5 L1916.2 1253 L1917.6 1234.3 L1918.9 1224.9 L1920.3 1245 L1921.6 1262.4 L1923 1267.8 L1924.3 1287.9 L1925.6 1247.7 L1926.7 1234.3 L1928 1250.3 L1929.4 1253 L1930.7 1277.2 L1932.3 1293.3 L1933.7 1310.7 L1935.3 1328.1 L1936.9 1314.7 L1938.2 1298.6 L1939.3 1269.1 L1940.7 1245 L1942 1254.4 L1943.3 1255.7 L1944.7 1262.4 L1946 1294.6 L1946.8 1258.4 L1949.1 1271.6 L1949.1 1274.3 Z" fill="url(#gOS)" clip-path="url(#cOS)"/>
<path d="M18 1228.2 L20.2 1225.5 L22.1 1196 L23.9 1201.4 L25.6 1193.3 L27.4 1217.4 L29.3 1187.9 L30.9 1147.7 L32.8 1153.1 L34.1 1135.7 L36 1201.4 L38.2 1096.8 L40 1131.6 L42.2 1153.1 L44.3 1171.9 L46.7 1230.9 L48.9 1147.7 L50.8 1067.3 L52.9 1040.5 L54.2 1032.4 L56.1 1056.5 L57.7 1040.5 L59.3 1012.3 L61 1045.8 L62.8 1032.4 L65 1027 L66.9 1011 L68.5 996.2 L70.6 1032.4 L72.2 1021.7 L73.8 1019 L75.7 1027 L77.3 1009.6 L79.2 1048.5 L81.1 1110.2 L82.9 1134.3 L84.6 1190.6 L86.4 1115.5 L88.3 1094.1 L89.9 1083.4 L91.8 1114.2 L93.7 1078 L95.3 1088.7 L97.2 1072.6 L99 1064.6 L100.6 1039.1 L102.2 1040.5 L103.9 1120.9 L106 1126.3 L107.9 1134.3 L109.8 1137 L111.4 1153.1 L113.2 1123.6 L115.1 1112.9 L116.7 1147.7 L117.8 1228.2 L118.6 1295.2 L120.5 1217.4 L122.6 1177.2 L124.8 1206.7 L125.8 1217.4 L127.5 1257.7 L128.5 1265.7 L130.1 1271.1 L132 1272.4 L133.4 1252.3 L135 1273.8 L136 1244.3 L137.4 1249.6 L138.7 1206.7 L140.6 1190.6 L142.2 1212.1 L144.1 1193.3 L146 1131.6 L147.6 1099.4 L149.4 1091.4 L151.3 1053.9 L153.5 1024.4 L155.3 1005.6 L157.5 992.2 L160.2 981.5 L162.1 1027 L163.7 989.5 L165 1019 L166.9 1002.9 L168.8 985.5 L170.4 994.9 L172.2 988.2 L174.1 994.9 L175.7 1006.9 L177.1 1040.5 L178.1 1078 L179.8 1048.5 L181.6 1024.4 L183 1039.1 L184.8 1043.1 L187 1053.9 L189.1 1094.1 L191 1147.7 L192.4 1182.6 L194 1193.3 L195.8 1251 L197.7 1192 L199.6 1257.7 L201.2 1201.4 L202.5 1234.9 L204.4 1212.1 L205.8 1163.8 L207.1 1131.6 L209 1137 L210.6 1158.4 L211.9 1163.8 L213.3 1196 L214.6 1225.5 L216 1190.6 L217.8 1201.4 L219.7 1217.4 L221.3 1287.2 L223.2 1228.2 L225.1 1174.5 L226.7 1147.7 L228.6 1133 L230.4 1163.8 L232 1153.1 L233.9 1145 L235.8 1137 L237.7 1120.9 L239.3 1187.9 L241.2 1204 L243.3 1214.8 L244.9 1240.2 L246.5 1147.7 L248.1 1174.5 L250 1201.4 L252.2 1238.9 L254.6 1252.3 L256.7 1281.8 L258.9 1308.6 L260.7 1311.3 L262.6 1319.3 L264.2 1268.4 L266.1 1187.9 L268 1158.4 L269.6 1145 L271.5 1190.6 L274.1 1193.3 L276.8 1202.7 L279 1138.3 L280.9 1209.4 L282.5 1224.1 L284.1 1171.9 L286.2 1177.2 L287.6 1214.8 L288.9 1228.2 L290.2 1255 L292.9 1276.4 L294.8 1280.5 L295.9 1214.8 L298.3 1253.6 L300.4 1201.4 L302.3 1244.3 L304.2 1271.1 L305.8 1305.9 L307.7 1281.8 L309.5 1205.4 L311.7 1218.8 L313.3 1226.8 L314.9 1217.4 L317.1 1137 L318.9 1115.5 L320.5 1102.1 L322.1 1134.3 L323.8 1115.5 L325.9 1145 L328.6 1151.7 L331 1090.1 L333.1 1118.2 L335 1124.9 L337.2 1102.1 L338.8 1095.4 L340.4 1131.6 L342.5 1166.5 L344.4 1171.9 L347.1 1201.4 L349.2 1158.4 L351.1 1171.9 L352.7 1177.2 L354.6 1147.7 L356.5 1137 L358.1 1224.1 L360 1241.6 L361.8 1291.2 L363.4 1292.5 L365.3 1253.6 L366.7 1269.7 L369.3 1257.7 L371.5 1241.6 L372.8 1213.4 L374.7 1281.8 L376.3 1311.3 L377.9 1285.8 L380.1 1293.9 L381.7 1296.6 L383.3 1209.4 L385.4 1208.1 L387 1161.1 L388.7 1206.7 L390.3 1209.4 L392.1 1167.8 L394 1190.6 L395.6 1178.6 L397.5 1120.9 L399.4 1099.4 L401.5 1098.1 L403.1 1131.6 L404.7 1088.7 L406.9 1099.4 L408.8 1104.8 L410 1105.5 L411.3 1121.6 L412.7 1177.9 L414.8 1245 L417.2 1269.1 L419.4 1223.5 L420.7 1253 L422.6 1246.3 L424.2 1253 L426.1 1239.6 L427.4 1196.7 L428.8 1177.9 L430.4 1179.3 L432.3 1199.4 L434.1 1214.1 L436 1223.5 L437.6 1215.5 L439.5 1220.9 L441.4 1186 L443 1191.4 L444.9 1214.1 L446.7 1204.8 L448.3 1223.5 L450 1239.6 L451.6 1202.1 L453.4 1159.2 L455.1 1102.9 L456.9 1073.4 L458.5 1089.4 L460.1 1086.8 L462.6 1131 L464.4 1078.7 L466.3 1035.8 L467.9 1019.7 L469.5 1038.5 L471.1 1057.3 L473 1041.2 L474.9 1068 L476.5 1055.9 L478.7 1086.8 L480.3 1035.8 L482.4 1033.1 L484 1021.1 L485.9 1027.8 L487.2 1073.4 L488.6 1094.8 L489.9 1102.9 L491.3 1148.4 L493.1 1194 L495 1180.6 L497.2 1156.5 L499 1141.7 L500.6 1204.8 L502.5 1218.2 L503.9 1220.9 L506 1253 L507.6 1255.7 L509.2 1245 L511.1 1207.4 L512.4 1208.8 L514.6 1143.1 L516.7 1116.3 L518.1 1186 L519.4 1207.4 L520.8 1218.2 L522.6 1230.2 L524 1227.6 L525.8 1266.4 L527.5 1282.5 L529.3 1309.3 L531.2 1330.8 L532.8 1341.5 L534.2 1342.9 L534.7 1271.8 L536 1294.6 L538.2 1277.2 L540.1 1207.4 L541.7 1147.1 L543.3 1161.9 L545.4 1183.3 L547.3 1215.5 L548.9 1220.9 L550.5 1238.3 L552.7 1198.1 L554.3 1212.8 L556.2 1161.9 L558 1143.1 L559.6 1172.6 L561.5 1187.3 L563.4 1164.5 L565 1151.1 L566.9 1076 L568.8 1076 L570.4 1066.7 L572.2 1094.8 L573.6 1072 L575.7 1102.9 L577.6 1128.3 L578.9 1094.8 L580.8 1051.9 L582.4 1053.2 L583.8 1019.7 L585.4 975.5 L587 958 L588.6 1014.4 L590.2 1017 L591.8 1043.9 L593.7 1065.3 L595.6 1066.7 L597.2 1070.7 L599.1 1051.9 L600.9 1037.2 L602.8 1094.8 L604.4 1092.1 L606.3 1065.3 L607.9 1050.6 L609.8 1073.4 L611.7 1105.5 L613.8 1141.7 L615.4 1137.7 L617 1121.6 L619.2 1089.4 L621 1066.7 L622.7 1078.7 L624.5 1116.3 L626.7 1164.5 L628.6 1202.1 L629.9 1202.1 L632 1163.2 L633.9 1180.6 L635.5 1172.6 L637.4 1199.4 L639.3 1140.4 L641.2 1143.1 L642.8 1121.6 L644.6 1089.4 L646 1113.6 L648.1 1057.3 L650 1033.1 L652.2 1001 L654 987.5 L656.7 974.1 L658.6 1003.6 L660.7 1059.9 L662.6 1019.7 L664.2 1030.5 L666.1 1019.7 L668 998.3 L669.3 992.9 L671.5 1050.6 L673.3 1046.5 L675 1017 L676.8 975.5 L678.2 1019.7 L679 1065.3 L680.3 1054.6 L682.2 1076 L684.1 1078.7 L685.7 1102.9 L687.6 1068 L689.4 1065.3 L691 1061.3 L692.9 1092.1 L694.3 1081.4 L694.8 1149.8 L696.4 1127 L698.3 1145.8 L700.2 1167.2 L701.5 1125.7 L703.6 1127 L705.5 1125.7 L707.1 1132.4 L709 1092.1 L710.9 1089.4 L711.7 1151.1 L713.6 1127 L715.2 1191.4 L716.5 1245 L718.1 1269.1 L720 1224.9 L721.9 1257.1 L723.8 1231.6 L725.6 1258.4 L727.2 1168.6 L729.1 1183.3 L731 1188.7 L732.9 1198.1 L734.8 1177.9 L736.4 1190 L738.2 1151.1 L739.8 1135 L742 1116.3 L743.6 1110.9 L745.2 1153.8 L747.1 1132.4 L749.2 1113.6 L751.1 1102.9 L752.7 1094.8 L754.6 1068 L756.2 1066.7 L758.1 1094.8 L759.7 1068 L761.6 1081.4 L763.4 1081.4 L765.1 1069.3 L766.7 1140.4 L768.5 1141.7 L770.7 1070.7 L772.6 1057.3 L774.2 1076 L775.8 1141.7 L777.7 1176.6 L779.5 1113.6 L781.1 1110.9 L782.8 1143.1 L784.6 1129.7 L786.2 1121.6 L788.1 1137.7 L790 1101.5 L791.9 1148.4 L793.7 1110.9 L795.6 1100.2 L797.5 1086.8 L799.4 1127 L801.3 1153.8 L803.1 1165.9 L805 1116.3 L806.9 1105.5 L808.5 1110.9 L809.8 1057.3 L810 1057.1 L811.5 1048.1 L813.6 1023.9 L816 1005.8 L818.1 992.3 L820 989.3 L821.5 996.8 L823 971.2 L825.1 981.7 L826.6 1023.9 L828.1 1141.6 L829.6 1156.7 L831.7 1174.8 L833.5 1206.5 L835.6 1206.5 L837.2 1171.8 L838.7 1159.7 L840.2 1114.5 L841.4 1111.4 L843.2 1138.6 L844.7 1165.7 L846.2 1176.3 L847.7 1153.7 L849.2 1138.6 L850.7 1135.6 L852.2 1066.2 L854.3 1005.8 L855.3 992.3 L857.4 992.3 L858.9 969.6 L860.7 944.9 L862.5 984.7 L864.3 993.8 L865.8 995.3 L867.9 987.7 L869.4 977.2 L871.2 1058.6 L872.5 1033 L873.4 1030 L874.9 1090.3 L877 1137.1 L878.5 1137.1 L880 1096.4 L881.8 1076.7 L883.3 1105.4 L884.8 1131.1 L886.9 1144.6 L887.8 1165.7 L889.3 1165.7 L891.5 1198.9 L893.6 1220.1 L895.1 1253.2 L896.6 1238.2 L898.1 1250.2 L899.9 1260.8 L902 1224.6 L903.5 1247.2 L905 1208 L906.5 1117.5 L909 1090.3 L911.1 1099.4 L913.2 1105.4 L915 1117.5 L916.5 1126.5 L918 1129.5 L920.1 1099.4 L921.6 1096.4 L923.1 1103.9 L925.2 1087.3 L927.1 1057.7 L928.6 1156.7 L930.1 1143.1 L931.6 1153.7 L933.1 1186.9 L934.6 1220.1 L935.8 1209.5 L937.3 1241.2 L938.8 1257.8 L939.7 1257.8 L941.2 1209.5 L942.7 1212.5 L944.3 1238.2 L946.7 1298.5 L948.8 1274.4 L950.9 1229.1 L952.4 1195.9 L954.2 1150.7 L956 1134.1 L957.8 1174.8 L959.3 1209.5 L960.8 1164.2 L962.4 1170.3 L963.9 1201.9 L966 1244.2 L968.1 1281.9 L969.9 1248.7 L971.7 1280.4 L973.5 1268.3 L975.3 1287.9 L977.4 1226.1 L979.6 1220.1 L981.4 1171.8 L983.2 1084.3 L984.7 1054.1 L985.9 1081.3 L988 1061.7 L989.5 1067.7 L991 1052.6 L992.5 1048.1 L993.1 1052.6 L994.6 1005.8 L996.1 978.7 L997.7 975.7 L998.9 999.8 L1000.7 966.6 L1002.5 977.2 L1004.6 969.6 L1006.1 960.6 L1007.9 966.6 L1009.7 954.6 L1011.5 939.5 L1013.3 931.9 L1015.2 910.8 L1016.7 966.6 L1018.2 959.1 L1020.3 945.5 L1022.1 942.5 L1024.2 942.5 L1026 936.5 L1027.8 889.7 L1029.6 865.6 L1031.1 880.6 L1032.7 910.8 L1033.6 901.8 L1035.1 962.1 L1036.9 945.5 L1038.7 930.4 L1040.5 921.4 L1042.3 915.3 L1044.1 930.4 L1045.6 981.7 L1046.8 1042.1 L1047.7 1097.9 L1049.2 1093.3 L1050.8 1105.4 L1052.3 1081.3 L1053.8 1105.4 L1055.3 1099.4 L1057.4 1099.4 L1059.8 1100.9 L1061 1132.6 L1062.5 1155.2 L1063.7 1161.2 L1065.2 1111.4 L1067 1069.2 L1068.9 1066.2 L1070.7 1051.1 L1072.5 1017.9 L1074.3 992.3 L1076.1 987.7 L1077.9 986.2 L1079.4 1020.9 L1080.9 1048.1 L1082.4 1090.3 L1083.6 1117.5 L1085.4 1096.4 L1087 1066.2 L1088.8 1030 L1090.6 1013.4 L1092.7 986.2 L1094.2 1105.4 L1096 1028.5 L1097.5 1040.5 L1099.3 1045.1 L1101.1 1030 L1102.9 1027 L1104.8 1030 L1106.6 1019.4 L1108.7 1011.9 L1110.2 1033 L1112.3 1002.8 L1114.1 1031.5 L1115.9 1090.3 L1117.7 1036 L1119.5 1013.4 L1121.3 1033 L1123.2 1028.5 L1124.7 1016.4 L1126.5 1013.4 L1128.3 1090.3 L1130.1 1137.1 L1131.9 1129.5 L1133.7 1081.3 L1135.5 1043.6 L1137.3 1084.3 L1138.8 1072.2 L1140.7 1085.8 L1142.5 1066.2 L1144.3 1048.1 L1146.1 1084.3 L1147.3 1102.4 L1148.8 1078.3 L1150.3 1123.5 L1152.1 1084.3 L1153.9 1072.2 L1155.7 1060.2 L1157.6 1126.5 L1159.1 1134.1 L1160.6 1174.8 L1162.4 1192.9 L1164.5 1205 L1166.6 1217 L1168.1 1232.1 L1169.9 1183.8 L1171.4 1123.5 L1172.9 1122 L1175.1 1171.8 L1176.9 1116 L1178.7 1141.6 L1180.5 1159.7 L1182.3 1156.7 L1184.1 1120.5 L1185.9 1076.7 L1187.7 1073.7 L1189.5 1091.8 L1191.3 1070.7 L1193.2 1066.2 L1195.3 1030 L1197.1 990.8 L1198.9 1037.5 L1200.7 1057.1 L1202.2 1051.1 L1204 1045.1 L1205.8 1063.2 L1207.6 1108.4 L1209.1 1067.7 L1210 1070.7 L1211.1 1148.4 L1212.7 1113.6 L1214.6 1102.9 L1216.7 1098.8 L1218.3 1113.6 L1219.9 1084.1 L1221.5 1108.2 L1222.9 1135 L1224.2 1172.6 L1225.6 1116.3 L1226.9 1105.5 L1228.2 1137.7 L1229.6 1153.8 L1231.2 1164.5 L1232.8 1148.4 L1234.7 1135 L1236.3 1120.3 L1237.6 1159.2 L1239 1199.4 L1240.3 1245 L1241.6 1267.8 L1242.7 1273.1 L1244.3 1261.1 L1246.2 1251.7 L1247.5 1255.7 L1249.2 1218.2 L1251 1207.4 L1252.6 1186 L1254.2 1203.4 L1256.1 1223.5 L1257.2 1153.8 L1258.5 1116.3 L1259.9 1086.8 L1261.5 1089.4 L1262.8 1070.7 L1263.9 1057.3 L1265.5 1084.1 L1267.1 1092.1 L1268.7 1102.9 L1270.1 1081.4 L1271.1 1059.9 L1272.5 1077.4 L1273.6 1116.3 L1274.9 1094.8 L1276.2 1078.7 L1277.8 1084.1 L1279.5 1073.4 L1280.8 1062.6 L1281.9 1051.9 L1283.2 1092.1 L1284.3 1153.8 L1285.6 1218.2 L1287 1270.5 L1288.6 1255.7 L1289.9 1220.9 L1291.3 1196.7 L1292.6 1180.6 L1294.2 1186 L1295.8 1151.1 L1297.4 1124.3 L1299 1100.2 L1300.4 1086.8 L1302 1077.4 L1303.3 1062.6 L1304.7 1073.4 L1306 1064 L1307.3 1041.2 L1308.7 1025.1 L1310.3 1029.1 L1311.9 1027.8 L1313.2 1043.9 L1314.6 1059.9 L1316.2 1059.9 L1317.5 1042.5 L1318.9 1110.9 L1320.2 1151.1 L1321.6 1135 L1323.2 1175.3 L1324.5 1135 L1325.8 1132.4 L1327.2 1127 L1328.8 1089.4 L1330.1 1057.3 L1331.5 1033.1 L1332.8 1007.7 L1334.2 996.9 L1335.8 979.5 L1337.4 962.1 L1338.7 984.9 L1340.1 1002.3 L1341.4 1014.4 L1343 1011.7 L1344.1 1033.1 L1345.4 1057.3 L1346.5 1019.7 L1348.4 1021.1 L1349.7 1035.8 L1351.3 1081.4 L1352.9 1096.2 L1354.3 1094.8 L1355.6 1053.2 L1357 1076 L1358.3 1096.2 L1360.2 1094.8 L1361.5 1096.2 L1362.9 1104.2 L1364.2 1065.3 L1365.8 1066.7 L1367.1 1072 L1368 1086.8 L1369 1035.8 L1370.4 1018.4 L1371.7 1011.7 L1373 1038.5 L1374.7 1059.9 L1376.3 1086.8 L1377.1 1127 L1378.4 1097.5 L1379.8 1113.6 L1381.1 1096.2 L1382.4 1078.7 L1383.8 1096.2 L1385.1 1145.8 L1386.5 1159.2 L1388.1 1169.9 L1389.7 1177.9 L1391.3 1153.8 L1392.6 1100.2 L1393.7 1053.2 L1395 1043.9 L1396.6 1035.8 L1398 1021.1 L1399.1 1005 L1399.9 1078.7 L1400.7 1125.7 L1402 1106.9 L1403.3 1118.9 L1405 1105.5 L1406.6 1096.2 L1407.9 1085.4 L1409.2 1082.7 L1410.6 1065.3 L1411.9 1043.9 L1413.5 1023.7 L1414.9 1014.4 L1416.5 1041.2 L1418.1 1017 L1419.7 1033.1 L1421 1045.2 L1422.4 1051.9 L1424 1043.9 L1425.3 1034.5 L1426.7 1033.1 L1428 1043.9 L1429.4 1078.7 L1431 1084.1 L1432.3 1042.5 L1433.7 1105.5 L1434.7 1123 L1436.1 1117.6 L1437.4 1145.8 L1438.7 1199.4 L1440.1 1253 L1441.4 1259.7 L1442.8 1234.3 L1443.8 1231.6 L1445.5 1266.4 L1447.1 1220.9 L1448.9 1192.7 L1450.5 1226.2 L1452.2 1218.2 L1453.8 1211.5 L1455.1 1191.4 L1456.4 1169.9 L1458.1 1152.5 L1459.4 1183.3 L1460.7 1194 L1461.8 1192.7 L1463.4 1231.6 L1465 1250.3 L1466.4 1169.9 L1467.7 1127 L1469.1 1100.2 L1470.7 1086.8 L1472 1038.5 L1474.1 1034.5 L1476 999.6 L1477.4 1009 L1478.7 1038.5 L1480 1062.6 L1481.7 1038.5 L1483 1054.6 L1484.6 1038.5 L1485.9 1055.9 L1487.3 1089.4 L1488.6 1076 L1490.2 1058.6 L1491.6 1068 L1492.9 1084.1 L1494.3 1108.2 L1495.6 1112.2 L1496.7 1129.7 L1498 1135 L1499.4 1108.2 L1500.7 1078.7 L1502 1066.7 L1503.4 1058.6 L1504.4 1085.4 L1505.8 1108.2 L1507.1 1116.3 L1508.5 1143.1 L1509.8 1182 L1511.4 1156.5 L1513 1191.4 L1514.1 1211.5 L1515.4 1177.9 L1516.8 1188.7 L1518.1 1218.2 L1519.2 1238.3 L1520.5 1200.7 L1521.9 1226.2 L1523 1246.3 L1524.3 1215.5 L1525.6 1239.6 L1526.7 1271.8 L1528 1243.6 L1529.4 1274.5 L1530.7 1245 L1532.1 1204.8 L1533.4 1186 L1534.5 1163.2 L1535.8 1173.9 L1537.2 1161.9 L1538.5 1147.1 L1540.1 1156.5 L1541.5 1164.5 L1542.8 1135 L1544.4 1114.9 L1545.7 1153.8 L1547.1 1175.3 L1548.4 1200.7 L1550 1222.2 L1551.4 1191.4 L1552.7 1164.5 L1553.8 1157.8 L1555.1 1212.8 L1556.2 1279.8 L1557.5 1320.1 L1559.2 1333.5 L1560.5 1338.8 L1561 1266.4 L1561.6 1182 L1562.6 1207.4 L1564 1191.4 L1565.6 1176.6 L1566.9 1168.6 L1568 1161.9 L1569.3 1173.9 L1570.7 1177.9 L1572 1164.5 L1573.4 1186 L1574.7 1153.8 L1576 1124.3 L1577.1 1100.2 L1578.7 1098.8 L1580.6 1086.8 L1582.2 1092.1 L1584.1 1098.8 L1586 1106.9 L1587.6 1076 L1589.5 1081.4 L1591.3 1089.4 L1592.9 1072 L1594.8 1057.3 L1596.4 1022.4 L1598 1007.7 L1600.2 1009 L1602.3 1019.7 L1604.2 1010.3 L1606.1 1006.3 L1607.7 1030.5 L1609 1070.7 L1610 1070.7 L1611.3 1102.9 L1612.7 1055.9 L1614.3 1077.4 L1615.9 1069.3 L1617.5 1081.4 L1619.4 1082.7 L1621.3 1084.1 L1622.9 1072 L1624.2 1068 L1625.6 1034.5 L1627.2 1026.4 L1628.8 1018.4 L1630.4 1029.1 L1632 1022.4 L1633.3 1068 L1634.7 1129.7 L1636 1108.2 L1637.9 1156.5 L1639.5 1128.3 L1640.8 1135 L1641.9 1184.6 L1643.3 1116.3 L1644.9 1110.9 L1646.2 1068 L1647.5 1043.9 L1648.9 1033.1 L1650.2 1034.5 L1651.6 1030.5 L1652.9 1026.4 L1654.2 1017 L1655.9 1006.3 L1657.5 1049.2 L1658.8 1014.4 L1660.1 990.2 L1661.5 978.2 L1662.8 976.8 L1664.4 1009 L1665.5 1010.3 L1666.9 1073.4 L1668.2 1027.8 L1669.5 1003.6 L1670.9 992.9 L1672.2 1007.7 L1673.6 1001 L1674.9 983.5 L1676.2 978.2 L1677.6 1006.3 L1678.9 1019.7 L1680.3 1051.9 L1681.6 1081.4 L1682.9 1100.2 L1684.6 1127 L1686.4 1156.5 L1688.3 1184.6 L1689.9 1149.8 L1691.5 1121.6 L1692.9 1106.9 L1694.2 1104.2 L1695.5 1081.4 L1696.9 1084.1 L1698.2 1062.6 L1699.8 1047.9 L1701.4 1039.8 L1703.1 1047.9 L1704.4 1061.3 L1705.7 1089.4 L1707.1 1121.6 L1708.7 1141.7 L1710 1149.8 L1711.4 1096.2 L1712.2 1062.6 L1713.5 1105.5 L1715.1 1092.1 L1716.7 1089.4 L1718.3 1086.8 L1719.9 1086.8 L1721 1151.1 L1722.6 1175.3 L1724 1153.8 L1725.3 1135 L1726.7 1137.7 L1728 1121.6 L1729.9 1157.8 L1731.2 1116.3 L1732.6 1073.4 L1733.6 1049.2 L1735 1078.7 L1736.3 1081.4 L1737.6 1102.9 L1739 1101.5 L1740.1 1068 L1740.9 1046.5 L1742.2 1076 L1743.5 1102.9 L1744.6 1128.3 L1746.2 1135 L1747.3 1177.9 L1748.1 1207.4 L1749.4 1219.5 L1750.8 1207.4 L1752.1 1191.4 L1753.5 1180.6 L1755.1 1222.2 L1756.4 1203.4 L1757.5 1177.9 L1758.6 1164.5 L1759.9 1157.8 L1761.2 1176.6 L1762.6 1194 L1763.9 1192.7 L1765.3 1203.4 L1766.6 1239.6 L1768 1269.1 L1769 1207.4 L1770.1 1175.3 L1771.4 1169.9 L1772.5 1195.4 L1773.9 1216.8 L1775.2 1203.4 L1776.5 1186 L1777.9 1176.6 L1779.2 1168.6 L1780.6 1172.6 L1781.6 1167.2 L1783 1183.3 L1784.3 1143.1 L1785.7 1118.9 L1787 1156.5 L1788.3 1171.2 L1789.7 1194 L1791 1203.4 L1792.4 1210.1 L1793.7 1228.9 L1795 1246.3 L1796.4 1223.5 L1797.7 1245 L1799.1 1231.6 L1800.4 1220.9 L1801.7 1195.4 L1803.1 1186 L1804.2 1214.1 L1805.5 1242.3 L1806.8 1246.3 L1808.2 1277.2 L1809.2 1297.3 L1811.1 1302.6 L1812.5 1285.2 L1813.8 1293.3 L1814.9 1308 L1816 1263.8 L1817 1207.4 L1818.1 1164.5 L1819.4 1140.4 L1820.8 1121.6 L1821.9 1108.2 L1823.2 1139.1 L1824.5 1148.4 L1826.1 1121.6 L1827.5 1098.8 L1828.8 1084.1 L1830.4 1065.3 L1831.8 1081.4 L1833.1 1049.2 L1834.2 1015.7 L1835.8 1022.4 L1837.1 1041.2 L1838.5 1061.3 L1839.8 1058.6 L1841.2 1065.3 L1842.5 1068 L1843.8 1078.7 L1845.2 1059.9 L1846.8 1054.6 L1848.1 1085.4 L1848.9 1114.9 L1850.3 1096.2 L1851.6 1098.8 L1853 1094.8 L1854.3 1096.2 L1855.6 1108.2 L1857 1118.9 L1858.1 1129.7 L1859.4 1078.7 L1860.7 1027.8 L1862.1 1018.4 L1863.2 1014.4 L1864.5 1062.6 L1865.8 1055.9 L1867.2 1038.5 L1868.5 1030.5 L1869.9 1094.8 L1871.2 1093.5 L1872.5 1055.9 L1873.9 1021.1 L1875.8 1010.3 L1876.8 1089.4 L1877.6 1144.4 L1879 1108.2 L1880.3 1089.4 L1881.4 1081.4 L1882.7 1118.9 L1884.1 1109.6 L1885.4 1117.6 L1886.7 1124.3 L1888.1 1121.6 L1889.4 1141.7 L1890.8 1161.9 L1892.1 1172.6 L1893.5 1267.8 L1894.8 1261.1 L1896.1 1262.4 L1897.5 1298.6 L1898.3 1226.2 L1899.6 1200.7 L1901 1183.3 L1902.3 1200.7 L1903.6 1220.9 L1905 1231.6 L1906.3 1231.6 L1907.7 1228.9 L1909 1208.8 L1910.1 1199.4 L1911.2 1228.9 L1912.5 1245 L1913.6 1291.9 L1914.9 1282.5 L1916.2 1253 L1917.6 1234.3 L1918.9 1224.9 L1920.3 1245 L1921.6 1262.4 L1923 1267.8 L1924.3 1287.9 L1925.6 1247.7 L1926.7 1234.3 L1928 1250.3 L1929.4 1253 L1930.7 1277.2 L1932.3 1293.3 L1933.7 1310.7 L1935.3 1328.1 L1936.9 1314.7 L1938.2 1298.6 L1939.3 1269.1 L1940.7 1245 L1942 1254.4 L1943.3 1255.7 L1944.7 1262.4 L1946 1294.6 L1946.8 1258.4 L1949.1 1271.6" stroke="#7e57c2" stroke-width="1.9" fill="none" stroke-linejoin="round"/>
<path d="M18 1083.4C18.7 1088.7 20.3 1102.1 22.1 1115.5C23.9 1128.9 26.4 1150.6 28.8 1163.8C31.1 1177 34.2 1192.9 36 1194.6C37.8 1196.4 38.2 1179.3 39.5 1174.5C40.7 1169.8 42 1167.5 43.5 1166C45.1 1164.4 47.1 1171.8 48.9 1165.1C50.7 1158.5 52.5 1136.8 54.2 1126.3C56 1115.8 57.8 1110.2 59.6 1102.1C61.4 1094.1 63.2 1088.7 65 1078C66.8 1067.3 68.8 1045.8 70.3 1037.8C71.9 1029.7 72.9 1031.5 74.4 1029.7C75.8 1027.9 77.6 1024.8 78.9 1027C80.3 1029.3 80.9 1036.4 82.4 1043.1C83.9 1049.8 86 1060.1 87.8 1067.3C89.6 1074.4 90.9 1080.7 93.1 1086C95.4 1091.4 98.7 1098.6 101.2 1099.4C103.6 1100.3 105.4 1091.4 107.9 1091.4C110.3 1091.4 113.9 1091.8 115.9 1099.4C117.9 1107 117.9 1122.2 119.9 1137C122 1151.7 125.5 1173.2 128 1187.9C130.5 1202.7 133 1216.3 134.7 1225.5C136.4 1234.6 136.8 1241.6 138.2 1242.9C139.5 1244.3 141.3 1236.4 142.7 1233.5C144.2 1230.6 145.6 1229.1 146.8 1225.5C147.9 1221.9 148.1 1225 149.4 1212.1C150.8 1199.1 153 1167.4 154.8 1147.7C156.6 1128.1 158.4 1112 160.2 1094.1C162 1076.2 163.7 1053.4 165.5 1040.5C167.3 1027.5 169.1 1022.6 170.9 1016.3C172.7 1010.1 174.5 1002.9 176.3 1002.9C178.1 1002.9 179.8 1012.7 181.6 1016.3C183.4 1019.9 185.2 1019 187 1024.4C188.8 1029.7 190.6 1036 192.4 1048.5C194.1 1061 196.6 1086.9 197.7 1099.4C198.8 1112 197.7 1111.5 199.1 1123.6C200.4 1135.7 203.3 1159.3 205.8 1171.9C208.2 1184.4 211.1 1193.8 213.8 1198.7C216.5 1203.6 219.4 1202.7 221.9 1201.4C224.3 1200 226.5 1192.4 228.6 1190.6C230.6 1188.8 232.4 1192.6 233.9 1190.6C235.5 1188.6 236.4 1181 237.9 1178.6C239.5 1176.1 241.6 1177.9 243.3 1175.9C245 1173.9 246.3 1164.5 248.1 1166.5C249.9 1168.5 251.9 1178.1 254 1187.9C256.1 1197.8 259 1215 260.7 1225.5C262.4 1236 262.4 1247.6 264.2 1251C266 1254.3 269.1 1248.5 271.5 1245.6C273.8 1242.7 276.6 1238.2 278.2 1233.5C279.7 1228.8 279.3 1225.3 280.9 1217.4C282.4 1209.6 285.3 1187.5 287.6 1186.6C289.8 1185.7 292 1205.6 294.3 1212.1C296.5 1218.6 298.5 1219.5 301 1225.5C303.4 1231.5 306.8 1245.4 309 1248.3C311.2 1251.2 312.4 1248.1 314.4 1242.9C316.4 1237.8 319.1 1225.7 321.1 1217.4C323.1 1209.2 324.9 1203.1 326.4 1193.3C328 1183.5 328.9 1168.3 330.5 1158.4C332 1148.6 334.3 1140.1 335.8 1134.3C337.3 1128.5 337.7 1122.2 339.3 1123.6C340.9 1124.9 342.9 1137.9 345.2 1142.4C347.5 1146.8 351.1 1148.2 353.3 1150.4C355.4 1152.6 356.3 1148.6 358.1 1155.8C359.9 1162.9 361.7 1182.1 364 1193.3C366.3 1204.5 369.8 1213 372 1222.8C374.3 1232.6 375.7 1244.3 377.4 1252.3C379 1260.3 380.2 1270.5 381.9 1270.5C383.7 1270.5 386.4 1257.6 388.1 1252.3C389.8 1247 390.6 1243.4 392.1 1238.9C393.7 1234.4 395.7 1232.6 397.5 1225.5C399.3 1218.3 401.1 1208.9 402.9 1196C404.7 1183 407 1157.9 408.2 1147.7C409.4 1137.6 409 1137.4 410 1135C411 1132.7 412.5 1131.5 414 1133.7C415.6 1135.9 417.6 1139.7 419.4 1148.4C421.2 1157.2 422.7 1175.3 424.7 1186C426.8 1196.7 429.6 1205.4 431.5 1212.8C433.3 1220.2 434.2 1229.3 436 1230.2C437.8 1231.1 440 1221.7 442.2 1218.2C444.3 1214.6 446.9 1210.1 448.9 1208.8C450.9 1207.4 452.5 1216.2 454.2 1210.1C456 1204.1 457.6 1184.6 459.6 1172.6C461.6 1160.5 464.3 1148.4 466.3 1137.7C468.3 1127 470.1 1119.4 471.7 1108.2C473.2 1097 474.1 1078.1 475.7 1070.7C477.3 1063.3 479.2 1067.8 481.1 1064C482.9 1060.2 485 1045.9 487 1047.9C489 1049.9 491 1066.4 493.1 1076C495.3 1085.6 498.3 1098.8 499.8 1105.5C501.4 1112.2 501.4 1106.4 502.5 1116.3C503.6 1126.1 505 1149.8 506.5 1164.5C508.1 1179.3 510.2 1198.9 511.9 1204.8C513.6 1210.6 515.4 1198.9 516.7 1199.4C518.1 1199.8 518.5 1205.4 519.9 1207.4C521.4 1209.5 523.5 1208.8 525.3 1211.5C527.1 1214.1 529.1 1218.4 530.7 1223.5C532.2 1228.7 533.3 1234.3 534.7 1242.3C536.1 1250.3 537.7 1268.2 539.3 1271.8C540.8 1275.4 542.2 1266.7 544.1 1263.8C546 1260.9 548.8 1262.4 550.8 1254.4C552.8 1246.3 554.1 1225.8 556.2 1215.5C558.2 1205.2 561.1 1197.4 562.9 1192.7C564.6 1188 565.5 1193.8 566.9 1187.3C568.2 1180.8 569.1 1164.8 570.9 1153.8C572.7 1142.9 575.4 1134.6 577.6 1121.6C579.8 1108.7 582.3 1087.2 584.3 1076C586.3 1064.9 587.4 1059.1 589.7 1054.6C591.9 1050.1 595.8 1051.5 597.7 1049.2C599.6 1047 599.4 1041.8 600.9 1041.2C602.5 1040.5 605.4 1041.6 607.1 1045.2C608.8 1048.8 609.3 1055.5 611.1 1062.6C612.9 1069.8 616 1083.4 617.8 1088.1C619.6 1092.8 620.3 1087 621.9 1090.8C623.4 1094.6 625.2 1102.6 627.2 1110.9C629.2 1119.2 631.7 1133.2 633.9 1140.4C636.2 1147.6 638.6 1150.2 640.6 1153.8C642.6 1157.4 644.2 1166.3 646 1161.9C647.8 1157.4 649.6 1139.5 651.4 1127C653.1 1114.5 655.2 1097.5 656.7 1086.8C658.3 1076 659.2 1071.1 660.7 1062.6C662.3 1054.1 664.3 1042.7 666.1 1035.8C667.9 1028.9 669.5 1023.7 671.5 1021.1C673.5 1018.5 676.6 1018.9 678.2 1020.3C679.7 1021.6 679.5 1026.5 680.9 1029.1C682.2 1031.7 684 1031.1 686.2 1035.8C688.4 1040.5 692.5 1050.6 694.3 1057.3C696 1064 695.6 1068.9 696.9 1076C698.3 1083.2 700.5 1094.1 702.3 1100.2C704.1 1106.2 706.2 1110.2 707.7 1112.2C709.1 1114.3 709.5 1107.1 710.9 1112.2C712.2 1117.4 713.8 1133.5 715.7 1143.1C717.6 1152.7 720.2 1161.9 722.4 1169.9C724.7 1177.9 726.8 1183.5 729.1 1191.4C731.4 1199.2 734.3 1215.5 736.4 1216.8C738.4 1218.2 739.7 1206.8 741.2 1199.4C742.7 1192 743.6 1181.5 745.2 1172.6C746.8 1163.6 748.6 1154.3 750.6 1145.8C752.6 1137.3 755.5 1128.8 757.3 1121.6C759.1 1114.5 759.7 1107.1 761.3 1102.9C762.9 1098.6 764.5 1098.6 766.7 1096.2C768.8 1093.7 772.2 1087.2 774.2 1088.1C776.2 1089 776.9 1097.3 778.7 1101.5C780.6 1105.8 783.4 1110.5 785.4 1113.6C787.4 1116.7 789 1118.3 790.8 1120.3C792.6 1122.3 794.4 1125 796.2 1125.7C798 1126.3 799.7 1124.3 801.5 1124.3C803.3 1124.3 805.5 1127 806.9 1125.7C808.3 1124.3 808.5 1121.9 810 1116C811.5 1110.1 814 1099.6 816 1090.3C818 1081 820.6 1070.2 822.1 1060.2C823.6 1050.1 824.1 1035 825.1 1030C826.1 1025 826.8 1026.5 828.1 1030C829.4 1033.5 830.9 1041.5 832.6 1051.1C834.4 1060.7 836.6 1074.7 838.7 1087.3C840.7 1099.9 842.8 1115.1 844.7 1126.5C846.6 1138 848.6 1154.1 850.1 1156.1C851.6 1158.1 852.4 1150.6 853.7 1138.6C855.1 1126.6 856.5 1099.4 858.3 1084.3C860 1069.2 862.3 1060.7 864.3 1048.1C866.3 1035.5 868.7 1016.6 870.3 1008.9C871.9 1001.2 872.7 1000.9 874 1001.9C875.2 1002.9 876.5 1009.2 877.9 1014.9C879.3 1020.6 880.6 1025.5 882.4 1036C884.2 1046.6 886.4 1062.2 888.4 1078.3C890.5 1094.3 892.5 1116 894.5 1132.6C896.5 1149.2 898.7 1165.2 900.5 1177.8C902.3 1190.4 903.5 1204 905 1208C906.5 1212 907.8 1206.5 909.6 1201.9C911.3 1197.4 913.8 1188.9 915.6 1180.8C917.4 1172.8 918.6 1162.7 920.1 1153.7C921.6 1144.6 923.2 1133.8 924.6 1126.5C926.1 1119.2 927.3 1111.9 928.6 1109.9C929.8 1107.9 930.8 1109.2 932.2 1114.5C933.5 1119.7 935 1132.6 936.7 1141.6C938.5 1150.7 940.7 1157.2 942.7 1168.8C944.8 1180.3 947.2 1200.4 948.8 1211C950.4 1221.6 950.9 1230.4 952.4 1232.1C953.9 1233.9 956.1 1225.6 957.8 1221.6C959.6 1217.5 961.5 1209.5 963 1208C964.5 1206.5 965.5 1212 966.9 1212.5C968.3 1213 969.9 1209.2 971.4 1211C972.9 1212.8 974.4 1218.9 975.9 1223.1C977.4 1227.2 978.9 1236.7 980.5 1235.7C982 1234.7 983.2 1230.2 985 1217C986.7 1203.9 989 1176.8 991 1156.7C993 1136.6 995.5 1114 997.1 1096.4C998.6 1078.8 998.6 1064.7 1000.1 1051.1C1001.6 1037.5 1004.1 1026 1006.1 1014.9C1008.1 1003.8 1010.4 993.3 1012.1 984.7C1013.9 976.2 1014.9 968.4 1016.7 963.6C1018.4 958.8 1020.7 959.6 1022.7 956.1C1024.7 952.5 1027 946.9 1028.7 942.5C1030.5 938.1 1031.7 931.6 1033.3 929.8C1034.8 928.1 1036.2 933.1 1037.8 931.9C1039.4 930.8 1041.4 923.6 1042.9 922.9C1044.4 922.1 1045.7 922.1 1046.8 927.4C1048 932.7 1048.3 941 1049.8 954.6C1051.4 968.1 1053.9 992.3 1055.9 1008.9C1057.9 1025.5 1060.2 1039.5 1061.9 1054.1C1063.7 1068.7 1065.2 1088.3 1066.4 1096.4C1067.7 1104.4 1068.2 1103.4 1069.5 1102.4C1070.7 1101.4 1072.2 1097.4 1074 1090.3C1075.7 1083.3 1078 1067.2 1080 1060.2C1082 1053.1 1083.9 1052.3 1086.1 1048.1C1088.2 1043.9 1090.7 1034.6 1093 1035.1C1095.3 1035.6 1097.8 1048.4 1099.6 1051.1C1101.5 1053.8 1102.4 1053.9 1104.2 1051.1C1105.9 1048.3 1108.4 1037 1110.2 1034.5C1111.9 1032 1113 1036.4 1114.7 1036C1116.5 1035.7 1118.7 1033.5 1120.7 1032.4C1122.8 1031.3 1125 1026.3 1126.8 1029.4C1128.5 1032.5 1129.5 1045.7 1131.3 1051.1C1133.1 1056.5 1135.3 1058.6 1137.3 1061.7C1139.4 1064.7 1141.6 1065.9 1143.4 1069.2C1145.1 1072.5 1146.4 1078.3 1147.9 1081.3C1149.4 1084.3 1151 1087.6 1152.4 1087.3C1153.8 1087.1 1155.1 1078.8 1156.3 1079.8C1157.6 1080.8 1158.6 1087.1 1160 1093.3C1161.3 1099.6 1163 1109.4 1164.5 1117.5C1166 1125.5 1167.3 1134.6 1169 1141.6C1170.8 1148.7 1173 1154.6 1175.1 1159.7C1177.1 1164.8 1179.3 1172.4 1181.1 1172.4C1182.8 1172.4 1183.9 1167.9 1185.6 1159.7C1187.4 1151.6 1189.4 1135.1 1191.6 1123.5C1193.9 1111.9 1196.9 1099.9 1199.2 1090.3C1201.4 1080.8 1203.7 1070.7 1205.2 1066.2C1206.7 1061.7 1207.4 1063.5 1208.2 1063.2C1209 1062.8 1208.8 1062.5 1210 1064C1211.2 1065.4 1213.6 1068.2 1215.4 1072C1217.2 1075.8 1218.9 1079.8 1220.7 1086.8C1222.5 1093.7 1224.3 1106.9 1226.1 1113.6C1227.9 1120.3 1229.7 1124.3 1231.5 1127C1233.2 1129.7 1235.5 1127.9 1236.8 1129.7C1238.2 1131.5 1238.4 1130.1 1239.5 1137.7C1240.6 1145.3 1241.7 1165 1243.5 1175.3C1245.3 1185.5 1247.9 1192.3 1250.2 1199.4C1252.6 1206.5 1255.9 1216.7 1257.7 1217.6C1259.5 1218.5 1259.5 1214.1 1261 1204.8C1262.4 1195.5 1264.5 1175.7 1266.3 1161.9C1268.1 1148 1269.9 1132.4 1271.7 1121.6C1273.5 1110.9 1275.3 1103.3 1277 1097.5C1278.7 1091.7 1280.5 1086.3 1281.9 1086.8C1283.2 1087.2 1283.9 1091.7 1285.1 1100.2C1286.3 1108.7 1287.5 1127.9 1289.1 1137.7C1290.7 1147.6 1292.7 1155.2 1294.5 1159.2C1296.3 1163.1 1298 1160.9 1299.8 1161.3C1301.6 1161.8 1303.9 1165.8 1305.2 1161.9C1306.5 1157.9 1306.8 1147.6 1307.9 1137.7C1309 1127.9 1310.6 1113.1 1311.9 1102.9C1313.2 1092.6 1314.8 1081.8 1315.9 1076C1317 1070.2 1317.5 1067.8 1318.6 1068C1319.7 1068.2 1321.1 1073.6 1322.6 1077.4C1324.2 1081.2 1326.4 1088.3 1328 1090.8C1329.6 1093.2 1330.7 1093.2 1332 1092.1C1333.4 1091 1334.7 1087.7 1336 1084.1C1337.4 1080.5 1338.5 1077.8 1340.1 1070.7C1341.6 1063.5 1343.9 1049.2 1345.4 1041.2C1347 1033.1 1348.4 1025.9 1349.4 1022.4C1350.5 1018.9 1350.5 1018 1351.6 1020.3C1352.7 1022.5 1354.5 1029.2 1356.2 1035.8C1357.8 1042.4 1359.5 1053.5 1361.5 1059.9C1363.5 1066.4 1366 1073.1 1368.2 1074.7C1370.5 1076.3 1372.9 1069.3 1374.9 1069.3C1376.9 1069.3 1378.7 1073.8 1380.3 1074.7C1381.9 1075.6 1382.7 1071.8 1384.3 1074.7C1385.9 1077.6 1387.9 1087.1 1389.7 1092.1C1391.5 1097.2 1393.2 1104.3 1395 1105C1396.9 1105.7 1399.1 1097 1400.9 1096.2C1402.7 1095.3 1404.3 1101.5 1405.8 1100.2C1407.2 1098.8 1408.2 1093.7 1409.8 1088.1C1411.3 1082.5 1413.6 1070.7 1415.1 1066.7C1416.7 1062.6 1418.1 1064.2 1419.2 1064C1420.3 1063.7 1420.5 1067.8 1421.9 1065.3C1423.2 1062.9 1425.4 1052.8 1427.2 1049.2C1429 1045.6 1431 1041.6 1432.6 1043.9C1434.1 1046.1 1435.3 1054.1 1436.6 1062.6C1437.9 1071.1 1439.1 1082.3 1440.6 1094.8C1442.2 1107.3 1444.2 1123.9 1446 1137.7C1447.8 1151.6 1449.6 1166.8 1451.4 1177.9C1453.1 1189.1 1454.9 1198.6 1456.7 1204.8C1458.5 1210.9 1460.5 1214.5 1462.1 1215C1463.6 1215.4 1464.5 1213.6 1466.1 1207.4C1467.7 1201.3 1469.7 1188.7 1471.5 1177.9C1473.3 1167.2 1475 1154.3 1476.8 1143.1C1478.6 1131.9 1480.6 1123.9 1482.2 1110.9C1483.8 1097.9 1484.4 1075.4 1486.2 1065.3C1488 1055.3 1491.4 1051.9 1492.9 1050.6C1494.5 1049.2 1494.5 1052.1 1495.6 1057.3C1496.7 1062.4 1498.3 1076.9 1499.6 1081.4C1501 1085.9 1502.3 1081.4 1503.6 1084.1C1505 1086.8 1506.3 1093 1507.7 1097.5C1509 1102 1510.3 1104.6 1511.7 1110.9C1513 1117.2 1514.1 1127.9 1515.7 1135C1517.3 1142.2 1519.3 1145.8 1521.1 1153.8C1522.9 1161.9 1524.9 1173 1526.4 1183.3C1528 1193.6 1529.1 1209.7 1530.5 1215.5C1531.8 1221.3 1533 1218.6 1534.5 1218.2C1536 1217.7 1537.7 1216.4 1539.3 1212.8C1540.9 1209.2 1542.2 1202.1 1543.9 1196.7C1545.5 1191.4 1547.4 1185.3 1549.2 1180.6C1551 1175.9 1553 1166.8 1554.6 1168.6C1556.2 1170.3 1557.1 1183.5 1558.6 1191.4C1560.2 1199.2 1562.2 1210 1564 1215.5C1565.8 1220.9 1567.8 1223.4 1569.3 1224.1C1570.9 1224.7 1572.1 1221.2 1573.4 1219.5C1574.6 1217.9 1576 1219.7 1576.9 1214.1C1577.7 1208.6 1577.5 1196.9 1578.7 1186C1579.9 1175 1582.1 1159.6 1584.1 1148.4C1586.1 1137.3 1588.8 1128.8 1590.8 1118.9C1592.8 1109.1 1594.4 1097.9 1596.2 1089.4C1598 1081 1599.6 1074.5 1601.5 1068C1603.4 1061.5 1606 1053.2 1607.4 1050.6C1608.8 1047.9 1608.5 1052.4 1610 1051.9C1611.5 1051.5 1614.7 1046.5 1616.7 1047.9C1618.7 1049.2 1620.3 1056.6 1622.1 1059.9C1623.9 1063.3 1625.5 1068.2 1627.4 1068C1629.4 1067.8 1631.8 1058.2 1633.6 1058.6C1635.4 1059.1 1636.5 1066 1638.2 1070.7C1639.8 1075.4 1641.7 1083.5 1643.5 1086.8C1645.3 1090 1646.9 1089.8 1648.9 1090C1650.9 1090.2 1653.8 1091.8 1655.6 1088.1C1657.4 1084.4 1658 1076.3 1659.6 1068C1661.2 1059.7 1663.2 1046.3 1665 1038.5C1666.8 1030.7 1668.6 1025.1 1670.3 1021.1C1672.1 1017 1674 1015.7 1675.7 1014.4C1677.4 1013 1678.7 1009.4 1680.3 1013C1681.8 1016.6 1683.4 1026.7 1685.1 1035.8C1686.8 1045 1688.4 1058.6 1690.5 1068C1692.5 1077.4 1694.9 1086.1 1697.2 1092.1C1699.4 1098.2 1701.8 1102.9 1703.9 1104.2C1705.9 1105.5 1707.4 1103.1 1709.2 1100.2C1711 1097.3 1712.8 1089.4 1714.6 1086.8C1716.4 1084.1 1718.6 1081.8 1719.9 1084.1C1721.3 1086.3 1721.1 1094.4 1722.6 1100.2C1724.2 1106 1727.3 1116.9 1729.3 1118.9C1731.3 1121 1732.7 1113.8 1734.7 1112.2C1736.7 1110.7 1739.4 1110.7 1741.4 1109.6C1743.4 1108.4 1745 1103.5 1746.8 1105.5C1748.6 1107.5 1750.6 1114.9 1752.1 1121.6C1753.7 1128.3 1754.6 1138.2 1756.2 1145.8C1757.7 1153.4 1759.7 1159.8 1761.5 1167.2C1763.3 1174.6 1765.4 1184.4 1766.9 1190C1768.4 1195.6 1769 1199.2 1770.4 1200.7C1771.7 1202.3 1773.3 1200.3 1774.9 1199.4C1776.6 1198.5 1778.5 1196.9 1780.3 1195.4C1782.1 1193.8 1784 1193 1785.7 1190C1787.3 1187 1788.6 1178.5 1790.2 1177.4C1791.8 1176.3 1793.3 1181.4 1795 1183.3C1796.7 1185.2 1798.8 1186.9 1800.4 1188.7C1802 1190.5 1802.9 1188.2 1804.4 1194C1806 1199.8 1808 1215.1 1809.8 1223.5C1811.6 1231.9 1813.8 1241 1815.1 1244.4C1816.5 1247.9 1816.7 1247.9 1817.8 1244.4C1818.9 1241 1820.5 1228.4 1821.9 1223.5C1823.2 1218.7 1824.5 1219.5 1825.9 1215.5C1827.2 1211.5 1828.6 1209.7 1829.9 1199.4C1831.2 1189.1 1832.6 1170.3 1833.9 1153.8C1835.3 1137.3 1836.4 1113.6 1837.9 1100.2C1839.5 1086.8 1841.5 1079.2 1843.3 1073.4C1845.1 1067.5 1846.9 1065.8 1848.7 1065.3C1850.5 1064.9 1852.2 1067.1 1854 1070.7C1855.8 1074.3 1857.6 1084.8 1859.4 1086.8C1861.2 1088.8 1862.7 1084.5 1864.8 1082.7C1866.8 1081 1869.5 1078.9 1871.5 1076C1873.5 1073.1 1875.2 1067.1 1876.8 1065.3C1878.5 1063.5 1880 1063.5 1881.4 1065.3C1882.7 1067.1 1883.6 1072.5 1884.9 1076C1886.1 1079.6 1887.3 1079.2 1888.9 1086.8C1890.5 1094.4 1892.7 1108.7 1894.3 1121.6C1895.8 1134.6 1896.9 1155.1 1898.3 1164.5C1899.6 1173.9 1900.7 1171.7 1902.3 1177.9C1903.9 1184.2 1906.1 1195.4 1907.7 1202.1C1909.2 1208.8 1910.3 1212.1 1911.7 1218.2C1913 1224.2 1914.5 1236.1 1915.7 1238.3C1916.9 1240.4 1917.6 1230.6 1918.9 1231C1920.3 1231.5 1922.1 1237.7 1923.8 1241C1925.5 1244.2 1927.3 1245.7 1929.1 1250.3C1930.9 1255 1932.7 1264.9 1934.5 1269.1C1936.3 1273.4 1937.4 1274 1939.8 1275.8C1942.3 1277.7 1947.6 1279.4 1949.1 1280.2" stroke="#fdd835" stroke-width="1.9" fill="none" stroke-linejoin="round"/>
<path d="M2450 345.1 H2531 a4 4 0 0 1 4 4 V371.4 a4 4 0 0 1 -4 4 H2450 Z" fill="#ff9800"/>
<text x="2495" y="368.2" text-anchor="middle" font-family="Liberation Sans, Arial, sans-serif" font-size="22.2" letter-spacing="1.0" fill="#000">67.24</text>
<path d="M2450 375.3 H2531 a4 4 0 0 1 4 4 V401.9 a4 4 0 0 1 -4 4 H2450 Z" fill="#2962ff"/>
<text x="2495" y="398.6" text-anchor="middle" font-family="Liberation Sans, Arial, sans-serif" font-size="22.2" letter-spacing="1.0" fill="#fff">62.80</text>
<path d="M2450 405.8 H2531 a4 4 0 0 1 4 4 V432.7 a4 4 0 0 1 -4 4 H2450 Z" fill="#ff9800"/>
<text x="2495" y="429.2" text-anchor="middle" font-family="Liberation Sans, Arial, sans-serif" font-size="22.2" letter-spacing="1.0" fill="#000">62.58</text>
<path d="M2450 436.6 H2531 a4 4 0 0 1 4 4 V462.7 a4 4 0 0 1 -4 4 H2450 Z" fill="#ff9800"/>
<text x="2495" y="459.6" text-anchor="middle" font-family="Liberation Sans, Arial, sans-serif" font-size="22.2" letter-spacing="1.0" fill="#000">60.85</text>
<path d="M2450 515.4 H2531 a4 4 0 0 1 4 4 V542.2 a4 4 0 0 1 -4 4 H2450 Z" fill="#f23645"/>
<text x="2495" y="538.8" text-anchor="middle" font-family="Liberation Sans, Arial, sans-serif" font-size="22.2" letter-spacing="1.0" fill="#fff">55.32</text>
<path d="M2450 546.1 H2531 a4 4 0 0 1 4 4 V572.7 a4 4 0 0 1 -4 4 H2450 Z" fill="#ff9800"/>
<text x="2495" y="569.4" text-anchor="middle" font-family="Liberation Sans, Arial, sans-serif" font-size="22.2" letter-spacing="1.0" fill="#000">53.54</text>
<path d="M2450 1256.5 H2531 a4 4 0 0 1 4 4 V1283.1 a4 4 0 0 1 -4 4 H2450 Z" fill="#7e57c2"/>
<text x="2495" y="1279.8" text-anchor="middle" font-family="Liberation Sans, Arial, sans-serif" font-size="22.2" letter-spacing="1.0" fill="#fff">30.37</text>
<path d="M2450 1287 H2531 a4 4 0 0 1 4 4 V1313.9 a4 4 0 0 1 -4 4 H2450 Z" fill="#fdd835"/>
<text x="2495" y="1310.5" text-anchor="middle" font-family="Liberation Sans, Arial, sans-serif" font-size="22.2" letter-spacing="1.0" fill="#000">29.21</text>
<rect x="2456" y="56.5" width="78.5" height="46" rx="7" fill="#fff" stroke="#ebebee" stroke-width="1.5"/>
<text x="2495" y="87.5" text-anchor="middle" font-family="Liberation Sans, Arial, sans-serif" font-size="21.6" letter-spacing="0.6" fill="#16171b">USD</text>
<text x="18.3" y="36" font-family="Liberation Sans, Arial, sans-serif" font-size="21.6" letter-spacing="0.64" fill="#16171b"  xml:space="preserve">Jay1104 created with TradingView.com, Mar 24, 2026 17:56 UTC-4</text>
<text x="31.2" y="84.8" font-family="Liberation Sans, Arial, sans-serif" font-size="21.6" letter-spacing="0.29" fill="#16171b"  xml:space="preserve">Invesco Global Listed Private Equity ETF · 1D · NYSE Arca</text>
<text x="625" y="84.8" font-family="Liberation Sans, Arial, sans-serif" font-size="21.6" letter-spacing="0" fill="#16171b"  xml:space="preserve">O</text>
<text x="642.2" y="84.8" font-family="Liberation Sans, Arial, sans-serif" font-size="21.6" letter-spacing="0.7" fill="#f23645"  xml:space="preserve">54.89</text>
<text x="713" y="84.8" font-family="Liberation Sans, Arial, sans-serif" font-size="21.6" letter-spacing="0" fill="#16171b"  xml:space="preserve">H</text>
<text x="729.5" y="84.8" font-family="Liberation Sans, Arial, sans-serif" font-size="21.6" letter-spacing="0.7" fill="#f23645"  xml:space="preserve">55.63</text>
<text x="800" y="84.8" font-family="Liberation Sans, Arial, sans-serif" font-size="21.6" letter-spacing="0" fill="#16171b"  xml:space="preserve">L</text>
<text x="812.6" y="84.8" font-family="Liberation Sans, Arial, sans-serif" font-size="21.6" letter-spacing="0.7" fill="#f23645"  xml:space="preserve">54.89</text>
<text x="884.5" y="84.8" font-family="Liberation Sans, Arial, sans-serif" font-size="21.6" letter-spacing="0" fill="#16171b"  xml:space="preserve">C</text>
<text x="900.9" y="84.8" font-family="Liberation Sans, Arial, sans-serif" font-size="21.6" letter-spacing="0.7" fill="#f23645"  xml:space="preserve">55.32</text>
<text x="971" y="84.8" font-family="Liberation Sans, Arial, sans-serif" font-size="21.6" letter-spacing="0.67" fill="#f23645"  xml:space="preserve">−0.44 (−0.79%)</text>
<text x="31.2" y="114.4" font-family="Liberation Sans, Arial, sans-serif" font-size="21.6" letter-spacing="0.59" fill="#16171b"  xml:space="preserve">SMA (200, close)</text>
<text x="220.3" y="114.4" font-family="Liberation Sans, Arial, sans-serif" font-size="21.6" letter-spacing="0.1" fill="#ff9800"  xml:space="preserve">67.24</text>
<text x="31.2" y="145.2" font-family="Liberation Sans, Arial, sans-serif" font-size="21.6" letter-spacing="0.58" fill="#16171b"  xml:space="preserve">SMA (50, close)</text>
<text x="206.8" y="145.2" font-family="Liberation Sans, Arial, sans-serif" font-size="21.6" letter-spacing="0.8" fill="#2962ff"  xml:space="preserve">62.80</text>
<text x="31.5" y="843.2" font-family="Liberation Sans, Arial, sans-serif" font-size="21.6" letter-spacing="0.03" fill="#16171b"  xml:space="preserve">RSI (14, close)</text>
<text x="191.3" y="843.2" font-family="Liberation Sans, Arial, sans-serif" font-size="21.6" letter-spacing="0.26" fill="#7e57c2"  xml:space="preserve">30.37</text>
<text x="261.3" y="843.2" font-family="Liberation Sans, Arial, sans-serif" font-size="21.6" letter-spacing="-0.3" fill="#fdd835"  xml:space="preserve">29.21</text>
<text x="28.4" y="1426.5" text-anchor="middle" font-family="Liberation Sans, Arial, sans-serif" font-size="22.8" fill="#16171b" clip-path="url(#cL)">Jul</text>
<text x="235.6" y="1426.5" text-anchor="middle" font-family="Liberation Sans, Arial, sans-serif" font-size="23.7" font-weight="bold" letter-spacing="0.8" fill="#16171b">2022</text>
<text x="436.5" y="1426.5" text-anchor="middle" font-family="Liberation Sans, Arial, sans-serif" font-size="22.8"  fill="#16171b">Jul</text>
<text x="642.6" y="1426.5" text-anchor="middle" font-family="Liberation Sans, Arial, sans-serif" font-size="23.7" font-weight="bold" letter-spacing="0.8" fill="#16171b">2023</text>
<text x="843.2" y="1426.5" text-anchor="middle" font-family="Liberation Sans, Arial, sans-serif" font-size="22.8"  fill="#16171b">Jul</text>
<text x="1047" y="1426.5" text-anchor="middle" font-family="Liberation Sans, Arial, sans-serif" font-size="23.7" font-weight="bold" letter-spacing="0.8" fill="#16171b">2024</text>
<text x="1247.5" y="1426.5" text-anchor="middle" font-family="Liberation Sans, Arial, sans-serif" font-size="22.8"  fill="#16171b">Jul</text>
<text x="1454.8" y="1426.5" text-anchor="middle" font-family="Liberation Sans, Arial, sans-serif" font-size="23.7" font-weight="bold" letter-spacing="0.8" fill="#16171b">2025</text>
<text x="1652.5" y="1426.5" text-anchor="middle" font-family="Liberation Sans, Arial, sans-serif" font-size="22.8"  fill="#16171b">Jul</text>
<text x="1859.4" y="1426.5" text-anchor="middle" font-family="Liberation Sans, Arial, sans-serif" font-size="23.7" font-weight="bold" letter-spacing="0.8" fill="#16171b">2026</text>
<text x="2058.3" y="1426.5" text-anchor="middle" font-family="Liberation Sans, Arial, sans-serif" font-size="22.8"  fill="#16171b">Jul</text>
<text x="2265.6" y="1426.5" text-anchor="middle" font-family="Liberation Sans, Arial, sans-serif" font-size="23.7" font-weight="bold" letter-spacing="0.8" fill="#16171b">2027</text>
<g fill="#131313">
<path d="M21.7 1481.6H43.1V1508.5H32.3V1492.5H21.7Z"/>
<circle cx="51.9" cy="1486.9" r="5.45"/>
<path d="M63.2 1481.6H75.2L64.5 1508.5H52.2Z"/>
<text x="87.5" y="1508.5" font-family="Liberation Sans, Arial, sans-serif" font-size="37" font-weight="bold" letter-spacing="0.05">TradingView</text>
</g>
</svg>
</body></html>
